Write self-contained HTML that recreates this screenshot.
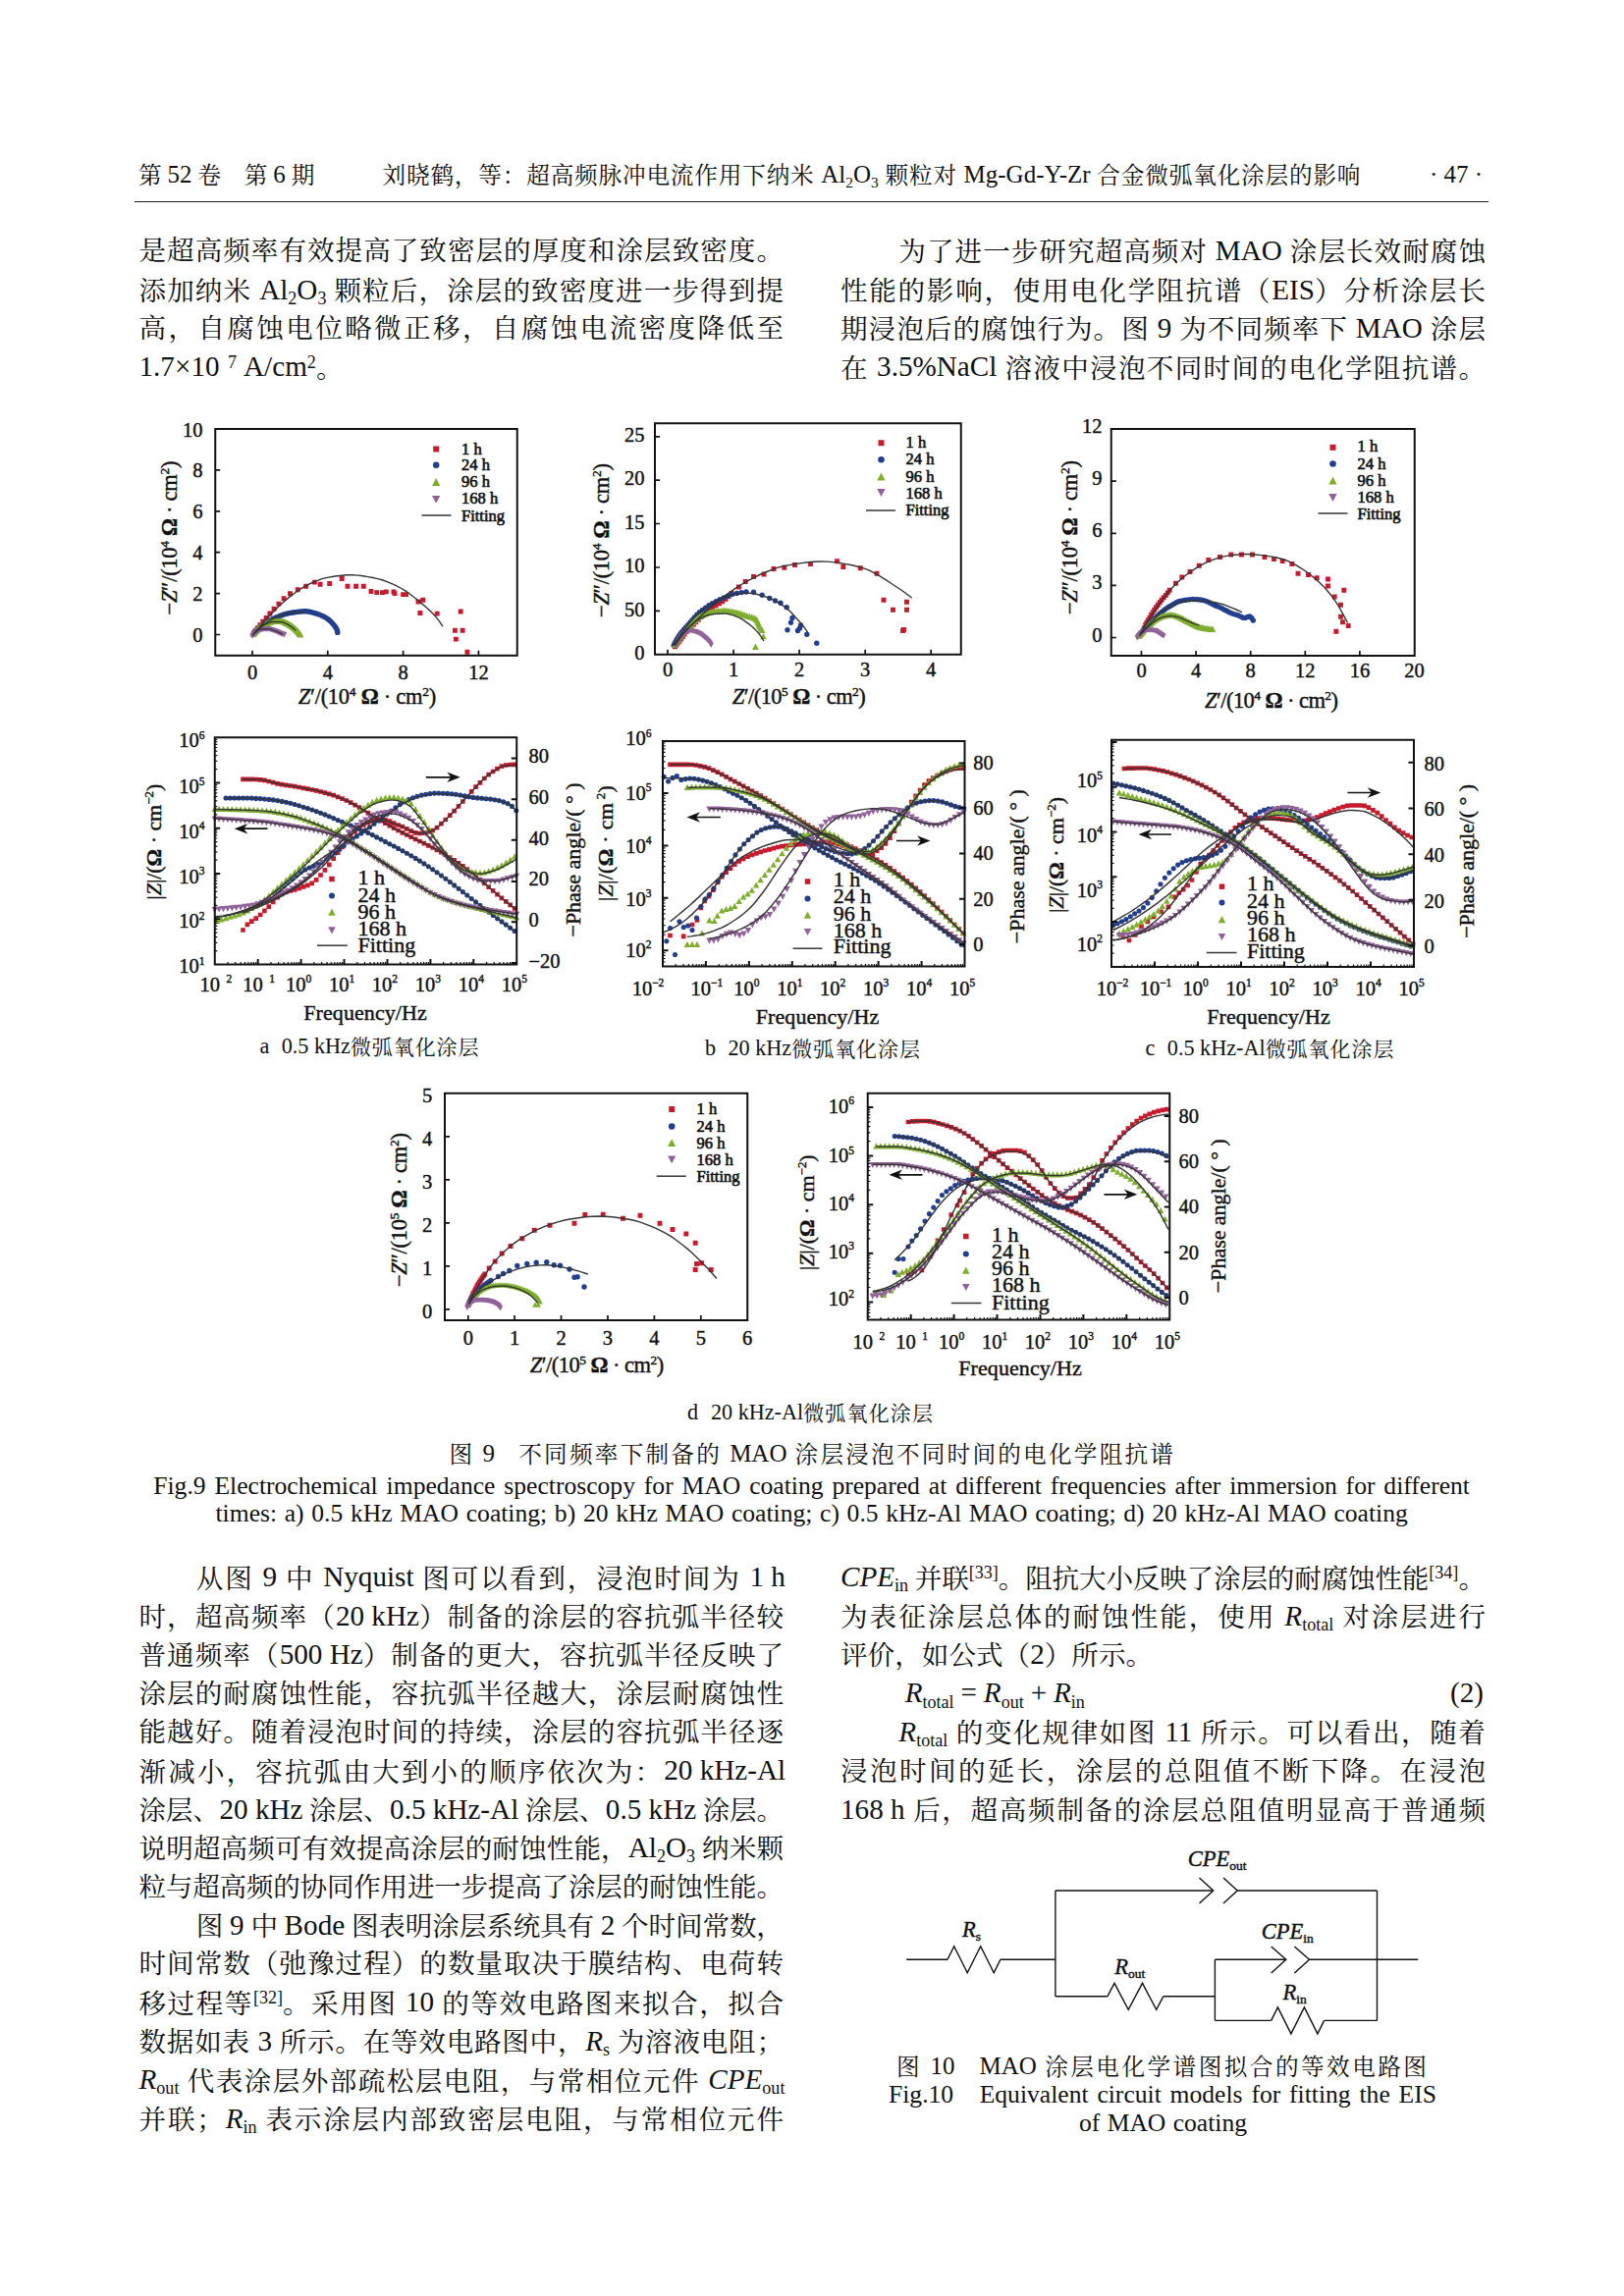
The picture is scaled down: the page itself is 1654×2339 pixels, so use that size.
<!DOCTYPE html><html lang="zh"><head><meta charset="utf-8"><title>p47</title><style>
html,body{margin:0;padding:0;background:#fff;}
body{width:1654px;height:2339px;position:relative;overflow:hidden;color:#111;
 font-family:"Liberation Serif","Noto Serif CJK SC",serif;}
.l{position:absolute;white-space:nowrap;font-weight:400;}
.l sub,.l sup{font-size:62%;line-height:0;}
.l sub{vertical-align:-0.27em;}
.l sup{vertical-align:0.5em;}
.b{font-size:27.6px;line-height:40px;height:40px;}
.en{font-size:1.057em;position:relative;top:-0.045em;letter-spacing:0;}
.h{font-size:23.65px;line-height:34px;height:34px;}
.e{font-size:25.6px;line-height:28px;height:28px;}
.s{font-size:21px;line-height:30px;height:30px;}
.j{text-align:justify;text-align-last:justify;}
i{font-style:italic;}
#rule{position:absolute;left:137px;top:205px;width:1379px;height:1.3px;background:#222;}
svg{position:absolute;overflow:visible;}
svg text{font-family:"Liberation Serif","Noto Serif CJK SC",serif;fill:#111;stroke:#111;stroke-width:.42px;}
</style></head><body>
<div id="rule"></div>
<div class="l h" id="t0" style="left:141.00px;top:162.25px;">第 <span class="en">52</span> 卷&emsp;第 <span class="en">6</span> 期</div>
<div class="l h" id="t1" style="left:389.50px;top:162.25px;letter-spacing:0.806px;">刘晓鹤，等：超高频脉冲电流作用下纳米 <span class="en">Al</span><sub><span class="en">2</span></sub><span class="en">O</span><sub><span class="en">3</span></sub> 颗粒对 <span class="en">Mg-Gd-Y-Zr</span> 合金微弧氧化涂层的影响</div>
<div class="l h" id="t2" style="left:1456.00px;top:162.25px;letter-spacing:-0.125px;"><span class="en">· 47 ·</span></div>
<div class="l b" id="t3" style="left:141.50px;top:236.45px;letter-spacing:0.992px;">是超高频率有效提高了致密层的厚度和涂层致密度。</div>
<div class="l b" id="t4" style="left:141.50px;top:275.83px;letter-spacing:1.071px;">添加纳米 <span class="en">Al</span><sub><span class="en">2</span></sub><span class="en">O</span><sub><span class="en">3</span></sub> 颗粒后，涂层的致密度进一步得到提</div>
<div class="l b" id="t5" style="left:141.50px;top:315.21px;letter-spacing:2.353px;">高，自腐蚀电位略微正移，自腐蚀电流密度降低至</div>
<div class="l b" id="t6" style="left:141.50px;top:354.59px;"><span class="en">1.7×10</span><sup>&nbsp;&nbsp;<span class="en">7</span></sup> <span class="en">A/cm</span><sup><span class="en">2</span></sup>。</div>
<div class="l b" id="t7" style="left:915.34px;top:236.45px;letter-spacing:1.006px;">为了进一步研究超高频对 <span class="en">MAO</span> 涂层长效耐腐蚀</div>
<div class="l b" id="t8" style="left:856.00px;top:275.83px;letter-spacing:1.688px;">性能的影响，使用电化学阻抗谱（<span class="en">EIS</span>）分析涂层长</div>
<div class="l b" id="t9" style="left:856.00px;top:315.21px;letter-spacing:1.021px;">期浸泡后的腐蚀行为。图 <span class="en">9</span> 为不同频率下 <span class="en">MAO</span> 涂层</div>
<div class="l b" id="t10" style="left:856.00px;top:354.59px;letter-spacing:1.275px;">在 <span class="en">3.5%NaCl</span> 溶液中浸泡不同时间的电化学阻抗谱。</div>
<div class="l b" id="t11" style="left:199.84px;top:1587.60px;letter-spacing:1.886px;">从图 <span class="en">9</span> 中 <span class="en">Nyquist</span> 图可以看到，浸泡时间为 <span class="en">1 h</span></div>
<div class="l b" id="t12" style="left:141.50px;top:1626.98px;letter-spacing:1.030px;">时，超高频率（<span class="en">20 kHz</span>）制备的涂层的容抗弧半径较</div>
<div class="l b" id="t13" style="left:141.50px;top:1666.36px;letter-spacing:1.030px;">普通频率（<span class="en">500 Hz</span>）制备的更大，容抗弧半径反映了</div>
<div class="l b" id="t14" style="left:141.50px;top:1705.74px;letter-spacing:0.992px;">涂层的耐腐蚀性能，容抗弧半径越大，涂层耐腐蚀性</div>
<div class="l b" id="t15" style="left:141.50px;top:1745.12px;letter-spacing:0.992px;">能越好。随着浸泡时间的持续，涂层的容抗弧半径逐</div>
<div class="l b" id="t16" style="left:141.50px;top:1784.50px;letter-spacing:2.112px;">渐减小，容抗弧由大到小的顺序依次为：<span class="en">20 kHz-Al</span></div>
<div class="l b" id="t17" style="left:141.50px;top:1823.88px;letter-spacing:-0.278px;">涂层、<span class="en">20 kHz</span> 涂层、<span class="en">0.5 kHz-Al</span> 涂层、<span class="en">0.5 kHz</span> 涂层。</div>
<div class="l b" id="t18" style="left:141.50px;top:1863.26px;letter-spacing:0.086px;">说明超高频可有效提高涂层的耐蚀性能，<span class="en">Al</span><sub><span class="en">2</span></sub><span class="en">O</span><sub><span class="en">3</span></sub> 纳米颗</div>
<div class="l b" id="t19" style="left:141.50px;top:1902.64px;letter-spacing:-0.251px;">粒与超高频的协同作用进一步提高了涂层的耐蚀性能。</div>
<div class="l b" id="t20" style="left:199.84px;top:1942.02px;letter-spacing:-0.140px;">图 <span class="en">9</span> 中 <span class="en">Bode</span> 图表明涂层系统具有 <span class="en">2</span> 个时间常数，</div>
<div class="l b" id="t21" style="left:141.50px;top:1981.40px;letter-spacing:0.992px;">时间常数（弛豫过程）的数量取决于膜结构、电荷转</div>
<div class="l b" id="t22" style="left:141.50px;top:2020.78px;letter-spacing:1.501px;">移过程等<sup><span class="en">[32]</span></sup>。采用图 <span class="en">10</span> 的等效电路图来拟合，拟合</div>
<div class="l b" id="t23" style="left:141.50px;top:2060.16px;letter-spacing:0.734px;">数据如表 <span class="en">3</span> 所示。在等效电路图中，<i><span class="en">R</span></i><sub><span class="en">s</span></sub> 为溶液电阻；</div>
<div class="l b" id="t24" style="left:141.50px;top:2099.54px;letter-spacing:1.415px;"><i><span class="en">R</span></i><sub><span class="en">out</span></sub> 代表涂层外部疏松层电阻，与常相位元件 <i><span class="en">CPE</span></i><sub><span class="en">out</span></sub></div>
<div class="l b" id="t25" style="left:141.50px;top:2138.92px;letter-spacing:1.821px;">并联；<i><span class="en">R</span></i><sub><span class="en">in</span></sub> 表示涂层内部致密层电阻，与常相位元件</div>
<div class="l b" id="t26" style="left:856.00px;top:1587.60px;letter-spacing:-0.190px;"><i><span class="en">CPE</span></i><sub><span class="en">in</span></sub> 并联<sup><span class="en">[33]</span></sup>。阻抗大小反映了涂层的耐腐蚀性能<sup><span class="en">[34]</span></sup>。</div>
<div class="l b" id="t27" style="left:856.00px;top:1626.98px;letter-spacing:1.969px;">为表征涂层总体的耐蚀性能，使用 <i><span class="en">R</span></i><sub><span class="en">total</span></sub> 对涂层进行</div>
<div class="l b" id="t28" style="left:856.00px;top:1666.36px;">评价，如公式（<span class="en">2</span>）所示。</div>
<div class="l b" id="t29" style="left:915.34px;top:1745.12px;letter-spacing:1.569px;"><i><span class="en">R</span></i><sub><span class="en">total</span></sub> 的变化规律如图 <span class="en">11</span> 所示。可以看出，随着</div>
<div class="l b" id="t30" style="left:856.00px;top:1784.50px;letter-spacing:2.377px;">浸泡时间的延长，涂层的总阻值不断下降。在浸泡</div>
<div class="l b" id="t31" style="left:856.00px;top:1823.88px;letter-spacing:1.630px;"><span class="en">168 h</span> 后，超高频制备的涂层总阻值明显高于普通频</div>
<div class="l b f" id="t32" style="left:921.63px;top:1705.74px;"><i><span class="en">R</span></i><sub><span class="en">total</span></sub> <span class="en">=</span> <i><span class="en">R</span></i><sub><span class="en">out</span></sub> <span class="en">+</span> <i><span class="en">R</span></i><sub><span class="en">in</span></sub></div>
<div class="l b" id="t33" style="left:1477.00px;top:1705.74px;"><span class="en">(2)</span></div>
<div class="l s" id="t34" style="left:264.50px;top:1051.50px;letter-spacing:0.913px;"><span class="en">a</span>&nbsp; <span class="en">0.5 kHz</span>微弧氧化涂层</div>
<div class="l s" id="t35" style="left:718.00px;top:1053.50px;letter-spacing:0.958px;"><span class="en">b</span>&nbsp; <span class="en">20 kHz</span>微弧氧化涂层</div>
<div class="l s" id="t36" style="left:1166.50px;top:1053.50px;letter-spacing:0.973px;"><span class="en">c</span>&nbsp; <span class="en">0.5 kHz-Al</span>微弧氧化涂层</div>
<div class="l s" id="t37" style="left:700.00px;top:1424.50px;letter-spacing:1.161px;"><span class="en">d</span>&nbsp; <span class="en">20 kHz-Al</span>微弧氧化涂层</div>
<div class="l h" id="t38" style="left:457.50px;top:1465.25px;letter-spacing:2.200px;">图 <span class="en">9</span>&nbsp;&nbsp;&nbsp;不同频率下制备的 <span class="en">MAO</span> 涂层浸泡不同时间的电化学阻抗谱</div>
<div class="l e" id="t39" style="left:156.25px;top:1500.00px;word-spacing:2.485px;">Fig.9 Electrochemical impedance spectroscopy for MAO coating prepared at different frequencies after immersion for different</div>
<div class="l e" id="t40" style="left:219.50px;top:1527.50px;word-spacing:1.290px;">times: a) 0.5 kHz MAO coating; b) 20 kHz MAO coating; c) 0.5 kHz-Al MAO coating; d) 20 kHz-Al MAO coating</div>
<div class="l h" id="t41" style="left:913.00px;top:2089.00px;letter-spacing:2.444px;">图 <span class="en">10</span>&nbsp;&nbsp;&nbsp;<span class="en">MAO</span> 涂层电化学谱图拟合的等效电路图</div>
<div class="l e" id="t42" style="left:905.00px;top:2120.00px;word-spacing:2.448px;">Fig.10&nbsp;&nbsp;&nbsp;Equivalent circuit models for fitting the EIS</div>
<div class="l e" id="t43" style="left:1099.00px;top:2148.50px;word-spacing:0.914px;">of MAO coating</div>
<svg width="1654" height="2339" viewBox="0 0 1654 2339" style="left:0;top:0"><g><path d="M258.9 644.4h0M259.5 643.7h0M260.7 642h0M262.6 639.7h0M264.9 636.8h0M267.8 633.3h0M271.1 629.4h0M274.9 625h0M279.1 620.2h0M283.9 615.1h0M289.1 609.7h0M295.5 604.7h0M303.2 600.8h0M311.7 597.3h0M320.4 593.1h0M326.1 595.2h0M335.7 594.5h0M348.2 589.5h0M354 597.3h0M362.6 597.3h0M370.3 597.3h0M378 602.5h0M383.7 603.6h0M389.5 603.6h0M393.3 602.9h0M401 602.9h0M402 604.6h0M410.6 605.6h0M413.5 605.6h0M426 613h0M430.8 611.3h0M427.9 624.5h0M445.2 625.1h0M469.2 623h0M463.4 642.3h0M471.1 642.3h0M464.4 651.1h0M475.9 664.3h0" stroke="#c81a2d" stroke-width="4.9" stroke-linecap="square" fill="none"/><path d="M258.9 644.8h0M259.8 643.8h0M260.8 642.8h0M261.7 641.9h0M262.7 640.9h0M263.7 640h0M264.7 639.2h0M265.7 638.3h0M266.8 637.4h0M267.8 636.6h0M268.9 635.8h0M270 635h0M271.2 634.3h0M272.3 633.6h0M273.4 632.9h0M274.6 632.2h0M275.8 631.6h0M277 630.9h0M278.2 630.3h0M279.5 629.8h0M280.7 629.2h0M281.9 628.7h0M283.2 628.2h0M284.4 627.7h0M285.7 627.3h0M287 626.8h0M288.3 626.3h0M289.6 625.9h0M290.9 625.5h0M292.2 625.2h0M293.5 624.9h0M294.8 624.6h0M296.1 624.4h0M297.4 624.2h0M298.8 624h0M300.1 623.8h0M301.4 623.6h0M302.8 623.4h0M304.1 623.2h0M305.5 623.1h0M306.8 623h0M308.2 622.9h0M309.5 622.8h0M310.9 622.8h0M312.2 622.9h0M313.5 623h0M314.9 623.2h0M316.2 623.5h0M317.5 623.8h0M318.9 624.2h0M320.2 624.5h0M321.5 624.9h0M322.7 625.3h0M324 625.7h0M325.3 626.1h0M326.6 626.6h0M327.8 627.2h0M329.1 627.8h0M330.3 628.4h0M331.4 629.1h0M332.5 629.7h0M333.7 630.5h0M334.7 631.3h0M335.8 632.2h0M336.8 633.1h0M337.8 634.1h0M338.7 635.1h0M339.6 636.1h0M340.4 637.1h0M341.3 638.2h0M342 639.4h0M342.7 640.6h0M343.2 641.8h0M343.6 643.1h0M343.8 644.4h0" stroke="#223f8e" stroke-width="5.4" stroke-linecap="round" fill="none"/><path d="M258 642.6l3.4 6.5h-6.8zM258.6 641.8l3.4 6.5h-6.8zM259.2 641.1l3.4 6.5h-6.8zM259.8 640.3l3.4 6.5h-6.8zM260.5 639.6l3.4 6.5h-6.8zM261.1 638.9l3.4 6.5h-6.8zM261.8 638.2l3.4 6.5h-6.8zM262.5 637.6l3.4 6.5h-6.8zM263.2 636.9l3.4 6.5h-6.8zM264 636.3l3.4 6.5h-6.8zM264.7 635.7l3.4 6.5h-6.8zM265.5 635.1l3.4 6.5h-6.8zM266.3 634.5l3.4 6.5h-6.8zM267.1 634l3.4 6.5h-6.8zM267.9 633.5l3.4 6.5h-6.8zM268.8 633l3.4 6.5h-6.8zM269.6 632.5l3.4 6.5h-6.8zM270.5 632.1l3.4 6.5h-6.8zM271.3 631.7l3.4 6.5h-6.8zM272.2 631.3l3.4 6.5h-6.8zM273.1 630.9l3.4 6.5h-6.8zM274 630.6l3.4 6.5h-6.8zM275 630.2l3.4 6.5h-6.8zM275.9 630l3.4 6.5h-6.8zM276.9 629.7l3.4 6.5h-6.8zM277.8 629.6l3.4 6.5h-6.8zM278.8 629.6l3.4 6.5h-6.8zM279.7 629.5l3.4 6.5h-6.8zM280.7 629.5l3.4 6.5h-6.8zM281.7 629.5l3.4 6.5h-6.8zM282.6 629.4l3.4 6.5h-6.8zM283.6 629.4l3.4 6.5h-6.8zM284.6 629.4l3.4 6.5h-6.8zM285.5 629.4l3.4 6.5h-6.8zM286.5 629.4l3.4 6.5h-6.8zM287.4 629.6l3.4 6.5h-6.8zM288.3 629.8l3.4 6.5h-6.8zM289.3 630.1l3.4 6.5h-6.8zM290.2 630.5l3.4 6.5h-6.8zM291.1 630.9l3.4 6.5h-6.8zM292 631.4l3.4 6.5h-6.8zM292.9 631.8l3.4 6.5h-6.8zM293.7 632.2l3.4 6.5h-6.8zM294.6 632.7l3.4 6.5h-6.8zM295.4 633.2l3.4 6.5h-6.8zM296.2 633.7l3.4 6.5h-6.8zM297 634.2l3.4 6.5h-6.8zM297.8 634.8l3.4 6.5h-6.8zM298.6 635.4l3.4 6.5h-6.8zM299.3 636l3.4 6.5h-6.8zM300.1 636.6l3.4 6.5h-6.8zM300.8 637.3l3.4 6.5h-6.8zM301.6 637.9l3.4 6.5h-6.8zM302.3 638.6l3.4 6.5h-6.8zM303 639.2l3.4 6.5h-6.8zM303.6 639.9l3.4 6.5h-6.8zM304.3 640.7l3.4 6.5h-6.8zM304.9 641.4l3.4 6.5h-6.8zM305.4 642.2l3.4 6.5h-6.8zM306 643l3.4 6.5h-6.8z" fill="#7fae2e"/><path d="M257 650.7l2.7 -5.2h-5.4zM257.5 650l2.7 -5.2h-5.4zM258 649.4l2.7 -5.2h-5.4zM258.6 648.8l2.7 -5.2h-5.4zM259.2 648.2l2.7 -5.2h-5.4zM259.8 647.6l2.7 -5.2h-5.4zM260.4 647.1l2.7 -5.2h-5.4zM261 646.6l2.7 -5.2h-5.4zM261.7 646l2.7 -5.2h-5.4zM262.4 645.5l2.7 -5.2h-5.4zM263.1 645.1l2.7 -5.2h-5.4zM263.8 644.7l2.7 -5.2h-5.4zM264.5 644.4l2.7 -5.2h-5.4zM265.3 644.2l2.7 -5.2h-5.4zM266.1 644.1l2.7 -5.2h-5.4zM266.9 643.9l2.7 -5.2h-5.4zM267.7 643.8l2.7 -5.2h-5.4zM268.5 643.6l2.7 -5.2h-5.4zM269.3 643.5l2.7 -5.2h-5.4zM270.2 643.4l2.7 -5.2h-5.4zM271 643.4l2.7 -5.2h-5.4zM271.8 643.4l2.7 -5.2h-5.4zM272.6 643.3l2.7 -5.2h-5.4zM273.4 643.4l2.7 -5.2h-5.4zM274.2 643.5l2.7 -5.2h-5.4zM275 643.7l2.7 -5.2h-5.4zM275.8 643.9l2.7 -5.2h-5.4zM276.6 644.2l2.7 -5.2h-5.4zM277.4 644.5l2.7 -5.2h-5.4zM278.2 644.8l2.7 -5.2h-5.4zM279 645.1l2.7 -5.2h-5.4zM279.7 645.3l2.7 -5.2h-5.4zM280.5 645.6l2.7 -5.2h-5.4zM281.3 645.9l2.7 -5.2h-5.4zM282 646.2l2.7 -5.2h-5.4zM282.8 646.6l2.7 -5.2h-5.4zM283.5 646.9l2.7 -5.2h-5.4zM284.2 647.3l2.7 -5.2h-5.4zM285 647.6l2.7 -5.2h-5.4zM285.7 647.9l2.7 -5.2h-5.4zM286.5 648.2l2.7 -5.2h-5.4zM287.3 648.5l2.7 -5.2h-5.4zM288.1 648.7l2.7 -5.2h-5.4zM288.9 649l2.7 -5.2h-5.4zM289.6 649.2l2.7 -5.2h-5.4z" fill="#91619a"/><path d="M259.9 644.4L263.1 640.3L266.5 636.3L269.9 632.4L273.4 628.5L277 624.7L280.6 621L284.4 617.3L288.2 613.8L292.1 610.4L296.2 607.1L300.4 604L304.7 600.9L309.1 598.1L313.6 595.6L318.3 593.5L323.2 591.4L328.1 589.6L333.2 588.4L338.3 587.5L343.4 586.8L348.7 586.2L353.9 585.8L359.1 585.8L364.3 586.1L369.5 586.8L374.7 587.6L379.8 588.5L384.8 589.6L389.9 591L394.8 592.8L399.7 594.9L404.4 597.1L408.9 599.5L413.3 602.2L417.6 605.2L421.8 608.5L425.9 611.8L429.9 615.1L433.9 618.5L437.8 622L441.5 625.7L444.9 629.6L448 633.7L450.9 638.1" fill="none" stroke="#353535" stroke-width="1.4"/><path d="M258.9 644.8L259.8 643.8L260.7 642.9L261.6 642L262.6 641L263.6 640.2L264.5 639.3L265.5 638.4L266.6 637.6L267.6 636.8L268.7 636L269.7 635.2L270.8 634.5L271.9 633.8L273 633.1L274.2 632.5L275.3 631.8L276.5 631.2L277.7 630.6L278.9 630L280.1 629.5L281.3 629L282.5 628.5L283.7 628L284.9 627.5L286.2 627L287.4 626.6L288.7 626.1L289.9 625.7L291.2 625.3L292.5 625L293.8 624.8L295 624.5L296.3 624.4L297.6 624.3L298.9 624.1L300.2 624L301.5 623.9L302.8 623.8L304.1 623.7L305.4 623.6L306.8 623.5L308.1 623.5L309.4 623.5L310.8 623.5" fill="none" stroke="#353535" stroke-width="1.4"/><path d="M258 646.5L258.7 645.6L259.4 644.7L260.2 643.8L260.9 643L261.7 642.2L262.6 641.4L263.4 640.7L264.3 640L265.2 639.3L266.1 638.6L267.1 637.9L268 637.3L269 636.7L270 636.2L271 635.8L272.1 635.3L273.1 634.8L274.2 634.4L275.3 634L276.4 633.7L277.5 633.5L278.7 633.5L279.8 633.5L280.9 633.5L282.1 633.5L283.2 633.5L284.4 633.5L285.5 633.5L286.6 633.6L287.7 633.8L288.8 634.1L289.9 634.6L290.9 635.1L292 635.6L293 636.2L294 636.7L294.9 637.3L295.9 637.9L296.8 638.5L297.7 639.2L298.6 639.9L299.5 640.7L300.3 641.5L301.2 642.3" fill="none" stroke="#353535" stroke-width="1.4"/><path d="M257 647.5L257.5 646.9L258 646.3L258.5 645.7L259 645.2L259.6 644.7L260.2 644.2L260.8 643.6L261.4 643.1L262 642.6L262.7 642.1L263.4 641.7L264 641.4L264.7 641.3L265.5 641.1L266.2 641L267 641L267.7 640.9L268.5 640.8L269.3 640.7L270.1 640.7L270.9 640.7L271.7 640.6L272.4 640.6L273.2 640.7L274 640.8L274.7 640.9L275.5 641.1L276.2 641.4L277 641.6L277.7 641.9L278.4 642.2L279.2 642.4L279.9 642.7L280.6 642.9L281.4 643.2L282.1 643.5L282.8 643.8L283.5 644.1L284.2 644.4L284.9 644.7L285.6 645L286.3 645.4L287 645.7L287.7 646.1" fill="none" stroke="#353535" stroke-width="1.4"/><rect x="219.25" y="437" width="307.5" height="230.8" fill="none" stroke="#111" stroke-width="2"/><text x="257" y="691.8" font-size="20.5" text-anchor="middle" >0</text><text x="333.8" y="691.8" font-size="20.5" text-anchor="middle" >4</text><text x="410.6" y="691.8" font-size="20.5" text-anchor="middle" >8</text><text x="487.4" y="691.8" font-size="20.5" text-anchor="middle" >12</text><text x="206.5" y="654" font-size="20.5" text-anchor="end" >0</text><text x="206.5" y="612.1" font-size="20.5" text-anchor="end" >2</text><text x="206.5" y="570.2" font-size="20.5" text-anchor="end" >4</text><text x="206.5" y="528.3" font-size="20.5" text-anchor="end" >6</text><text x="206.5" y="486.4" font-size="20.5" text-anchor="end" >8</text><text x="206.5" y="444.5" font-size="20.5" text-anchor="end" >10</text><text x="374" y="717" font-size="22.5" text-anchor="middle" textLength="140.5" lengthAdjust="spacing"><tspan font-style="italic">Z</tspan>′/(10<tspan dy="-8" font-size="13.5">4</tspan><tspan dy="8"> </tspan><tspan font-weight="bold">Ω</tspan> · cm<tspan dy="-8" font-size="13.5">2</tspan><tspan dy="8">)</tspan></text><text transform="translate(179.5 548) rotate(-90)" font-size="22.5" text-anchor="middle" textLength="157" lengthAdjust="spacing">−<tspan font-style="italic">Z</tspan>″/(10<tspan dy="-8" font-size="13.5">4</tspan><tspan dy="8"> </tspan><tspan font-weight="bold">Ω</tspan> · cm<tspan dy="-8" font-size="13.5">2</tspan><tspan dy="8">)</tspan></text><path d="M444.2 457.5h0" stroke="#c81a2d" stroke-width="5.98" stroke-linecap="square" fill="none"/><path d="M444.2 473.8h0" stroke="#223f8e" stroke-width="6.59" stroke-linecap="round" fill="none"/><path d="M444.2 487l4.1 7.9h-8.3z" fill="#7fae2e"/><path d="M444.2 512.8l4.1 -7.9h-8.3z" fill="#91619a"/><text x="470" y="462.5" font-size="16.5" text-anchor="start" style="stroke-width:.65px">1 h</text><text x="470" y="479" font-size="16.5" text-anchor="start" style="stroke-width:.65px">24 h</text><text x="470" y="496" font-size="16.5" text-anchor="start" style="stroke-width:.65px">96 h</text><text x="470" y="513" font-size="16.5" text-anchor="start" style="stroke-width:.65px">168 h</text><text x="470" y="530.5" font-size="16.5" text-anchor="start" style="stroke-width:.65px">Fitting</text></g><path d="M257 662.8V667.8M333.8 662.8V667.8M410.6 662.8V667.8M487.4 662.8V667.8M219.2 646.5H224.2M219.2 604.6H224.2M219.2 562.7H224.2M219.2 520.8H224.2M219.2 478.9H224.2" stroke="#111" stroke-width="1.7" fill="none"/><path d="M429.5 525H459.5" stroke="#353535" stroke-width="1.5" fill="none"/>
<g><path d="M687.5 658.8h0M688.7 657.3h0M690.2 655.4h0M691.8 653.4h0M693.6 651.1h0M695.3 648.7h0M697.1 646.1h0M699.1 643.6h0M701.3 641.1h0M703.7 638.7h0M706.2 636.3h0M708.7 633.8h0M711.3 631.2h0M713.9 628.6h0M716.6 626h0M719.5 623.6h0M722.5 621.2h0M725.7 619h0M729 616.8h0M732.5 614.8h0M735.9 612.8h0M739.1 610.3h0M742.1 607.5h0M745 604.5h0M752.5 598h0M759.2 592.5h0M767.5 587.5h0M778 585h0M788 579.5h0M798.8 578.2h0M809.5 575.5h0M825.5 574.5h0M852.5 571.8h0M858.8 577.5h0M876.2 578.8h0M893 584.2h0M900 611.2h0M909.5 621.2h0M923.5 613.2h0M923.5 621.2h0M919.5 642.5h0M920.5 641.5h0" stroke="#c81a2d" stroke-width="4.9" stroke-linecap="square" fill="none"/><path d="M686.2 657.5h0M686.5 656.9h0M687 655.9h0M687.6 654.6h0M688.4 653h0M689.3 651.3h0M690.4 649.5h0M691.7 647.5h0M693.1 645.5h0M694.7 643.4h0M696.6 641.3h0M698.6 639h0M700.7 636.7h0M702.8 634.2h0M705 631.6h0M707.3 629h0M709.8 626.3h0M712.4 623.8h0M715.4 621.4h0M718.6 619.1h0M722 616.8h0M725.5 614.7h0M729.3 612.6h0M733.2 610.7h0M737.2 608.9h0M741.5 607.2h0M745.8 605.6h0M750.4 604.4h0M755.1 603.6h0M760 603h0M767.5 603.2h0M776.2 606.2h0M783.8 609.5h0M789.5 612h0M795 614.2h0M801.2 618.8h0M807 629.5h0M805.5 634.2h0M802 641.8h0M812.5 642.5h0M815.5 637h0M814.5 640h0M821.8 646.2h0M831.8 655.2h0" stroke="#223f8e" stroke-width="5.4" stroke-linecap="round" fill="none"/><path d="M687.5 653.6l3.4 6.5h-6.8zM688.6 651.6l3.4 6.5h-6.8zM689.7 649.6l3.4 6.5h-6.8zM690.9 647.7l3.4 6.5h-6.8zM692.2 645.8l3.4 6.5h-6.8zM693.5 644l3.4 6.5h-6.8zM694.8 642.1l3.4 6.5h-6.8zM696.2 640.4l3.4 6.5h-6.8zM697.7 638.6l3.4 6.5h-6.8zM699.2 636.9l3.4 6.5h-6.8zM700.8 635.3l3.4 6.5h-6.8zM702.3 633.6l3.4 6.5h-6.8zM703.9 631.9l3.4 6.5h-6.8zM705.6 630.3l3.4 6.5h-6.8zM707.3 628.7l3.4 6.5h-6.8zM709 627.3l3.4 6.5h-6.8zM710.8 625.9l3.4 6.5h-6.8zM712.6 624.8l3.4 6.5h-6.8zM714.6 623.7l3.4 6.5h-6.8zM716.6 622.7l3.4 6.5h-6.8zM718.7 621.7l3.4 6.5h-6.8zM720.9 620.9l3.4 6.5h-6.8zM723.1 620.2l3.4 6.5h-6.8zM725.3 619.8l3.4 6.5h-6.8zM727.5 619.5l3.4 6.5h-6.8zM729.8 619.1l3.4 6.5h-6.8zM732 618.9l3.4 6.5h-6.8zM734.3 618.7l3.4 6.5h-6.8zM736.6 618.6l3.4 6.5h-6.8zM738.8 618.6l3.4 6.5h-6.8zM741.1 618.8l3.4 6.5h-6.8zM743.3 619.2l3.4 6.5h-6.8zM745.6 619.6l3.4 6.5h-6.8zM747.8 620.1l3.4 6.5h-6.8zM750 620.6l3.4 6.5h-6.8zM752.2 621.1l3.4 6.5h-6.8zM754.4 621.7l3.4 6.5h-6.8zM756.6 622.4l3.4 6.5h-6.8zM758.7 623.2l3.4 6.5h-6.8zM760.9 623.9l3.4 6.5h-6.8zM763.2 624.5l3.4 6.5h-6.8zM765.6 625.2l3.4 6.5h-6.8zM767.7 626l3.4 6.5h-6.8zM769.5 627l3.4 6.5h-6.8zM770.8 628.3l3.4 6.5h-6.8zM771.8 630.4l3.4 6.5h-6.8zM772.7 632.7l3.4 6.5h-6.8zM773.7 634.8l3.4 6.5h-6.8zM774.9 636.7l3.4 6.5h-6.8zM776.2 638.6l3.4 6.5h-6.8zM777.5 644.8l3.4 6.5h-6.8zM769.5 655.6l3.4 6.5h-6.8z" fill="#7fae2e"/><path d="M688 661.1l2.7 -5.2h-5.4zM688.6 660l2.7 -5.2h-5.4zM689.3 658.9l2.7 -5.2h-5.4zM689.9 657.8l2.7 -5.2h-5.4zM690.6 656.7l2.7 -5.2h-5.4zM691.2 655.7l2.7 -5.2h-5.4zM691.9 654.6l2.7 -5.2h-5.4zM692.6 653.5l2.7 -5.2h-5.4zM693.3 652.4l2.7 -5.2h-5.4zM694 651.3l2.7 -5.2h-5.4zM694.8 650.4l2.7 -5.2h-5.4zM695.6 649.5l2.7 -5.2h-5.4zM696.6 648.5l2.7 -5.2h-5.4zM697.6 647.6l2.7 -5.2h-5.4zM698.7 646.7l2.7 -5.2h-5.4zM699.8 646l2.7 -5.2h-5.4zM700.9 645.4l2.7 -5.2h-5.4zM702.1 645.2l2.7 -5.2h-5.4zM703.2 645.2l2.7 -5.2h-5.4zM704.5 645.3l2.7 -5.2h-5.4zM705.7 645.6l2.7 -5.2h-5.4zM707 645.9l2.7 -5.2h-5.4zM708.3 646.3l2.7 -5.2h-5.4zM709.5 646.7l2.7 -5.2h-5.4zM710.6 647.1l2.7 -5.2h-5.4zM711.8 647.7l2.7 -5.2h-5.4zM712.9 648.3l2.7 -5.2h-5.4zM713.9 649l2.7 -5.2h-5.4zM715 649.8l2.7 -5.2h-5.4zM716 650.6l2.7 -5.2h-5.4zM717 651.5l2.7 -5.2h-5.4zM718 652.3l2.7 -5.2h-5.4zM718.9 653.1l2.7 -5.2h-5.4zM719.9 654l2.7 -5.2h-5.4zM720.8 654.9l2.7 -5.2h-5.4zM721.7 655.8l2.7 -5.2h-5.4zM722.4 656.8l2.7 -5.2h-5.4zM723.1 657.8l2.7 -5.2h-5.4zM723.7 659l2.7 -5.2h-5.4zM724.2 660.1l2.7 -5.2h-5.4z" fill="#91619a"/><path d="M685 657.5L689.2 652.6L693.5 647.9L697.8 643.2L702.3 638.6L706.8 634.1L711.4 629.7L716.1 625.4L720.9 621.2L725.8 617L730.7 612.9L735.7 608.9L740.9 605.1L746.1 601.4L751.3 597.9L756.8 594.5L762.3 591.3L768 588.3L773.7 585.5L779.6 583L785.6 580.6L791.6 578.4L797.8 576.7L804 575.6L810.2 574.5L816.6 573.6L823 572.8L829.4 572.3L835.8 572L842.1 572.1L848.6 572.6L855 573.5L861.4 574.6L867.7 575.8L873.8 577.2L879.7 578.9L885.5 581.2L891.2 584.1L896.9 587.4L902.4 590.9L907.9 594.5L913.2 598L918.5 601.5L923.7 605.3L928.7 609.2" fill="none" stroke="#353535" stroke-width="1.4"/><path d="M686.2 657.5L688.3 654.1L690.4 650.8L692.6 647.6L694.8 644.4L697.1 641.2L699.5 638.1L701.9 635.1L704.4 632.1L707 629.1L709.8 626.3L712.6 623.7L715.6 621.2L718.8 618.9L722.1 616.8L725.4 614.7L728.8 612.8L732.3 611L735.9 609.4L739.5 608L743.2 606.6L747 605.5L750.8 604.9L754.7 604.6L758.6 604.3L762.5 604.3L766.4 604.5L770.3 605.2L774.1 606.2L777.9 607.4L781.6 608.5L785.2 609.9L788.7 611.7L792.2 613.6L795.6 615.7L798.8 617.9L801.9 620.2L804.7 622.8L807.5 625.7L810.1 628.6L812.7 631.5L815.3 634.5L817.8 637.5L820.2 640.6L822.5 643.8" fill="none" stroke="#353535" stroke-width="1.4"/><path d="M687.5 657.5L688.9 655.3L690.3 653.1L691.9 651L693.4 648.9L695 646.9L696.7 644.9L698.4 643L700.1 641.1L701.9 639.2L703.8 637.4L705.7 635.5L707.7 633.8L709.7 632.2L711.9 630.9L714.1 629.7L716.4 628.5L718.8 627.4L721.3 626.5L723.8 625.9L726.3 625.6L728.9 625.4L731.5 625.2L734.1 625.1L736.7 625L739.3 625.1L741.8 625.5L744.4 626.1L746.9 626.9L749.3 627.8L751.7 628.7L754 629.8L756.3 631.1L758.5 632.6L760.6 634.1L762.7 635.6L764.7 637.2L766.7 638.9L768.6 640.7L770.4 642.6L772.1 644.5L773.7 646.5L775.2 648.6L776.7 650.8L778 653" fill="none" stroke="#353535" stroke-width="1.4"/><rect x="667" y="431.25" width="311.75" height="235.5" fill="none" stroke="#111" stroke-width="2"/><text x="680" y="688.75" font-size="20.5" text-anchor="middle" >0</text><text x="747.06" y="688.75" font-size="20.5" text-anchor="middle" >1</text><text x="814.12" y="688.75" font-size="20.5" text-anchor="middle" >2</text><text x="881.18" y="688.75" font-size="20.5" text-anchor="middle" >3</text><text x="948.24" y="688.75" font-size="20.5" text-anchor="middle" >4</text><text x="656.5" y="672.05" font-size="20.5" text-anchor="end" >0</text><text x="656.5" y="627.65" font-size="20.5" text-anchor="end" >50</text><text x="656.5" y="583.25" font-size="20.5" text-anchor="end" >10</text><text x="656.5" y="538.85" font-size="20.5" text-anchor="end" >15</text><text x="656.5" y="494.45" font-size="20.5" text-anchor="end" >20</text><text x="656.5" y="450.05" font-size="20.5" text-anchor="end" >25</text><text x="813.75" y="716.6" font-size="22.5" text-anchor="middle" textLength="136" lengthAdjust="spacing"><tspan font-style="italic">Z</tspan>′/(10<tspan dy="-8" font-size="13.5">5</tspan><tspan dy="8"> </tspan><tspan font-weight="bold">Ω</tspan> · cm<tspan dy="-8" font-size="13.5">2</tspan><tspan dy="8">)</tspan></text><text transform="translate(620 550.5) rotate(-90)" font-size="22.5" text-anchor="middle" textLength="157" lengthAdjust="spacing">−<tspan font-style="italic">Z</tspan>″/(10<tspan dy="-8" font-size="13.5">4</tspan><tspan dy="8"> </tspan><tspan font-weight="bold">Ω</tspan> · cm<tspan dy="-8" font-size="13.5">2</tspan><tspan dy="8">)</tspan></text><path d="M897.5 451.2h0" stroke="#c81a2d" stroke-width="5.98" stroke-linecap="square" fill="none"/><path d="M897.5 468.2h0" stroke="#223f8e" stroke-width="6.59" stroke-linecap="round" fill="none"/><path d="M897.5 481.5l4.1 7.9h-8.3z" fill="#7fae2e"/><path d="M897.5 506l4.1 -7.9h-8.3z" fill="#91619a"/><text x="922.5" y="455.75" font-size="16.5" text-anchor="start" style="stroke-width:.65px">1 h</text><text x="922.5" y="473.25" font-size="16.5" text-anchor="start" style="stroke-width:.65px">24 h</text><text x="922.5" y="490.5" font-size="16.5" text-anchor="start" style="stroke-width:.65px">96 h</text><text x="922.5" y="508" font-size="16.5" text-anchor="start" style="stroke-width:.65px">168 h</text><text x="922.5" y="525" font-size="16.5" text-anchor="start" style="stroke-width:.65px">Fitting</text></g><path d="M680 661.8V666.8M747.1 661.8V666.8M814.1 661.8V666.8M881.2 661.8V666.8M948.2 661.8V666.8M667 622.4H672M667 578H672M667 533.5H672M667 489.1H672M667 444.8H672" stroke="#111" stroke-width="1.7" fill="none"/><path d="M882 520H912" stroke="#353535" stroke-width="1.5" fill="none"/>
<g><path d="M1160.5 648h0M1162 646.3h0M1163.4 644.3h0M1164.6 642h0M1165.7 639.4h0M1166.7 636.7h0M1167.9 634.2h0M1169.4 631.7h0M1171 629.1h0M1172.6 626.5h0M1174.1 623.9h0M1175.7 621.3h0M1177.5 618.8h0M1179.3 616.2h0M1181.2 613.7h0M1183.1 611.2h0M1185.2 608.8h0M1187.4 606.4h0M1189.4 603.9h0M1191.2 601.2h0M1197.5 594.2h0M1203.8 588h0M1212 582.5h0M1221.2 576.2h0M1230.8 570.5h0M1242.5 567.5h0M1253.8 565h0M1264.5 565h0M1275.5 565h0M1288 567.5h0M1297.5 569.5h0M1306.2 571.5h0M1315.8 574.5h0M1322 584.2h0M1332.5 585.5h0M1341.2 588.8h0M1352.5 590h0M1352.5 597h0M1368.8 601.2h0M1359.2 608h0M1365.5 616.2h0M1365.5 628.2h0M1367.5 633.8h0M1373.2 637.5h0M1360.8 643.2h0" stroke="#c81a2d" stroke-width="4.9" stroke-linecap="square" fill="none"/><path d="M1161.2 646.2h0M1162.7 644.2h0M1164.3 642.3h0M1165.9 640.4h0M1167.6 638.6h0M1169.3 636.9h0M1171.1 635.1h0M1172.8 633.4h0M1174.6 631.6h0M1176.3 629.9h0M1178.1 628.2h0M1179.9 626.4h0M1181.7 624.7h0M1183.6 623.1h0M1185.5 621.6h0M1187.5 620.1h0M1189.6 618.8h0M1191.7 617.5h0M1193.9 616.2h0M1196 614.9h0M1198.2 613.7h0M1200.5 612.8h0M1202.8 612.2h0M1205.3 611.6h0M1207.7 611.2h0M1210.2 610.9h0M1212.7 610.6h0M1215.1 610.5h0M1217.6 610.6h0M1220.1 610.8h0M1222.6 611h0M1225 611.4h0M1227.4 612.1h0M1229.7 612.9h0M1232 613.9h0M1234.1 615.1h0M1236.4 616.3h0M1238.6 617.2h0M1241 618.1h0M1243.2 619.1h0M1245.4 620.2h0M1247.6 621.4h0M1249.8 622.5h0M1252 623.7h0M1254.3 624.7h0M1256.6 625.6h0M1259 626.3h0M1261.3 627h0M1263.6 628.1h0M1265.9 629.2h0M1268.3 629.4h0M1270.7 628.5h0M1272.9 628h0M1274.7 629.4h0M1276.3 632h0" stroke="#223f8e" stroke-width="5.4" stroke-linecap="round" fill="none"/><path d="M1160.5 644.1l3.4 6.5h-6.8zM1161.6 642.7l3.4 6.5h-6.8zM1162.6 641.3l3.4 6.5h-6.8zM1163.7 640l3.4 6.5h-6.8zM1164.9 638.7l3.4 6.5h-6.8zM1166.1 637.4l3.4 6.5h-6.8zM1167.3 636.2l3.4 6.5h-6.8zM1168.5 635l3.4 6.5h-6.8zM1169.8 633.8l3.4 6.5h-6.8zM1171.1 632.6l3.4 6.5h-6.8zM1172.3 631.4l3.4 6.5h-6.8zM1173.6 630.2l3.4 6.5h-6.8zM1175 629.1l3.4 6.5h-6.8zM1176.4 628.1l3.4 6.5h-6.8zM1177.8 627.2l3.4 6.5h-6.8zM1179.3 626.3l3.4 6.5h-6.8zM1180.9 625.5l3.4 6.5h-6.8zM1182.5 624.8l3.4 6.5h-6.8zM1184.2 624.3l3.4 6.5h-6.8zM1185.8 623.9l3.4 6.5h-6.8zM1187.5 623.6l3.4 6.5h-6.8zM1189.3 623.3l3.4 6.5h-6.8zM1191 623.1l3.4 6.5h-6.8zM1192.7 623.1l3.4 6.5h-6.8zM1194.4 623.3l3.4 6.5h-6.8zM1196.1 623.6l3.4 6.5h-6.8zM1197.8 624.1l3.4 6.5h-6.8zM1199.5 624.7l3.4 6.5h-6.8zM1201.1 625.2l3.4 6.5h-6.8zM1202.7 626l3.4 6.5h-6.8zM1204.2 626.8l3.4 6.5h-6.8zM1205.7 627.6l3.4 6.5h-6.8zM1207.3 628.5l3.4 6.5h-6.8zM1208.8 629.3l3.4 6.5h-6.8zM1210.4 630l3.4 6.5h-6.8zM1211.9 630.8l3.4 6.5h-6.8zM1213.5 631.6l3.4 6.5h-6.8zM1215 632.4l3.4 6.5h-6.8zM1216.6 633.1l3.4 6.5h-6.8zM1218.2 633.9l3.4 6.5h-6.8zM1219.8 634.6l3.4 6.5h-6.8zM1221.4 635.2l3.4 6.5h-6.8zM1223 635.7l3.4 6.5h-6.8zM1224.7 636.1l3.4 6.5h-6.8zM1226.4 636.5l3.4 6.5h-6.8zM1228.1 636.8l3.4 6.5h-6.8zM1229.8 637.1l3.4 6.5h-6.8zM1231.5 637.3l3.4 6.5h-6.8zM1233.3 637.5l3.4 6.5h-6.8zM1235 637.6l3.4 6.5h-6.8z" fill="#7fae2e"/><path d="M1158.2 652.6l2.7 -5.2h-5.4zM1158.8 651.7l2.7 -5.2h-5.4zM1159.3 650.9l2.7 -5.2h-5.4zM1159.9 650.1l2.7 -5.2h-5.4zM1160.6 649.3l2.7 -5.2h-5.4zM1161.3 648.5l2.7 -5.2h-5.4zM1162 647.7l2.7 -5.2h-5.4zM1162.8 647l2.7 -5.2h-5.4zM1163.6 646.5l2.7 -5.2h-5.4zM1164.4 646l2.7 -5.2h-5.4zM1165.3 645.6l2.7 -5.2h-5.4zM1166.3 645.2l2.7 -5.2h-5.4zM1167.3 644.8l2.7 -5.2h-5.4zM1168.3 644.6l2.7 -5.2h-5.4zM1169.3 644.4l2.7 -5.2h-5.4zM1170.3 644.4l2.7 -5.2h-5.4zM1171.3 644.4l2.7 -5.2h-5.4zM1172.4 644.5l2.7 -5.2h-5.4zM1173.4 644.6l2.7 -5.2h-5.4zM1174.4 644.8l2.7 -5.2h-5.4zM1175.4 645l2.7 -5.2h-5.4zM1176.4 645.2l2.7 -5.2h-5.4zM1177.3 645.5l2.7 -5.2h-5.4zM1178.2 646l2.7 -5.2h-5.4zM1179.1 646.6l2.7 -5.2h-5.4zM1179.9 647.2l2.7 -5.2h-5.4zM1180.8 647.8l2.7 -5.2h-5.4zM1181.6 648.4l2.7 -5.2h-5.4zM1182.5 648.9l2.7 -5.2h-5.4zM1183.3 649.5l2.7 -5.2h-5.4zM1184.2 650l2.7 -5.2h-5.4zM1185 650.6l2.7 -5.2h-5.4z" fill="#91619a"/><path d="M1161.2 646.2L1164.3 640.8L1167.5 635.4L1170.8 630.1L1174.3 624.8L1177.8 619.7L1181.4 614.5L1185.1 609.4L1188.9 604.4L1193 599.7L1197.2 595.2L1201.8 590.9L1206.7 586.8L1211.7 583.1L1216.8 579.6L1222.2 576.3L1227.8 573.3L1233.5 570.9L1239.4 568.8L1245.5 567.1L1251.6 565.9L1257.8 565.2L1264.1 564.7L1270.3 564.5L1276.6 564.8L1282.8 565.4L1289 566.1L1295.2 567.1L1301.4 568.3L1307.4 570L1313.2 572.2L1318.8 575.1L1324.3 578.3L1329.5 581.7L1334.5 585.5L1339.4 589.4L1344 593.6L1348.5 598.1L1352.7 602.7L1356.6 607.6L1360.2 612.7L1363.5 618L1366.6 623.4L1369.6 628.9L1372.5 634.5" fill="none" stroke="#353535" stroke-width="1.4"/><path d="M1161.2 646.2L1163 644.2L1164.7 642.1L1166.5 640.1L1168.3 638.1L1170.1 636.1L1172 634.2L1173.9 632.3L1175.8 630.4L1177.7 628.5L1179.7 626.7L1181.6 624.8L1183.7 623.1L1185.8 621.4L1187.9 619.8L1190.2 618.3L1192.5 617L1194.9 615.8L1197.4 614.6L1199.9 613.8L1202.5 613.1L1205.1 612.5L1207.8 612.1L1210.5 612L1213.2 612L1215.9 612L1218.6 612L1221.2 612L1223.9 612.1L1226.6 612.4L1229.3 612.6L1232 612.9L1234.6 613.3L1237.3 613.7L1239.9 614.3L1242.5 614.9L1245.1 615.5L1247.7 616.3L1250.2 617.3L1252.7 618.3L1255.2 619.3L1257.7 620.4L1260.1 621.5L1262.6 622.6L1265 623.8" fill="none" stroke="#353535" stroke-width="1.4"/><path d="M1160.5 648L1161.5 646.8L1162.6 645.6L1163.6 644.4L1164.7 643.2L1165.8 642.1L1166.9 640.9L1168 639.8L1169.2 638.8L1170.3 637.7L1171.5 636.6L1172.7 635.6L1173.9 634.5L1175.2 633.6L1176.5 632.6L1177.8 631.8L1179.2 631L1180.6 630.2L1182 629.5L1183.5 628.9L1185 628.5L1186.5 628.2L1188.1 627.9L1189.7 627.7L1191.3 627.5L1192.8 627.5L1194.4 627.6L1196 627.9L1197.6 628.2L1199.1 628.5L1200.6 628.9L1202.1 629.4L1203.6 630L1205 630.7L1206.5 631.3L1207.9 631.9L1209.4 632.6L1210.8 633.2L1212.3 633.9L1213.7 634.5L1215.2 635.1L1216.7 635.6L1218.2 636.1L1219.7 636.6L1221.2 637" fill="none" stroke="#353535" stroke-width="1.4"/><rect x="1131.75" y="437" width="309" height="231" fill="none" stroke="#111" stroke-width="2"/><text x="1162.5" y="689.5" font-size="20.5" text-anchor="middle" >0</text><text x="1218.1" y="689.5" font-size="20.5" text-anchor="middle" >4</text><text x="1273.7" y="689.5" font-size="20.5" text-anchor="middle" >8</text><text x="1329.3" y="689.5" font-size="20.5" text-anchor="middle" >12</text><text x="1384.9" y="689.5" font-size="20.5" text-anchor="middle" >16</text><text x="1440.5" y="689.5" font-size="20.5" text-anchor="middle" >20</text><text x="1122.6" y="653.5" font-size="20.5" text-anchor="end" >0</text><text x="1122.6" y="600.4" font-size="20.5" text-anchor="end" >3</text><text x="1122.6" y="547.3" font-size="20.5" text-anchor="end" >6</text><text x="1122.6" y="494.2" font-size="20.5" text-anchor="end" >9</text><text x="1122.6" y="441.1" font-size="20.5" text-anchor="end" >12</text><text x="1295" y="720.7" font-size="22.5" text-anchor="middle" textLength="136" lengthAdjust="spacing"><tspan font-style="italic">Z</tspan>′/(10<tspan dy="-8" font-size="13.5">4</tspan><tspan dy="8"> </tspan><tspan font-weight="bold">Ω</tspan> · cm<tspan dy="-8" font-size="13.5">2</tspan><tspan dy="8">)</tspan></text><text transform="translate(1097 547.6) rotate(-90)" font-size="22.5" text-anchor="middle" textLength="157" lengthAdjust="spacing">−<tspan font-style="italic">Z</tspan>″/(10<tspan dy="-8" font-size="13.5">4</tspan><tspan dy="8"> </tspan><tspan font-weight="bold">Ω</tspan> · cm<tspan dy="-8" font-size="13.5">2</tspan><tspan dy="8">)</tspan></text><path d="M1357.5 455.8h0" stroke="#c81a2d" stroke-width="5.98" stroke-linecap="square" fill="none"/><path d="M1357.5 472.5h0" stroke="#223f8e" stroke-width="6.59" stroke-linecap="round" fill="none"/><path d="M1357.5 485.7l4.1 7.9h-8.3z" fill="#7fae2e"/><path d="M1357.5 511l4.1 -7.9h-8.3z" fill="#91619a"/><text x="1382.5" y="460" font-size="16.5" text-anchor="start" style="stroke-width:.65px">1 h</text><text x="1382.5" y="477.5" font-size="16.5" text-anchor="start" style="stroke-width:.65px">24 h</text><text x="1382.5" y="495" font-size="16.5" text-anchor="start" style="stroke-width:.65px">96 h</text><text x="1382.5" y="512" font-size="16.5" text-anchor="start" style="stroke-width:.65px">168 h</text><text x="1382.5" y="529.25" font-size="16.5" text-anchor="start" style="stroke-width:.65px">Fitting</text></g><path d="M1162.5 663V668M1218.1 663V668M1273.7 663V668M1329.3 663V668M1384.9 663V668M1131.8 649.5H1136.8M1131.8 596.4H1136.8M1131.8 543.3H1136.8M1131.8 490.2H1136.8" stroke="#111" stroke-width="1.7" fill="none"/><path d="M1342.5 523H1372.5" stroke="#353535" stroke-width="1.5" fill="none"/>
<g><path d="M247.5 793.8h0M251.9 793.8h0M256.3 793.9h0M260.7 794h0M265.1 794.3h0M269.4 794.9h0M273.8 796h0M278.2 797.2h0M282.6 798.3h0M287 799.1h0M291.4 799.8h0M295.8 800.5h0M300.2 801.2h0M304.6 802h0M309 802.8h0M313.3 803.6h0M317.7 804.5h0M322.1 805.4h0M326.5 806.5h0M330.9 807.6h0M335.3 808.8h0M339.7 810.2h0M344.1 811.9h0M348.5 813.6h0M352.9 815.5h0M357.2 817.7h0M361.6 820.1h0M366 822.6h0M370.4 825.3h0M374.8 828.1h0M379.2 831h0M383.6 833.6h0M388 836.2h0M392.4 838.7h0M396.8 841.2h0M401.1 843.6h0M405.5 846h0M409.9 848.3h0M414.3 850.5h0M418.7 852.7h0M423.1 854.9h0M427.5 857h0M431.9 859.2h0M436.3 861.4h0M440.7 863.5h0M445 865.8h0M449.4 868.2h0M453.8 870.7h0M458.2 873.5h0M462.6 876.3h0M467 879.3h0M471.4 882.4h0M475.8 885.6h0M480.2 889h0M484.6 892.4h0M488.9 896h0M493.3 899.8h0M497.7 903.6h0M502.1 907.4h0M506.5 911.2h0M510.9 914.8h0M515.3 918.3h0M519.7 921.8h0M524.1 925.3h0" stroke="#c81a2d" stroke-width="4.66" stroke-linecap="square" fill="none"/><path d="M247.5 947.5h0M251.9 941.8h0M256.3 938.6h0M260.7 935.7h0M265.1 932h0M269.4 927.9h0M273.8 923.7h0M278.2 918.9h0M282.6 914.2h0M287 910.8h0M291.4 908.9h0M295.8 907.5h0M300.2 906.3h0M304.6 904.8h0M309 903.4h0M313.3 901.9h0M317.7 899.9h0M322.1 896.4h0M326.5 891.5h0M330.9 886.4h0M335.3 880.8h0M339.7 874.7h0M344.1 868.7h0M348.5 862.9h0M352.9 856.9h0M357.2 851.5h0M361.6 847.3h0M366 843.5h0M370.4 840.4h0M374.8 838.1h0M379.2 836.3h0M383.6 835h0M388 834.5h0M392.4 835.2h0M396.8 836.7h0M401.1 838.6h0M405.5 840.5h0M409.9 842.2h0M414.3 844.4h0M418.7 846.6h0M423.1 848.3h0M427.5 849h0M431.9 848.6h0M436.3 847.5h0M440.7 846h0M445 843.1h0M449.4 839.1h0M453.8 835h0M458.2 830.7h0M462.6 826.1h0M467 821.3h0M471.4 816.5h0M475.8 811.5h0M480.2 806.4h0M484.6 801.7h0M488.9 797.3h0M493.3 793h0M497.7 789.2h0M502.1 786h0M506.5 783.1h0M510.9 780.7h0M515.3 779.5h0M519.7 779h0M524.1 778.8h0" stroke="#c81a2d" stroke-width="4.66" stroke-linecap="square" fill="none"/><path d="M230 813h0M234.4 813h0M238.8 813h0M243.2 813h0M247.6 813h0M251.9 813h0M256.3 813.1h0M260.7 813.4h0M265.1 813.6h0M269.5 814h0M273.9 814.4h0M278.3 814.9h0M282.7 815.6h0M287.1 816.4h0M291.5 817.3h0M295.8 818.3h0M300.2 819.5h0M304.6 820.8h0M309 822.2h0M313.4 823.6h0M317.8 825h0M322.2 826.6h0M326.6 828.2h0M331 829.9h0M335.4 831.7h0M339.7 833.6h0M344.1 835.5h0M348.5 837.4h0M352.9 839.2h0M357.3 841h0M361.7 842.7h0M366.1 844.5h0M370.5 846.5h0M374.9 848.5h0M379.3 850.6h0M383.6 852.9h0M388 855.1h0M392.4 857.4h0M396.8 859.7h0M401.2 862h0M405.6 864.4h0M410 866.8h0M414.4 869.2h0M418.8 871.8h0M423.2 874.4h0M427.5 877.1h0M431.9 879.9h0M436.3 882.8h0M440.7 885.8h0M445.1 888.8h0M449.5 892h0M453.9 895.2h0M458.3 898.5h0M462.7 901.9h0M467.1 905.2h0M471.4 908.6h0M475.8 912h0M480.2 915.5h0M484.6 918.9h0M489 922.4h0M493.4 925.8h0M497.8 929.1h0M502.2 932.4h0M506.6 935.7h0M511 938.9h0M515.3 942.1h0M519.7 945.3h0M524.1 948.5h0" stroke="#223f8e" stroke-width="5.13" stroke-linecap="round" fill="none"/><path d="M280 910h0M284.4 906.2h0M288.8 902.5h0M293.2 899h0M297.6 895.4h0M301.9 891.8h0M306.3 888.5h0M310.7 885.9h0M315.1 884h0M319.5 882.3h0M323.9 880.5h0M328.3 878.2h0M332.7 875.3h0M337.1 872.2h0M341.5 868.9h0M345.8 865.2h0M350.2 861.4h0M354.6 857.8h0M359 854.7h0M363.4 851.9h0M367.8 849h0M372.2 845.9h0M376.6 842.7h0M381 839.3h0M385.4 836h0M389.7 832.6h0M394.1 829.3h0M398.5 826h0M402.9 822.9h0M407.3 819.6h0M411.7 816.7h0M416.1 814.5h0M420.5 812.7h0M424.9 811.3h0M429.3 810.1h0M433.6 809.3h0M438 808.6h0M442.4 808.1h0M446.8 808h0M451.2 808.2h0M455.6 808.4h0M460 808.7h0M464.4 809.2h0M468.8 810h0M473.2 810.9h0M477.5 811.7h0M481.9 812.4h0M486.3 812.9h0M490.7 813.3h0M495.1 813.7h0M499.5 814.1h0M503.9 814.7h0M508.3 815.6h0M512.7 816.9h0M517.1 818.6h0M521.4 821.4h0M525.8 825.8h0" stroke="#223f8e" stroke-width="5.13" stroke-linecap="round" fill="none"/><path d="M218.8 820.8l3.2 6.1h-6.5zM223.1 820.8l3.2 6.1h-6.5zM227.5 820.9l3.2 6.1h-6.5zM231.9 821l3.2 6.1h-6.5zM236.3 821.1l3.2 6.1h-6.5zM240.7 821.2l3.2 6.1h-6.5zM245.1 821.3l3.2 6.1h-6.5zM249.5 821.4l3.2 6.1h-6.5zM253.9 821.6l3.2 6.1h-6.5zM258.3 821.8l3.2 6.1h-6.5zM262.6 822l3.2 6.1h-6.5zM267 822.3l3.2 6.1h-6.5zM271.4 822.7l3.2 6.1h-6.5zM275.8 823.2l3.2 6.1h-6.5zM280.2 823.8l3.2 6.1h-6.5zM284.6 824.6l3.2 6.1h-6.5zM289 825.5l3.2 6.1h-6.5zM293.4 826.4l3.2 6.1h-6.5zM297.8 827.5l3.2 6.1h-6.5zM302.2 828.7l3.2 6.1h-6.5zM306.5 830.1l3.2 6.1h-6.5zM310.9 831.6l3.2 6.1h-6.5zM315.3 833.3l3.2 6.1h-6.5zM319.7 834.9l3.2 6.1h-6.5zM324.1 836.7l3.2 6.1h-6.5zM328.5 838.5l3.2 6.1h-6.5zM332.9 840.4l3.2 6.1h-6.5zM337.3 842.5l3.2 6.1h-6.5zM341.7 844.6l3.2 6.1h-6.5zM346.1 846.8l3.2 6.1h-6.5zM350.4 849.2l3.2 6.1h-6.5zM354.8 851.8l3.2 6.1h-6.5zM359.2 854.5l3.2 6.1h-6.5zM363.6 857.3l3.2 6.1h-6.5zM368 860l3.2 6.1h-6.5zM372.4 862.8l3.2 6.1h-6.5zM376.8 865.6l3.2 6.1h-6.5zM381.2 868.5l3.2 6.1h-6.5zM385.6 871.3l3.2 6.1h-6.5zM390 874.2l3.2 6.1h-6.5zM394.3 877.1l3.2 6.1h-6.5zM398.7 880l3.2 6.1h-6.5zM403.1 882.9l3.2 6.1h-6.5zM407.5 885.8l3.2 6.1h-6.5zM411.9 888.6l3.2 6.1h-6.5zM416.3 891.5l3.2 6.1h-6.5zM420.7 894.2l3.2 6.1h-6.5zM425.1 897l3.2 6.1h-6.5zM429.5 899.9l3.2 6.1h-6.5zM433.9 902.7l3.2 6.1h-6.5zM438.2 905.3l3.2 6.1h-6.5zM442.6 907.7l3.2 6.1h-6.5zM447 909.7l3.2 6.1h-6.5zM451.4 911.4l3.2 6.1h-6.5zM455.8 913l3.2 6.1h-6.5zM460.2 914.5l3.2 6.1h-6.5zM464.6 915.9l3.2 6.1h-6.5zM469 917.2l3.2 6.1h-6.5zM473.4 918.5l3.2 6.1h-6.5zM477.8 919.6l3.2 6.1h-6.5zM482.1 920.7l3.2 6.1h-6.5zM486.5 921.8l3.2 6.1h-6.5zM490.9 922.8l3.2 6.1h-6.5zM495.3 923.9l3.2 6.1h-6.5zM499.7 924.9l3.2 6.1h-6.5zM504.1 926l3.2 6.1h-6.5zM508.5 927.1l3.2 6.1h-6.5zM512.9 928.1l3.2 6.1h-6.5zM517.3 929.2l3.2 6.1h-6.5zM521.7 930.2l3.2 6.1h-6.5zM526 931.2l3.2 6.1h-6.5z" fill="#7fae2e"/><path d="M221.2 935l3.2 6.1h-6.5zM225.6 933.5l3.2 6.1h-6.5zM230 932.1l3.2 6.1h-6.5zM234.4 930.7l3.2 6.1h-6.5zM238.8 929.5l3.2 6.1h-6.5zM243.2 928.2l3.2 6.1h-6.5zM247.6 926.5l3.2 6.1h-6.5zM252 924.4l3.2 6.1h-6.5zM256.4 921.9l3.2 6.1h-6.5zM260.8 919.3l3.2 6.1h-6.5zM265.1 916.2l3.2 6.1h-6.5zM269.5 912.9l3.2 6.1h-6.5zM273.9 909.2l3.2 6.1h-6.5zM278.3 905.2l3.2 6.1h-6.5zM282.7 901.1l3.2 6.1h-6.5zM287.1 897.2l3.2 6.1h-6.5zM291.5 893.2l3.2 6.1h-6.5zM295.9 889.2l3.2 6.1h-6.5zM300.3 885.3l3.2 6.1h-6.5zM304.7 881.3l3.2 6.1h-6.5zM309 877.2l3.2 6.1h-6.5zM313.4 872.9l3.2 6.1h-6.5zM317.8 868.5l3.2 6.1h-6.5zM322.2 864.1l3.2 6.1h-6.5zM326.6 859.7l3.2 6.1h-6.5zM331 855.2l3.2 6.1h-6.5zM335.4 850.8l3.2 6.1h-6.5zM339.8 846.5l3.2 6.1h-6.5zM344.2 842.3l3.2 6.1h-6.5zM348.6 838.3l3.2 6.1h-6.5zM352.9 834.3l3.2 6.1h-6.5zM357.3 830.5l3.2 6.1h-6.5zM361.7 826.6l3.2 6.1h-6.5zM366.1 822.9l3.2 6.1h-6.5zM370.5 819.7l3.2 6.1h-6.5zM374.9 816.6l3.2 6.1h-6.5zM379.3 813.8l3.2 6.1h-6.5zM383.7 811.7l3.2 6.1h-6.5zM388.1 810.5l3.2 6.1h-6.5zM392.5 809.6l3.2 6.1h-6.5zM396.8 808.9l3.2 6.1h-6.5zM401.2 808.8l3.2 6.1h-6.5zM405.6 809.4l3.2 6.1h-6.5zM410 810.6l3.2 6.1h-6.5zM414.4 812.3l3.2 6.1h-6.5zM418.8 815.4l3.2 6.1h-6.5zM423.2 821.1l3.2 6.1h-6.5zM427.6 827.8l3.2 6.1h-6.5zM432 834.1l3.2 6.1h-6.5zM436.4 840.7l3.2 6.1h-6.5zM440.7 847.6l3.2 6.1h-6.5zM445.1 854l3.2 6.1h-6.5zM449.5 860l3.2 6.1h-6.5zM453.9 865.8l3.2 6.1h-6.5zM458.3 870.9l3.2 6.1h-6.5zM462.7 875.1l3.2 6.1h-6.5zM467.1 879.1l3.2 6.1h-6.5zM471.5 882.3l3.2 6.1h-6.5zM475.9 884l3.2 6.1h-6.5zM480.3 884.9l3.2 6.1h-6.5zM484.6 885.5l3.2 6.1h-6.5zM489 885.8l3.2 6.1h-6.5zM493.4 885.4l3.2 6.1h-6.5zM497.8 884.2l3.2 6.1h-6.5zM502.2 882.4l3.2 6.1h-6.5zM506.6 880.6l3.2 6.1h-6.5zM511 878.3l3.2 6.1h-6.5zM515.4 875.6l3.2 6.1h-6.5zM519.8 872.7l3.2 6.1h-6.5zM524.2 869.3l3.2 6.1h-6.5z" fill="#7fae2e"/><path d="M218.8 837.5l3.2 -6.1h-6.5zM223.1 837.7l3.2 -6.1h-6.5zM227.5 838l3.2 -6.1h-6.5zM231.9 838.3l3.2 -6.1h-6.5zM236.3 838.6l3.2 -6.1h-6.5zM240.7 838.9l3.2 -6.1h-6.5zM245.1 839.2l3.2 -6.1h-6.5zM249.5 839.5l3.2 -6.1h-6.5zM253.9 839.8l3.2 -6.1h-6.5zM258.3 840.2l3.2 -6.1h-6.5zM262.6 840.5l3.2 -6.1h-6.5zM267 840.9l3.2 -6.1h-6.5zM271.4 841.4l3.2 -6.1h-6.5zM275.8 841.9l3.2 -6.1h-6.5zM280.2 842.6l3.2 -6.1h-6.5zM284.6 843.3l3.2 -6.1h-6.5zM289 844l3.2 -6.1h-6.5zM293.4 844.7l3.2 -6.1h-6.5zM297.8 845.4l3.2 -6.1h-6.5zM302.2 846.1l3.2 -6.1h-6.5zM306.5 846.8l3.2 -6.1h-6.5zM310.9 847.5l3.2 -6.1h-6.5zM315.3 848.3l3.2 -6.1h-6.5zM319.7 849.2l3.2 -6.1h-6.5zM324.1 850.1l3.2 -6.1h-6.5zM328.5 851.2l3.2 -6.1h-6.5zM332.9 852.3l3.2 -6.1h-6.5zM337.3 853.6l3.2 -6.1h-6.5zM341.7 855l3.2 -6.1h-6.5zM346.1 856.6l3.2 -6.1h-6.5zM350.4 858.6l3.2 -6.1h-6.5zM354.8 860.9l3.2 -6.1h-6.5zM359.2 863.4l3.2 -6.1h-6.5zM363.6 866.1l3.2 -6.1h-6.5zM368 868.8l3.2 -6.1h-6.5zM372.4 871.4l3.2 -6.1h-6.5zM376.8 874.2l3.2 -6.1h-6.5zM381.2 877l3.2 -6.1h-6.5zM385.6 880l3.2 -6.1h-6.5zM390 882.9l3.2 -6.1h-6.5zM394.3 885.8l3.2 -6.1h-6.5zM398.7 888.7l3.2 -6.1h-6.5zM403.1 891.6l3.2 -6.1h-6.5zM407.5 894.5l3.2 -6.1h-6.5zM411.9 897.4l3.2 -6.1h-6.5zM416.3 900.2l3.2 -6.1h-6.5zM420.7 902.9l3.2 -6.1h-6.5zM425.1 905.5l3.2 -6.1h-6.5zM429.5 908.1l3.2 -6.1h-6.5zM433.9 910.6l3.2 -6.1h-6.5zM438.2 913l3.2 -6.1h-6.5zM442.6 915.2l3.2 -6.1h-6.5zM447 917.1l3.2 -6.1h-6.5zM451.4 918.9l3.2 -6.1h-6.5zM455.8 920.5l3.2 -6.1h-6.5zM460.2 922.1l3.2 -6.1h-6.5zM464.6 923.5l3.2 -6.1h-6.5zM469 924.7l3.2 -6.1h-6.5zM473.4 925.8l3.2 -6.1h-6.5zM477.8 926.8l3.2 -6.1h-6.5zM482.1 927.6l3.2 -6.1h-6.5zM486.5 928.5l3.2 -6.1h-6.5zM490.9 929.2l3.2 -6.1h-6.5zM495.3 930l3.2 -6.1h-6.5zM499.7 930.8l3.2 -6.1h-6.5zM504.1 931.5l3.2 -6.1h-6.5zM508.5 932.3l3.2 -6.1h-6.5zM512.9 933l3.2 -6.1h-6.5zM517.3 933.7l3.2 -6.1h-6.5zM521.7 934.3l3.2 -6.1h-6.5zM526 934.9l3.2 -6.1h-6.5z" fill="#91619a"/><path d="M218.8 930l3.2 -6.1h-6.5zM223.1 929.6l3.2 -6.1h-6.5zM227.5 929.2l3.2 -6.1h-6.5zM231.9 928.8l3.2 -6.1h-6.5zM236.3 928.4l3.2 -6.1h-6.5zM240.7 927.9l3.2 -6.1h-6.5zM245.1 927.5l3.2 -6.1h-6.5zM249.5 926.9l3.2 -6.1h-6.5zM253.9 926.3l3.2 -6.1h-6.5zM258.3 925.6l3.2 -6.1h-6.5zM262.6 924.4l3.2 -6.1h-6.5zM267 922.8l3.2 -6.1h-6.5zM271.4 921.2l3.2 -6.1h-6.5zM275.8 919.3l3.2 -6.1h-6.5zM280.2 917.3l3.2 -6.1h-6.5zM284.6 915.2l3.2 -6.1h-6.5zM289 913.1l3.2 -6.1h-6.5zM293.4 910.9l3.2 -6.1h-6.5zM297.8 908.3l3.2 -6.1h-6.5zM302.2 905.6l3.2 -6.1h-6.5zM306.5 902.5l3.2 -6.1h-6.5zM310.9 899.2l3.2 -6.1h-6.5zM315.3 895.5l3.2 -6.1h-6.5zM319.7 891.5l3.2 -6.1h-6.5zM324.1 887.1l3.2 -6.1h-6.5zM328.5 882.4l3.2 -6.1h-6.5zM332.9 877.3l3.2 -6.1h-6.5zM337.3 871.9l3.2 -6.1h-6.5zM341.7 866.7l3.2 -6.1h-6.5zM346.1 861.3l3.2 -6.1h-6.5zM350.4 856l3.2 -6.1h-6.5zM354.8 851.4l3.2 -6.1h-6.5zM359.2 847.6l3.2 -6.1h-6.5zM363.6 844.2l3.2 -6.1h-6.5zM368 841.2l3.2 -6.1h-6.5zM372.4 838.5l3.2 -6.1h-6.5zM376.8 835.8l3.2 -6.1h-6.5zM381.2 833.6l3.2 -6.1h-6.5zM385.6 832.4l3.2 -6.1h-6.5zM390 831.6l3.2 -6.1h-6.5zM394.3 831l3.2 -6.1h-6.5zM398.7 830.7l3.2 -6.1h-6.5zM403.1 831.1l3.2 -6.1h-6.5zM407.5 832.5l3.2 -6.1h-6.5zM411.9 834.6l3.2 -6.1h-6.5zM416.3 836.9l3.2 -6.1h-6.5zM420.7 840.1l3.2 -6.1h-6.5zM425.1 844l3.2 -6.1h-6.5zM429.5 848.2l3.2 -6.1h-6.5zM433.9 852.8l3.2 -6.1h-6.5zM438.2 858.1l3.2 -6.1h-6.5zM442.6 863.5l3.2 -6.1h-6.5zM447 868.5l3.2 -6.1h-6.5zM451.4 873.5l3.2 -6.1h-6.5zM455.8 878.3l3.2 -6.1h-6.5zM460.2 882.7l3.2 -6.1h-6.5zM464.6 886.8l3.2 -6.1h-6.5zM469 890.8l3.2 -6.1h-6.5zM473.4 894l3.2 -6.1h-6.5zM477.8 896.4l3.2 -6.1h-6.5zM482.1 898.6l3.2 -6.1h-6.5zM486.5 900.1l3.2 -6.1h-6.5zM490.9 900.8l3.2 -6.1h-6.5zM495.3 901l3.2 -6.1h-6.5zM499.7 901.1l3.2 -6.1h-6.5zM504.1 901.2l3.2 -6.1h-6.5zM508.5 900.9l3.2 -6.1h-6.5zM512.9 899.7l3.2 -6.1h-6.5zM517.3 898.3l3.2 -6.1h-6.5zM521.7 897l3.2 -6.1h-6.5zM526 895.8l3.2 -6.1h-6.5z" fill="#91619a"/><path d="M247.5 793.8L251.3 793.8L255 793.9L258.8 794L262.6 794.1L266.3 794.4L270.1 795L273.9 796L277.6 797L281.4 798L285.2 798.8L288.9 799.4L292.7 800L296.5 800.6L300.2 801.2L304 801.9L307.8 802.6L311.5 803.3L315.3 804L319.1 804.8L322.8 805.6L326.6 806.5L330.4 807.4L334.1 808.5L337.9 809.6L341.7 811L345.4 812.4L349.2 813.9L353 815.6L356.7 817.5L360.5 819.5L364.3 821.6L368 823.8L371.8 826.2L375.6 828.6L379.3 831.1L383.1 833.4L386.9 835.6L390.6 837.7L394.4 839.9L398.2 842L401.9 844L405.7 846.1L409.5 848L413.2 850L417 851.9L420.8 853.7L424.5 855.6L428.3 857.4L432.1 859.3L435.8 861.1L439.6 863L443.4 864.9L447.1 866.9L450.9 869L454.7 871.3L458.4 873.6L462.2 876.1L466 878.6L469.7 881.2L473.5 884L477.3 886.8L481 889.6L484.8 892.6L488.6 895.7L492.3 898.9L496.1 902.2L499.9 905.5L503.6 908.8L507.4 911.9L511.2 915L514.9 918.1L518.7 921.1L522.5 924.1L526.2 927" fill="none" stroke="#353535" stroke-width="1.45"/><path d="M247.5 930L251.3 928.7L255 927.4L258.8 925.9L262.6 924.4L266.3 922.8L270.1 921.2L273.9 919.5L277.6 917.7L281.4 915.7L285.2 913.8L288.9 911.7L292.7 909.6L296.5 907.5L300.2 905.2L304 902.7L307.8 900.1L311.5 897.3L315.3 894.3L319.1 891.2L322.8 887.9L326.6 884.5L330.4 880.9L334.1 877L337.9 872.9L341.7 868.7L345.4 864.5L349.2 860L353 855.4L356.7 851.1L360.5 847.6L364.3 844.5L368 841.7L371.8 839.4L375.6 837.8L379.3 836.5L383.1 835.5L386.9 835L390.6 835.3L394.4 836.2L398.2 837.5L401.9 839.1L405.7 840.6L409.5 842L413.2 843.8L417 845.7L420.8 847.5L424.5 848.7L428.3 849L432.1 848.5L435.8 847.6L439.6 846.4L443.4 844.4L447.1 841.3L450.9 837.7L454.7 834.2L458.4 830.5L462.2 826.5L466 822.4L469.7 818.3L473.5 814.1L477.3 809.7L481 805.5L484.8 801.4L488.6 797.6L492.3 793.8L496.1 790.4L499.9 787.6L503.6 785.1L507.4 782.7L511.2 780.9L514.9 780L518.7 779.7L522.5 779.6L526.2 779.5" fill="none" stroke="#353535" stroke-width="1.45"/><path d="M230 813L234 813L238 813L242 813L246 813L250 813L254 813.1L258 813.2L262 813.4L266 813.7L270 814L274 814.4L278 814.9L282 815.5L286 816.2L290.1 817L294.1 817.9L298.1 818.9L302.1 820.1L306.1 821.3L310.1 822.5L314.1 823.8L318.1 825.1L322.1 826.5L326.1 828L330.1 829.5L334.1 831.1L338.1 832.8L342.1 834.6L346.1 836.3L350.1 838L354.1 839.7L358.1 841.3L362.1 842.9L366.1 844.6L370.1 846.3L374.1 848.2L378.1 850.1L382.1 852.1L386.1 854.1L390.1 856.2L394.1 858.3L398.1 860.4L402.1 862.5L406.1 864.7L410.2 866.9L414.2 869.1L418.2 871.4L422.2 873.8L426.2 876.3L430.2 878.8L434.2 881.4L438.2 884.1L442.2 886.8L446.2 889.6L450.2 892.5L454.2 895.4L458.2 898.4L462.2 901.5L466.2 904.6L470.2 907.7L474.2 910.7L478.2 913.9L482.2 917L486.2 920.2L490.2 923.3L494.2 926.4L498.2 929.4L502.2 932.4L506.2 935.4L510.2 938.4L514.2 941.3L518.2 944.2L522.2 947.1L526.2 950" fill="none" stroke="#353535" stroke-width="1.45"/><path d="M230 932.5L234 931.6L238 930.6L242 929.5L246 928.3L250 927L254 925.6L258 924.2L262 922.5L266 920.7L270 918.7L274 916.3L278 913.4L282 910.3L286 907.3L290.1 904.1L294.1 900.8L298.1 897.5L302.1 894.1L306.1 890.7L310.1 887.4L314.1 884.3L318.1 881.3L322.1 878.3L326.1 875.5L330.1 872.8L334.1 870.1L338.1 867.5L342.1 864.8L346.1 862.1L350.1 859.5L354.1 856.8L358.1 854.3L362.1 851.9L366.1 849.5L370.1 846.9L374.1 844.2L378.1 841.3L382.1 838.3L386.1 835.4L390.1 832.5L394.1 829.6L398.1 826.8L402.1 824.1L406.1 821.4L410.2 818.8L414.2 816.7L418.2 814.8L422.2 813.1L426.2 811.7L430.2 810.7L434.2 809.9L438.2 809.3L442.2 808.9L446.2 808.8L450.2 808.9L454.2 809.1L458.2 809.4L462.2 809.7L466.2 810.1L470.2 810.7L474.2 811.3L478.2 811.9L482.2 812.5L486.2 812.9L490.2 813.2L494.2 813.6L498.2 813.9L502.2 814.5L506.2 815.2L510.2 816.1L514.2 817.4L518.2 819.1L522.2 822.2L526.2 826.2" fill="none" stroke="#353535" stroke-width="1.45"/><path d="M218.8 824.5L222.9 824.5L227.1 824.6L231.2 824.7L235.4 824.7L239.5 824.9L243.7 825L247.8 825.1L252 825.2L256.1 825.4L260.3 825.6L264.5 825.9L268.6 826.1L272.8 826.5L276.9 827L281.1 827.7L285.2 828.4L289.4 829.3L293.5 830.2L297.7 831.2L301.9 832.3L306 833.6L310.2 835.1L314.3 836.6L318.5 838.2L322.6 839.8L326.8 841.5L330.9 843.3L335.1 845.1L339.3 847.1L343.4 849.2L347.6 851.4L351.7 853.7L355.9 856.2L360 858.7L364.2 861.3L368.3 864L372.5 866.6L376.7 869.2L380.8 871.9L385 874.7L389.1 877.4L393.3 880.1L397.4 882.8L401.6 885.6L405.7 888.3L409.9 891L414.1 893.7L418.2 896.4L422.4 899L426.5 901.7L430.7 904.4L434.8 907L439 909.5L443.1 911.6L447.3 913.5L451.5 915.2L455.6 916.7L459.8 918.1L463.9 919.4L468.1 920.7L472.2 921.9L476.4 923L480.5 924L484.7 925L488.9 926L493 927L497.2 928L501.3 929L505.5 930.1L509.6 931.1L513.8 932L517.9 933L522.1 934L526.2 935" fill="none" stroke="#353535" stroke-width="1.45"/><path d="M218.8 933.8L222.9 933.4L227.1 932.9L231.2 932.2L235.4 931.4L239.5 930.4L243.7 929.2L247.8 927.8L252 926.2L256.1 924.4L260.3 922.3L264.5 919.9L268.6 917.2L272.8 914.2L276.9 910.9L281.1 907.4L285.2 904L289.4 900.4L293.5 896.8L297.7 893.1L301.9 889.5L306 885.7L310.2 881.8L314.3 877.8L318.5 873.6L322.6 869.4L326.8 865.2L330.9 861L335.1 856.8L339.3 852.7L343.4 848.7L347.6 844.8L351.7 840.9L355.9 837.2L360 833.5L364.2 829.9L368.3 826.6L372.5 823.9L376.7 821.3L380.8 819L385 817.5L389.1 816.5L393.3 815.6L397.4 815.1L401.6 815.1L405.7 815.8L409.9 817.2L414.1 819.1L418.2 821.7L422.4 826.3L426.5 831.7L430.7 837.1L434.8 842.8L439 848.9L443.1 855L447.3 860.6L451.5 866.2L455.6 871.5L459.8 876L463.9 880L468.1 883.6L472.2 886.4L476.4 887.9L480.5 888.9L484.7 889.6L488.9 890L493 889.8L497.2 888.8L501.3 887.5L505.5 886.1L509.6 884.4L513.8 882.2L517.9 879.9L522.1 877.6L526.2 875" fill="none" stroke="#353535" stroke-width="1.45"/><path d="M218.8 833.8L222.9 834L227.1 834.3L231.2 834.5L235.4 834.8L239.5 835.1L243.7 835.4L247.8 835.7L252 836L256.1 836.3L260.3 836.6L264.5 837L268.6 837.4L272.8 837.8L276.9 838.4L281.1 839L285.2 839.6L289.4 840.3L293.5 841L297.7 841.7L301.9 842.3L306 843L310.2 843.7L314.3 844.4L318.5 845.2L322.6 846.1L326.8 847L330.9 848.1L335.1 849.2L339.3 850.5L343.4 851.9L347.6 853.5L351.7 855.5L355.9 857.7L360 860.2L364.2 862.7L368.3 865.3L372.5 867.8L376.7 870.4L380.8 873.1L385 875.8L389.1 878.6L393.3 881.4L397.4 884.1L401.6 886.9L405.7 889.6L409.9 892.4L414.1 895.1L418.2 897.7L422.4 900.2L426.5 902.7L430.7 905.1L434.8 907.5L439 909.7L443.1 911.7L447.3 913.5L451.5 915.2L455.6 916.7L459.8 918.2L463.9 919.5L468.1 920.7L472.2 921.8L476.4 922.7L480.5 923.6L484.7 924.4L488.9 925.2L493 925.9L497.2 926.6L501.3 927.4L505.5 928.1L509.6 928.7L513.8 929.4L517.9 930L522.1 930.7L526.2 931.2" fill="none" stroke="#353535" stroke-width="1.45"/><path d="M218.8 935L222.9 934.3L227.1 933.6L231.2 932.8L235.4 931.9L239.5 930.9L243.7 929.9L247.8 928.6L252 927.1L256.1 925.5L260.3 923.9L264.5 922.3L268.6 920.6L272.8 918.7L276.9 916.6L281.1 914.5L285.2 912.3L289.4 910.2L293.5 907.8L297.7 905.4L301.9 902.8L306 900L310.2 896.9L314.3 893.4L318.5 889.5L322.6 885.4L326.8 881.1L330.9 876.6L335.1 871.8L339.3 867.1L343.4 862.4L347.6 857.6L351.7 853.1L355.9 849.2L360 845.8L364.2 842.6L368.3 839.8L372.5 837.2L376.7 834.8L380.8 832.7L385 831.3L389.1 830.3L393.3 829.6L397.4 829.1L401.6 829.1L405.7 829.9L409.9 831.5L414.1 833.3L418.2 835.5L422.4 838.6L426.5 842.3L430.7 846.1L434.8 850.5L439 855.4L443.1 860.4L447.3 865.1L451.5 869.8L455.6 874.3L459.8 878.5L463.9 882.5L468.1 886.3L472.2 889.6L476.4 892L480.5 894.1L484.7 895.9L488.9 896.9L493 897.2L497.2 897.4L501.3 897.5L505.5 897.5L509.6 896.9L513.8 895.7L517.9 894.4L522.1 893.2L526.2 892" fill="none" stroke="#353535" stroke-width="1.45"/><rect x="218.75" y="751.25" width="307.5" height="231.25" fill="none" stroke="#111" stroke-width="2"/><text x="219.75" y="1010" font-size="20.5" text-anchor="middle">10<tspan dx="6.5" dy="-8.61" font-size="11.48">2</tspan></text><text x="263.68" y="1010" font-size="20.5" text-anchor="middle">10<tspan dx="6.5" dy="-8.61" font-size="11.48">1</tspan></text><text x="304.11" y="1010" font-size="20.5" text-anchor="middle">10<tspan dx="0" dy="-8.61" font-size="11.48">0</tspan></text><text x="348.04" y="1010" font-size="20.5" text-anchor="middle">10<tspan dx="0" dy="-8.61" font-size="11.48">1</tspan></text><text x="391.97" y="1010" font-size="20.5" text-anchor="middle">10<tspan dx="0" dy="-8.61" font-size="11.48">2</tspan></text><text x="435.9" y="1010" font-size="20.5" text-anchor="middle">10<tspan dx="0" dy="-8.61" font-size="11.48">3</tspan></text><text x="479.83" y="1010" font-size="20.5" text-anchor="middle">10<tspan dx="0" dy="-8.61" font-size="11.48">4</tspan></text><text x="523.76" y="1010" font-size="20.5" text-anchor="middle">10<tspan dx="0" dy="-8.61" font-size="11.48">5</tspan></text><text x="208.5" y="761.2" font-size="20.5" text-anchor="end">10<tspan dx="0" dy="-8.61" font-size="11.48">6</tspan></text><text x="208.5" y="808.4" font-size="20.5" text-anchor="end">10<tspan dx="0" dy="-8.61" font-size="11.48">5</tspan></text><text x="208.5" y="854.1" font-size="20.5" text-anchor="end">10<tspan dx="0" dy="-8.61" font-size="11.48">4</tspan></text><text x="208.5" y="900" font-size="20.5" text-anchor="end">10<tspan dx="0" dy="-8.61" font-size="11.48">3</tspan></text><text x="208.5" y="945.3" font-size="20.5" text-anchor="end">10<tspan dx="0" dy="-8.61" font-size="11.48">2</tspan></text><text x="208.5" y="991.3" font-size="20.5" text-anchor="end">10<tspan dx="0" dy="-8.61" font-size="11.48">1</tspan></text><text x="538.5" y="776.7" font-size="20.5" text-anchor="start" >80</text><text x="538.5" y="818.6" font-size="20.5" text-anchor="start" >60</text><text x="538.5" y="860.5" font-size="20.5" text-anchor="start" >40</text><text x="538.5" y="902.4" font-size="20.5" text-anchor="start" >20</text><text x="538.5" y="944.3" font-size="20.5" text-anchor="start" >0</text><text x="538.5" y="986" font-size="20.5" text-anchor="start" >−20</text><text x="372" y="1038.75" font-size="22" text-anchor="middle" textLength="125.5" lengthAdjust="spacing">Frequency/Hz</text><text transform="translate(163.6 857.7) rotate(-90)" font-size="22" text-anchor="middle" textLength="118" lengthAdjust="spacing">|<tspan font-style="italic">Z</tspan>|/(<tspan font-weight="bold">Ω</tspan> · cm<tspan dy="-8" font-size="13">−2</tspan><tspan dy="8">)</tspan></text><text transform="translate(591.2 876) rotate(-90)" font-size="22" text-anchor="middle" textLength="157" lengthAdjust="spacing">−Phase angle/( ° )</text><path d="M338 895.5h0" stroke="#c81a2d" stroke-width="5.49" stroke-linecap="square" fill="none"/><path d="M338 912.5h0" stroke="#223f8e" stroke-width="6.05" stroke-linecap="round" fill="none"/><path d="M338 925.6l3.8 7.2h-7.6z" fill="#7fae2e"/><path d="M338 951.4l3.8 -7.2h-7.6z" fill="#91619a"/><text x="364.5" y="900.7" font-size="22" text-anchor="start" style="stroke-width:.45px">1 h</text><text x="364.5" y="918.5" font-size="22" text-anchor="start" style="stroke-width:.45px">24 h</text><text x="364.5" y="935.5" font-size="22" text-anchor="start" style="stroke-width:.45px">96 h</text><text x="364.5" y="952.5" font-size="22" text-anchor="start" style="stroke-width:.45px">168 h</text><text x="364.5" y="969.5" font-size="22" text-anchor="start" style="stroke-width:.45px">Fitting</text><path d="M468.75 791.75L455.25 786.45L459.25 791.75L455.25 797.05Z" fill="#111"/><path d="M238.75 844.25L252.25 838.95L248.25 844.25L252.25 849.55Z" fill="#111"/></g><path d="M232 979.9V982.5M239.7 979.9V982.5M245.2 979.9V982.5M249.5 979.9V982.5M252.9 979.9V982.5M255.9 979.9V982.5M258.4 979.9V982.5M260.7 979.9V982.5M275.9 979.9V982.5M283.6 979.9V982.5M289.1 979.9V982.5M293.4 979.9V982.5M296.9 979.9V982.5M299.8 979.9V982.5M302.4 979.9V982.5M304.6 979.9V982.5M319.8 979.9V982.5M327.6 979.9V982.5M333.1 979.9V982.5M337.3 979.9V982.5M340.8 979.9V982.5M343.7 979.9V982.5M346.3 979.9V982.5M348.5 979.9V982.5M363.8 979.9V982.5M371.5 979.9V982.5M377 979.9V982.5M381.2 979.9V982.5M384.7 979.9V982.5M387.7 979.9V982.5M390.2 979.9V982.5M392.5 979.9V982.5M407.7 979.9V982.5M415.4 979.9V982.5M420.9 979.9V982.5M425.2 979.9V982.5M428.7 979.9V982.5M431.6 979.9V982.5M434.1 979.9V982.5M436.4 979.9V982.5M451.6 979.9V982.5M459.4 979.9V982.5M464.8 979.9V982.5M469.1 979.9V982.5M472.6 979.9V982.5M475.5 979.9V982.5M478.1 979.9V982.5M480.3 979.9V982.5M495.6 979.9V982.5M503.3 979.9V982.5M508.8 979.9V982.5M513 979.9V982.5M516.5 979.9V982.5M519.5 979.9V982.5M522 979.9V982.5M524.2 979.9V982.5M218.8 783.6H221.3M218.8 775.4H221.3M218.8 769.7H221.3M218.8 765.2H221.3M218.8 761.5H221.3M218.8 758.4H221.3M218.8 755.7H221.3M218.8 753.4H221.3M218.8 829.8H221.3M218.8 821.7H221.3M218.8 815.9H221.3M218.8 811.4H221.3M218.8 807.8H221.3M218.8 804.7H221.3M218.8 802H221.3M218.8 799.6H221.3M218.8 876.1H221.3M218.8 867.9H221.3M218.8 862.2H221.3M218.8 857.7H221.3M218.8 854H221.3M218.8 850.9H221.3M218.8 848.2H221.3M218.8 845.9H221.3M218.8 922.3H221.3M218.8 914.2H221.3M218.8 908.4H221.3M218.8 903.9H221.3M218.8 900.3H221.3M218.8 897.2H221.3M218.8 894.5H221.3M218.8 892.1H221.3M218.8 968.6H221.3M218.8 960.4H221.3M218.8 954.7H221.3M218.8 950.2H221.3M218.8 946.5H221.3M218.8 943.4H221.3M218.8 940.7H221.3M218.8 938.4H221.3" stroke="#111" stroke-width="1.2" fill="none"/><path d="M262.7 977V982.5M306.6 977V982.5M350.5 977V982.5M394.5 977V982.5M438.4 977V982.5M482.3 977V982.5M218.8 797.5H224.2M218.8 843.8H224.2M218.8 890H224.2M218.8 936.2H224.2M520.8 772.5H526.2M520.8 814.2H526.2M520.8 855.8H526.2M520.8 898H526.2M520.8 939.2H526.2M520.8 981H526.2" stroke="#111" stroke-width="2" fill="none"/><path d="M323 963.2H353.8" stroke="#353535" stroke-width="1.5" fill="none"/><path d="M433.8 791.8H462.8M272.5 844.2H244.8" stroke="#111" stroke-width="1.7" fill="none"/>
<g><path d="M682.5 778.8h0M686.9 778.8h0M691.3 778.8h0M695.7 778.8h0M700.1 778.8h0M704.4 779h0M708.8 779.5h0M713.2 780.3h0M717.6 781.3h0M722 782.7h0M726.4 784.6h0M730.8 786.6h0M735.2 788.9h0M739.6 791.4h0M744 793.8h0M748.3 796.2h0M752.7 798.5h0M757.1 800.9h0M761.5 803.3h0M765.9 805.8h0M770.3 808.2h0M774.7 810.7h0M779.1 813.2h0M783.5 815.8h0M787.9 818.6h0M792.2 821.3h0M796.6 824.1h0M801 826.9h0M805.4 829.7h0M809.8 832.5h0M814.2 835.2h0M818.6 837.9h0M823 840.5h0M827.4 843.1h0M831.8 845.6h0M836.1 848h0M840.5 850.3h0M844.9 852.5h0M849.3 854.5h0M853.7 856.6h0M858.1 858.6h0M862.5 860.7h0M866.9 862.6h0M871.3 864.6h0M875.7 866.6h0M880 868.8h0M884.4 871h0M888.8 873.4h0M893.2 875.9h0M897.6 878.5h0M902 881.3h0M906.4 884.3h0M910.8 887.5h0M915.2 890.8h0M919.6 894.2h0M923.9 897.6h0M928.3 901.2h0M932.7 904.9h0M937.1 908.7h0M941.5 912.6h0M945.9 916.6h0M950.3 920.7h0M954.7 924.9h0M959.1 929.1h0M963.5 933.4h0M967.8 937.7h0M972.2 942.1h0M976.6 946.5h0M981 951h0" stroke="#c81a2d" stroke-width="4.66" stroke-linecap="square" fill="none"/><path d="M682.5 953h0M696.2 953.8h0M705 942h0M710 937.5h0M713.8 925h0M717.6 917.8h0M722 913.1h0M726.4 906.7h0M730.8 898.8h0M735.2 893.2h0M739.6 888.6h0M744 884.7h0M748.3 880.7h0M752.7 877.3h0M757.1 874.8h0M761.5 872.7h0M765.9 870.9h0M770.3 869.3h0M774.7 867.8h0M779.1 866.5h0M783.5 865.3h0M787.9 864.1h0M792.2 863h0M796.6 862.2h0M801 861.5h0M805.4 861h0M809.8 860.5h0M814.2 860.2h0M818.6 860h0M823 859.8h0M827.4 859.5h0M831.8 858.9h0M836.1 858.1h0M840.5 857.6h0M844.9 857.7h0M849.3 858.7h0M853.7 860.1h0M858.1 861.5h0M862.5 863.3h0M866.9 865.1h0M871.3 866.7h0M875.7 868.4h0M880 869.8h0M884.4 869.8h0M888.8 868.6h0M893.2 866.7h0M897.6 863.6h0M902 859.3h0M906.4 853.7h0M910.8 846.6h0M915.2 839.2h0M919.6 831.3h0M923.9 823.9h0M928.3 817.1h0M932.7 810.9h0M937.1 805h0M941.5 799.6h0M945.9 795.5h0M950.3 792.5h0M954.7 790h0M959.1 787.9h0M963.5 786h0M967.8 784.1h0M972.2 782.8h0M976.6 782.5h0M981 782.5h0" stroke="#c81a2d" stroke-width="4.66" stroke-linecap="square" fill="none"/><path d="M676.2 791.2h0M680.6 796h0M685 792.4h0M689.4 790.6h0M693.8 794.4h0M698.2 793.6h0M702.6 793h0M707 793.3h0M711.4 794.1h0M715.8 795.1h0M720.1 796.2h0M724.5 797.8h0M728.9 799.6h0M733.3 801.5h0M737.7 803.8h0M742.1 806h0M746.5 808.2h0M750.9 810.3h0M755.3 812.7h0M759.7 815.4h0M764 818.3h0M768.4 821.4h0M772.8 824.5h0M777.2 827.8h0M781.6 831.2h0M786 834.5h0M790.4 837.8h0M794.8 841.2h0M799.2 844.4h0M803.6 847.5h0M807.9 850.5h0M812.3 853.3h0M816.7 856.1h0M821.1 858.7h0M825.5 861.2h0M829.9 863.7h0M834.3 866.2h0M838.7 868.7h0M843.1 871.2h0M847.5 873.6h0M851.8 876h0M856.2 878.2h0M860.6 880.3h0M865 882.5h0M869.4 884.7h0M873.8 887h0M878.2 889.4h0M882.6 891.9h0M887 894.4h0M891.4 897.1h0M895.7 900h0M900.1 903h0M904.5 906.1h0M908.9 909.2h0M913.3 912.4h0M917.7 915.7h0M922.1 919h0M926.5 922.3h0M930.9 925.7h0M935.3 928.9h0M939.6 932.2h0M944 935.5h0M948.4 938.8h0M952.8 942.1h0M957.2 945.4h0M961.6 948.6h0M966 951.9h0M970.4 955.3h0M974.8 958.8h0M979.2 962.3h0" stroke="#223f8e" stroke-width="5.13" stroke-linecap="round" fill="none"/><path d="M678.8 958.8h0M682.5 945.5h0M687.5 972.5h0M692 938.8h0M696.2 944.5h0M700.8 943h0M705 947.5h0M709.5 935h0M713.9 923.5h0M718.3 915.7h0M722.6 911.2h0M727 905h0M731.4 897.8h0M735.8 891.2h0M740.2 884.2h0M744.6 877.6h0M749 870.9h0M753.4 865h0M757.8 859.8h0M762.2 855.5h0M766.5 851.8h0M770.9 848.1h0M775.3 845.5h0M779.7 843.7h0M784.1 842.7h0M788.5 842.1h0M792.9 842.2h0M797.3 843h0M801.7 844.6h0M806.1 846.7h0M810.4 848.9h0M814.8 851.2h0M819.2 853.4h0M823.6 855.6h0M828 857.8h0M832.4 860.1h0M836.8 862.4h0M841.2 864.5h0M845.6 866.1h0M850 867.6h0M854.3 868.6h0M858.7 869.3h0M863.1 869.8h0M867.5 870h0M871.9 869.1h0M876.3 867.1h0M880.7 864.6h0M885.1 861.1h0M889.5 856.8h0M893.9 852.1h0M898.2 846.9h0M902.6 842.2h0M907 837.8h0M911.4 833.7h0M915.8 829.7h0M920.2 826.1h0M924.6 822.8h0M929 820h0M933.4 818.1h0M937.8 816.7h0M942.1 816h0M946.5 815.6h0M950.9 815.5h0M955.3 816.1h0M959.7 816.9h0M964.1 818.2h0M968.5 819.9h0M972.9 821.4h0M977.3 822.5h0M981.7 823.6h0" stroke="#223f8e" stroke-width="5.13" stroke-linecap="round" fill="none"/><path d="M700 798.8l3.2 6.1h-6.5zM704.4 798.6l3.2 6.1h-6.5zM708.8 798.4l3.2 6.1h-6.5zM713.2 798.3l3.2 6.1h-6.5zM717.6 798.3l3.2 6.1h-6.5zM721.9 798.3l3.2 6.1h-6.5zM726.3 798.4l3.2 6.1h-6.5zM730.7 798.6l3.2 6.1h-6.5zM735.1 798.8l3.2 6.1h-6.5zM739.5 799.2l3.2 6.1h-6.5zM743.9 800l3.2 6.1h-6.5zM748.3 800.9l3.2 6.1h-6.5zM752.7 802l3.2 6.1h-6.5zM757.1 803l3.2 6.1h-6.5zM761.5 804.2l3.2 6.1h-6.5zM765.8 805.5l3.2 6.1h-6.5zM770.2 807l3.2 6.1h-6.5zM774.6 808.6l3.2 6.1h-6.5zM779 810.6l3.2 6.1h-6.5zM783.4 813l3.2 6.1h-6.5zM787.8 815.6l3.2 6.1h-6.5zM792.2 818.3l3.2 6.1h-6.5zM796.6 821l3.2 6.1h-6.5zM801 823.7l3.2 6.1h-6.5zM805.4 826.4l3.2 6.1h-6.5zM809.7 829.2l3.2 6.1h-6.5zM814.1 832l3.2 6.1h-6.5zM818.5 834.8l3.2 6.1h-6.5zM822.9 837.6l3.2 6.1h-6.5zM827.3 840.4l3.2 6.1h-6.5zM831.7 843.1l3.2 6.1h-6.5zM836.1 845.6l3.2 6.1h-6.5zM840.5 847.9l3.2 6.1h-6.5zM844.9 850.1l3.2 6.1h-6.5zM849.3 852.2l3.2 6.1h-6.5zM853.6 854.4l3.2 6.1h-6.5zM858 856.5l3.2 6.1h-6.5zM862.4 858.7l3.2 6.1h-6.5zM866.8 860.9l3.2 6.1h-6.5zM871.2 863.1l3.2 6.1h-6.5zM875.6 865.3l3.2 6.1h-6.5zM880 867.6l3.2 6.1h-6.5zM884.4 869.9l3.2 6.1h-6.5zM888.8 872.3l3.2 6.1h-6.5zM893.2 874.7l3.2 6.1h-6.5zM897.5 877.3l3.2 6.1h-6.5zM901.9 880l3.2 6.1h-6.5zM906.3 882.8l3.2 6.1h-6.5zM910.7 885.8l3.2 6.1h-6.5zM915.1 888.9l3.2 6.1h-6.5zM919.5 892.2l3.2 6.1h-6.5zM923.9 895.7l3.2 6.1h-6.5zM928.3 899.4l3.2 6.1h-6.5zM932.7 903.1l3.2 6.1h-6.5zM937.1 906.8l3.2 6.1h-6.5zM941.4 910.5l3.2 6.1h-6.5zM945.8 914.4l3.2 6.1h-6.5zM950.2 918.2l3.2 6.1h-6.5zM954.6 922.2l3.2 6.1h-6.5zM959 926.2l3.2 6.1h-6.5zM963.4 930.3l3.2 6.1h-6.5zM967.8 934.4l3.2 6.1h-6.5zM972.2 938.6l3.2 6.1h-6.5zM976.6 942.9l3.2 6.1h-6.5zM981 947.2l3.2 6.1h-6.5z" fill="#7fae2e"/><path d="M700 958.8l3.2 6.1h-6.5zM705 958.8l3.2 6.1h-6.5zM710 958.8l3.2 6.1h-6.5zM715 947.5l3.2 6.1h-6.5zM722.5 934.3l3.2 6.1h-6.5zM727.5 935l3.2 6.1h-6.5zM730.7 929.6l3.2 6.1h-6.5zM735.1 924.5l3.2 6.1h-6.5zM739.5 922.9l3.2 6.1h-6.5zM743.9 922l3.2 6.1h-6.5zM748.3 919.8l3.2 6.1h-6.5zM752.7 914.9l3.2 6.1h-6.5zM757.1 910.4l3.2 6.1h-6.5zM761.5 907.4l3.2 6.1h-6.5zM765.8 903.7l3.2 6.1h-6.5zM770.2 898.5l3.2 6.1h-6.5zM774.6 893.2l3.2 6.1h-6.5zM779 888l3.2 6.1h-6.5zM783.4 882.7l3.2 6.1h-6.5zM787.8 877.7l3.2 6.1h-6.5zM792.2 872.2l3.2 6.1h-6.5zM796.6 866.2l3.2 6.1h-6.5zM801 860.7l3.2 6.1h-6.5zM805.4 855.9l3.2 6.1h-6.5zM809.7 852l3.2 6.1h-6.5zM814.1 849l3.2 6.1h-6.5zM818.5 846.8l3.2 6.1h-6.5zM822.9 845.3l3.2 6.1h-6.5zM827.3 844.3l3.2 6.1h-6.5zM831.7 844l3.2 6.1h-6.5zM836.1 843.8l3.2 6.1h-6.5zM840.5 844.1l3.2 6.1h-6.5zM844.9 845.4l3.2 6.1h-6.5zM849.3 847.2l3.2 6.1h-6.5zM853.6 849.6l3.2 6.1h-6.5zM858 853l3.2 6.1h-6.5zM862.4 856.2l3.2 6.1h-6.5zM866.8 859.5l3.2 6.1h-6.5zM871.2 862.7l3.2 6.1h-6.5zM875.6 863.8l3.2 6.1h-6.5zM880 863.8l3.2 6.1h-6.5zM884.4 863.8l3.2 6.1h-6.5zM888.8 862.5l3.2 6.1h-6.5zM893.2 859l3.2 6.1h-6.5zM897.5 855.4l3.2 6.1h-6.5zM901.9 850.9l3.2 6.1h-6.5zM906.3 846l3.2 6.1h-6.5zM910.7 840.7l3.2 6.1h-6.5zM915.1 834.9l3.2 6.1h-6.5zM919.5 828.4l3.2 6.1h-6.5zM923.9 821.7l3.2 6.1h-6.5zM928.3 815.3l3.2 6.1h-6.5zM932.7 809.3l3.2 6.1h-6.5zM937.1 803.8l3.2 6.1h-6.5zM941.4 798.7l3.2 6.1h-6.5zM945.8 794.1l3.2 6.1h-6.5zM950.2 790.1l3.2 6.1h-6.5zM954.6 786.4l3.2 6.1h-6.5zM959 783.3l3.2 6.1h-6.5zM963.4 780.8l3.2 6.1h-6.5zM967.8 778.9l3.2 6.1h-6.5zM972.2 777.2l3.2 6.1h-6.5zM976.6 776l3.2 6.1h-6.5zM981 775.2l3.2 6.1h-6.5z" fill="#7fae2e"/><path d="M722.5 827.5l3.2 -6.1h-6.5zM726.9 827.6l3.2 -6.1h-6.5zM731.3 827.7l3.2 -6.1h-6.5zM735.7 827.9l3.2 -6.1h-6.5zM740.1 828.1l3.2 -6.1h-6.5zM744.4 828.3l3.2 -6.1h-6.5zM748.8 828.6l3.2 -6.1h-6.5zM753.2 829l3.2 -6.1h-6.5zM757.6 829.4l3.2 -6.1h-6.5zM762 829.9l3.2 -6.1h-6.5zM766.4 830.4l3.2 -6.1h-6.5zM770.8 831.1l3.2 -6.1h-6.5zM775.2 831.8l3.2 -6.1h-6.5zM779.6 832.6l3.2 -6.1h-6.5zM784 833.5l3.2 -6.1h-6.5zM788.3 834.5l3.2 -6.1h-6.5zM792.7 835.7l3.2 -6.1h-6.5zM797.1 836.9l3.2 -6.1h-6.5zM801.5 838.4l3.2 -6.1h-6.5zM805.9 840l3.2 -6.1h-6.5zM810.3 842l3.2 -6.1h-6.5zM814.7 844.2l3.2 -6.1h-6.5zM819.1 846.7l3.2 -6.1h-6.5zM823.5 849.3l3.2 -6.1h-6.5zM827.9 852.3l3.2 -6.1h-6.5zM832.2 855.6l3.2 -6.1h-6.5zM836.6 859.1l3.2 -6.1h-6.5zM841 862.6l3.2 -6.1h-6.5zM845.4 865.9l3.2 -6.1h-6.5zM849.8 869.3l3.2 -6.1h-6.5zM854.2 872.6l3.2 -6.1h-6.5zM858.6 875.9l3.2 -6.1h-6.5zM863 879.1l3.2 -6.1h-6.5zM867.4 882.1l3.2 -6.1h-6.5zM871.8 885.2l3.2 -6.1h-6.5zM876.1 888.1l3.2 -6.1h-6.5zM880.5 891.1l3.2 -6.1h-6.5zM884.9 894.1l3.2 -6.1h-6.5zM889.3 897.1l3.2 -6.1h-6.5zM893.7 900l3.2 -6.1h-6.5zM898.1 903l3.2 -6.1h-6.5zM902.5 906.2l3.2 -6.1h-6.5zM906.9 909.6l3.2 -6.1h-6.5zM911.3 913.2l3.2 -6.1h-6.5zM915.7 916.9l3.2 -6.1h-6.5zM920 920.5l3.2 -6.1h-6.5zM924.4 924l3.2 -6.1h-6.5zM928.8 927.3l3.2 -6.1h-6.5zM933.2 930.7l3.2 -6.1h-6.5zM937.6 933.9l3.2 -6.1h-6.5zM942 937.1l3.2 -6.1h-6.5zM946.4 940.2l3.2 -6.1h-6.5zM950.8 943.2l3.2 -6.1h-6.5zM955.2 946.2l3.2 -6.1h-6.5zM959.6 949.2l3.2 -6.1h-6.5zM963.9 952.2l3.2 -6.1h-6.5zM968.3 955.2l3.2 -6.1h-6.5zM972.7 958.2l3.2 -6.1h-6.5zM977.1 961.3l3.2 -6.1h-6.5zM981.5 964.3l3.2 -6.1h-6.5z" fill="#91619a"/><path d="M722.5 961.7l3.2 -6.1h-6.5zM726.9 961.5l3.2 -6.1h-6.5zM731.3 960.6l3.2 -6.1h-6.5zM735.7 957.1l3.2 -6.1h-6.5zM740.1 954.9l3.2 -6.1h-6.5zM744.4 953.7l3.2 -6.1h-6.5zM748.8 955l3.2 -6.1h-6.5zM753.2 956.2l3.2 -6.1h-6.5zM757.6 954.6l3.2 -6.1h-6.5zM762 951.2l3.2 -6.1h-6.5zM766.4 945.6l3.2 -6.1h-6.5zM770.8 941.5l3.2 -6.1h-6.5zM775.2 938.6l3.2 -6.1h-6.5zM779.6 937.3l3.2 -6.1h-6.5zM784 935.2l3.2 -6.1h-6.5zM788.3 929.7l3.2 -6.1h-6.5zM792.7 923.7l3.2 -6.1h-6.5zM797.1 916.8l3.2 -6.1h-6.5zM801.5 909.2l3.2 -6.1h-6.5zM805.9 900.6l3.2 -6.1h-6.5zM810.3 890.9l3.2 -6.1h-6.5zM814.7 882l3.2 -6.1h-6.5zM819.1 874.1l3.2 -6.1h-6.5zM823.5 865.9l3.2 -6.1h-6.5zM827.9 858.1l3.2 -6.1h-6.5zM832.2 851.2l3.2 -6.1h-6.5zM836.6 845.5l3.2 -6.1h-6.5zM841 841l3.2 -6.1h-6.5zM845.4 838.3l3.2 -6.1h-6.5zM849.8 836.7l3.2 -6.1h-6.5zM854.2 836.1l3.2 -6.1h-6.5zM858.6 835.7l3.2 -6.1h-6.5zM863 835.7l3.2 -6.1h-6.5zM867.4 835.7l3.2 -6.1h-6.5zM871.8 835.6l3.2 -6.1h-6.5zM876.1 834.8l3.2 -6.1h-6.5zM880.5 833.6l3.2 -6.1h-6.5zM884.9 831.8l3.2 -6.1h-6.5zM889.3 830.1l3.2 -6.1h-6.5zM893.7 829.1l3.2 -6.1h-6.5zM898.1 828.3l3.2 -6.1h-6.5zM902.5 828.2l3.2 -6.1h-6.5zM906.9 828.2l3.2 -6.1h-6.5zM911.3 828.3l3.2 -6.1h-6.5zM915.7 829.2l3.2 -6.1h-6.5zM920 830.7l3.2 -6.1h-6.5zM924.4 832.9l3.2 -6.1h-6.5zM928.8 835.5l3.2 -6.1h-6.5zM933.2 838.2l3.2 -6.1h-6.5zM937.6 840.7l3.2 -6.1h-6.5zM942 842.3l3.2 -6.1h-6.5zM946.4 843.5l3.2 -6.1h-6.5zM950.8 844.1l3.2 -6.1h-6.5zM955.2 844l3.2 -6.1h-6.5zM959.6 843.2l3.2 -6.1h-6.5zM963.9 841.9l3.2 -6.1h-6.5zM968.3 839.2l3.2 -6.1h-6.5zM972.7 836.1l3.2 -6.1h-6.5zM977.1 833.3l3.2 -6.1h-6.5zM981.5 830.6l3.2 -6.1h-6.5z" fill="#91619a"/><path d="M682.5 778.8L686.6 778.8L690.6 778.8L694.7 778.8L698.7 778.8L702.8 778.8L706.8 779.2L710.9 779.9L714.9 780.7L719 781.6L723 783.1L727.1 784.9L731.1 786.8L735.2 788.9L739.3 791.2L743.3 793.4L747.4 795.6L751.4 797.8L755.5 800L759.5 802.2L763.6 804.5L767.6 806.7L771.7 809L775.7 811.3L779.8 813.6L783.9 816.1L787.9 818.6L792 821.2L796 823.7L800.1 826.3L804.1 828.8L808.2 831.4L812.2 834L816.3 836.5L820.3 838.9L824.4 841.3L828.4 843.7L832.5 846L836.6 848.2L840.6 850.3L844.7 852.3L848.7 854.3L852.8 856.2L856.8 858L860.9 859.9L864.9 861.8L869 863.6L873 865.4L877.1 867.3L881.1 869.3L885.2 871.4L889.3 873.6L893.3 875.9L897.4 878.4L901.4 880.9L905.5 883.6L909.5 886.5L913.6 889.6L917.6 892.7L921.7 895.8L925.7 899.1L929.8 902.4L933.9 905.9L937.9 909.4L942 913L946 916.7L950.1 920.5L954.1 924.3L958.2 928.2L962.2 932.2L966.3 936.1L970.3 940.2L974.4 944.2L978.4 948.3L982.5 952.5" fill="none" stroke="#353535" stroke-width="1.45"/><path d="M682.5 938.8L686.6 935.6L690.6 932.3L694.7 928.9L698.7 925.5L702.8 922L706.8 918.4L710.9 914.6L714.9 910.7L719 906.8L723 902.9L727.1 899L731.1 895.2L735.2 891.3L739.3 887.3L743.3 883.3L747.4 879.6L751.4 876.3L755.5 873.4L759.5 870.9L763.6 868.6L767.6 866.4L771.7 864.5L775.7 862.8L779.8 861.3L783.9 860L787.9 858.7L792 857.5L796 856.5L800.1 855.8L804.1 855.5L808.2 855.5L812.2 855.6L816.3 855.8L820.3 856L824.4 856.2L828.4 856.6L832.5 857.4L836.6 858.4L840.6 859.5L844.7 860.6L848.7 861.9L852.8 863.4L856.8 864.9L860.9 866.3L864.9 867.4L869 868.3L873 869L877.1 869.6L881.1 870L885.2 869.7L889.3 868.2L893.3 866L897.4 863.3L901.4 859L905.5 853.7L909.5 848.1L913.6 842.2L917.6 835.6L921.7 828.9L925.7 822.7L929.8 816.8L933.9 811.1L937.9 806L942 801.8L946 797.9L950.1 794.5L954.1 791.8L958.2 789.5L962.2 787.5L966.3 785.9L970.3 784.9L974.4 784.4L978.4 783.9L982.5 783.8" fill="none" stroke="#353535" stroke-width="1.45"/><path d="M676.2 792.5L680.4 792.6L684.5 792.8L688.7 792.9L692.8 793L696.9 793.1L701.1 793.2L705.2 793.4L709.4 793.9L713.5 794.7L717.6 795.5L721.8 796.7L725.9 798.3L730.1 800L734.2 801.9L738.3 804.1L742.5 806.2L746.6 808.2L750.7 810.2L754.9 812.4L759 814.9L763.2 817.7L767.3 820.6L771.4 823.5L775.6 826.6L779.7 829.7L783.9 832.9L788 836L792.1 839.2L796.3 842.3L800.4 845.3L804.5 848.2L808.7 850.9L812.8 853.6L817 856.2L821.1 858.7L825.2 861L829.4 863.4L833.5 865.8L837.7 868.1L841.8 870.5L845.9 872.8L850.1 875L854.2 877.2L858.3 879.2L862.5 881.2L866.6 883.3L870.8 885.4L874.9 887.6L879 889.9L883.2 892.2L887.3 894.6L891.5 897.2L895.6 899.9L899.7 902.7L903.9 905.6L908 908.6L912.1 911.6L916.3 914.6L920.4 917.7L924.6 920.9L928.7 924L932.8 927.1L937 930.2L941.1 933.3L945.3 936.4L949.4 939.5L953.5 942.6L957.7 945.7L961.8 948.8L965.9 951.9L970.1 955.1L974.2 958.3L978.4 961.6L982.5 965" fill="none" stroke="#353535" stroke-width="1.45"/><path d="M675 950L679.2 948.4L683.3 946.5L687.5 944.3L691.6 941.8L695.8 939L699.9 935.7L704.1 932.1L708.2 928.1L712.4 923.9L716.6 919.3L720.7 914.1L724.9 908.4L729 901.6L733.2 895.3L737.3 888.8L741.5 882.2L745.6 876L749.8 869.8L754 864.3L758.1 859.5L762.3 855.4L766.4 851.9L770.6 848.4L774.7 845.8L778.9 844L783 842.9L787.2 842.2L791.4 842L795.5 842.6L799.7 843.7L803.8 845.7L808 847.7L812.1 849.8L816.3 851.9L820.4 854L824.6 856L828.8 858.1L832.9 860.4L837.1 862.6L841.2 864.5L845.4 866.1L849.5 867.5L853.7 868.5L857.8 869.2L862 869.7L866.1 870L870.3 869.6L874.5 868L878.6 865.8L882.8 863.1L886.9 859.3L891.1 855.1L895.2 850.4L899.4 845.7L903.5 841.3L907.7 837.2L911.9 833.3L916 829.5L920.2 826.1L924.3 823L928.5 820.3L932.6 818.4L936.8 816.9L940.9 816.1L945.1 815.7L949.3 815.5L953.4 815.7L957.6 816.5L961.7 817.4L965.9 818.9L970 820.4L974.2 821.7L978.3 822.8L982.5 823.8" fill="none" stroke="#353535" stroke-width="1.45"/><path d="M700 802.5L703.8 802.3L707.6 802.2L711.5 802.1L715.3 802L719.1 802L722.9 802.1L726.7 802.2L730.5 802.3L734.4 802.5L738.2 802.8L742 803.3L745.8 804.1L749.6 805L753.4 805.9L757.3 806.8L761.1 807.8L764.9 808.9L768.7 810.2L772.5 811.5L776.4 813.1L780.2 814.9L784 817.1L787.8 819.3L791.6 821.7L795.4 824L799.3 826.3L803.1 828.7L806.9 831.1L810.7 833.5L814.5 836L818.3 838.4L822.2 840.8L826 843.3L829.8 845.7L833.6 848L837.4 850.1L841.2 852L845.1 853.9L848.9 855.8L852.7 857.6L856.5 859.5L860.3 861.4L864.2 863.3L868 865.2L871.8 867.1L875.6 869.1L879.4 871L883.2 873L887.1 875L890.9 877.1L894.7 879.3L898.5 881.6L902.3 884L906.1 886.4L910 889L913.8 891.6L917.6 894.4L921.4 897.4L925.2 900.5L929.1 903.7L932.9 907L936.7 910.2L940.5 913.4L944.3 916.7L948.1 920.1L952 923.5L955.8 927L959.6 930.5L963.4 934L967.2 937.6L971 941.3L974.9 945L978.7 948.7L982.5 952.5" fill="none" stroke="#353535" stroke-width="1.45"/><path d="M700 954.2L703.8 953.9L707.6 953.3L711.5 952.6L715.3 951.8L719.1 950.9L722.9 949.7L726.7 948.4L730.5 946.9L734.4 945.3L738.2 943.5L742 941.4L745.8 939L749.6 936.5L753.4 933.8L757.3 930.8L761.1 927.5L764.9 923.9L768.7 919.7L772.5 915L776.4 910L780.2 904.8L784 899.2L787.8 893.4L791.6 887.5L795.4 881.9L799.3 876.4L803.1 871L806.9 866L810.7 861.8L814.5 857.9L818.3 854.8L822.2 852.7L826 851.1L829.8 850L833.6 849.3L837.4 849L841.2 849.4L845.1 850.3L848.9 851.6L852.7 853.3L856.5 856.1L860.3 859L864.2 861.6L868 864.4L871.8 866.7L875.6 867.5L879.4 867.5L883.2 867.5L887.1 867.1L890.9 864.7L894.7 861.5L898.5 858.2L902.3 854.2L906.1 850L910 845.4L913.8 840.4L917.6 835L921.4 829.1L925.2 823.4L929.1 817.9L932.9 812.7L936.7 807.9L940.5 803.4L944.3 799.3L948.1 795.7L952 792.5L955.8 789.5L959.6 787L963.4 785.1L967.2 783.5L971 782.1L974.9 781L978.7 780.3L982.5 780" fill="none" stroke="#353535" stroke-width="1.45"/><path d="M722.5 823.8L726 823.8L729.5 823.9L733 824L736.6 824.2L740.1 824.4L743.6 824.6L747.1 824.8L750.6 825.1L754.1 825.4L757.6 825.7L761.1 826.1L764.7 826.5L768.2 827L771.7 827.5L775.2 828.1L778.7 828.8L782.2 829.4L785.7 830.2L789.3 831L792.8 831.9L796.3 833L799.8 834.1L803.3 835.3L806.8 836.7L810.3 838.3L813.9 840.1L817.4 842L820.9 844L824.4 846.2L827.9 848.6L831.4 851.3L834.9 854.1L838.4 856.9L842 859.6L845.5 862.2L849 864.9L852.5 867.6L856 870.2L859.5 872.8L863 875.4L866.6 877.9L870.1 880.3L873.6 882.7L877.1 885.1L880.6 887.5L884.1 889.9L887.6 892.2L891.1 894.6L894.7 896.9L898.2 899.4L901.7 901.9L905.2 904.6L908.7 907.4L912.2 910.3L915.7 913.3L919.3 916.2L922.8 919L926.3 921.7L929.8 924.4L933.3 927L936.8 929.6L940.3 932.2L943.9 934.7L947.4 937.2L950.9 939.6L954.4 942L957.9 944.4L961.4 946.8L964.9 949.2L968.4 951.6L972 954L975.5 956.4L979 958.8L982.5 961.2" fill="none" stroke="#353535" stroke-width="1.45"/><path d="M722.5 956.2L726 955.6L729.5 954.9L733 954L736.6 953.1L740.1 952L743.6 950.9L747.1 949.6L750.6 948.2L754.1 946.7L757.6 945L761.1 943.1L764.7 941.1L768.2 938.9L771.7 936.4L775.2 933.6L778.7 930.4L782.2 926.7L785.7 922.7L789.3 918.4L792.8 914L796.3 909.1L799.8 904L803.3 898.8L806.8 893.5L810.3 887.9L813.9 882.3L817.4 876.6L820.9 871.1L824.4 865.6L827.9 860L831.4 854.7L834.9 850.1L838.4 845.9L842 842.1L845.5 838.6L849 835.7L852.5 833.4L856 831.3L859.5 829.6L863 828.1L866.6 827.1L870.1 826.2L873.6 825.5L877.1 824.9L880.6 824.4L884.1 824.1L887.6 823.8L891.1 823.8L894.7 824L898.2 824.3L901.7 824.7L905.2 825.5L908.7 826.6L912.2 827.8L915.7 829L919.3 830.3L922.8 831.7L926.3 833.1L929.8 834.4L933.3 835.8L936.8 837.2L940.3 838.3L943.9 839L947.4 839.5L950.9 839.8L954.4 840L957.9 839.6L961.4 838.1L964.9 836.3L968.4 834.6L972 832.9L975.5 831L979 829.1L982.5 827" fill="none" stroke="#353535" stroke-width="1.45"/><rect x="675" y="755" width="307.5" height="229.5" fill="none" stroke="#111" stroke-width="2"/><text x="660" y="1013.5" font-size="20.5" text-anchor="middle">10<tspan dx="0" dy="-8.61" font-size="11.48">−2</tspan></text><text x="719.93" y="1013.5" font-size="20.5" text-anchor="middle">10<tspan dx="0" dy="-8.61" font-size="11.48">−1</tspan></text><text x="760.36" y="1013.5" font-size="20.5" text-anchor="middle">10<tspan dx="0" dy="-8.61" font-size="11.48">0</tspan></text><text x="804.29" y="1013.5" font-size="20.5" text-anchor="middle">10<tspan dx="0" dy="-8.61" font-size="11.48">1</tspan></text><text x="848.22" y="1013.5" font-size="20.5" text-anchor="middle">10<tspan dx="0" dy="-8.61" font-size="11.48">2</tspan></text><text x="892.15" y="1013.5" font-size="20.5" text-anchor="middle">10<tspan dx="0" dy="-8.61" font-size="11.48">3</tspan></text><text x="936.08" y="1013.5" font-size="20.5" text-anchor="middle">10<tspan dx="0" dy="-8.61" font-size="11.48">4</tspan></text><text x="980.01" y="1013.5" font-size="20.5" text-anchor="middle">10<tspan dx="0" dy="-8.61" font-size="11.48">5</tspan></text><text x="663.4" y="759.2" font-size="20.5" text-anchor="end">10<tspan dx="0" dy="-8.61" font-size="11.48">6</tspan></text><text x="663.4" y="814.5" font-size="20.5" text-anchor="end">10<tspan dx="0" dy="-8.61" font-size="11.48">5</tspan></text><text x="663.4" y="868.5" font-size="20.5" text-anchor="end">10<tspan dx="0" dy="-8.61" font-size="11.48">4</tspan></text><text x="663.4" y="922.6" font-size="20.5" text-anchor="end">10<tspan dx="0" dy="-8.61" font-size="11.48">3</tspan></text><text x="663.4" y="974.9" font-size="20.5" text-anchor="end">10<tspan dx="0" dy="-8.61" font-size="11.48">2</tspan></text><text x="991.3" y="784.3" font-size="20.5" text-anchor="start" >80</text><text x="991.3" y="829.8" font-size="20.5" text-anchor="start" >60</text><text x="991.3" y="876.3" font-size="20.5" text-anchor="start" >40</text><text x="991.3" y="922.55" font-size="20.5" text-anchor="start" >20</text><text x="991.3" y="968.8" font-size="20.5" text-anchor="start" >0</text><text x="832.5" y="1043" font-size="22" text-anchor="middle" textLength="125.5" lengthAdjust="spacing">Frequency/Hz</text><text transform="translate(623.7 859.2) rotate(-90)" font-size="22" text-anchor="middle" textLength="118" lengthAdjust="spacing">|<tspan font-style="italic">Z</tspan>|/(<tspan font-weight="bold">Ω</tspan> · cm<tspan dy="-8" font-size="13">&#160;2</tspan><tspan dy="8">)</tspan></text><text transform="translate(1043.4 882.7) rotate(-90)" font-size="22" text-anchor="middle" textLength="157" lengthAdjust="spacing">−Phase angle/( ° )</text><path d="M822.5 898h0" stroke="#c81a2d" stroke-width="5.49" stroke-linecap="square" fill="none"/><path d="M822.5 915.5h0" stroke="#223f8e" stroke-width="6.05" stroke-linecap="round" fill="none"/><path d="M822.5 928.6l3.8 7.2h-7.6z" fill="#7fae2e"/><path d="M822.5 953.1l3.8 -7.2h-7.6z" fill="#91619a"/><text x="848.75" y="902.5" font-size="22" text-anchor="start" style="stroke-width:.45px">1 h</text><text x="848.75" y="920" font-size="22" text-anchor="start" style="stroke-width:.45px">24 h</text><text x="848.75" y="937.5" font-size="22" text-anchor="start" style="stroke-width:.45px">96 h</text><text x="848.75" y="954.5" font-size="22" text-anchor="start" style="stroke-width:.45px">168 h</text><text x="848.75" y="971.25" font-size="22" text-anchor="start" style="stroke-width:.45px">Fitting</text><path d="M699.5 832.5L713 827.2L709 832.5L713 837.8Z" fill="#111"/><path d="M947.5 856.5L934 851.2L938 856.5L934 861.8Z" fill="#111"/></g><path d="M688.2 981.9V984.5M696 981.9V984.5M701.4 981.9V984.5M705.7 981.9V984.5M709.2 981.9V984.5M712.1 981.9V984.5M714.7 981.9V984.5M716.9 981.9V984.5M732.2 981.9V984.5M739.9 981.9V984.5M745.4 981.9V984.5M749.6 981.9V984.5M753.1 981.9V984.5M756.1 981.9V984.5M758.6 981.9V984.5M760.8 981.9V984.5M776.1 981.9V984.5M783.8 981.9V984.5M789.3 981.9V984.5M793.6 981.9V984.5M797 981.9V984.5M800 981.9V984.5M802.5 981.9V984.5M804.8 981.9V984.5M820 981.9V984.5M827.7 981.9V984.5M833.2 981.9V984.5M837.5 981.9V984.5M841 981.9V984.5M843.9 981.9V984.5M846.5 981.9V984.5M848.7 981.9V984.5M863.9 981.9V984.5M871.7 981.9V984.5M877.2 981.9V984.5M881.4 981.9V984.5M884.9 981.9V984.5M887.8 981.9V984.5M890.4 981.9V984.5M892.6 981.9V984.5M907.9 981.9V984.5M915.6 981.9V984.5M921.1 981.9V984.5M925.4 981.9V984.5M928.8 981.9V984.5M931.8 981.9V984.5M934.3 981.9V984.5M936.6 981.9V984.5M951.8 981.9V984.5M959.5 981.9V984.5M965 981.9V984.5M969.3 981.9V984.5M972.8 981.9V984.5M975.7 981.9V984.5M978.3 981.9V984.5M980.5 981.9V984.5M675 791.9H677.6M675 782.5H677.6M675 775.8H677.6M675 770.7H677.6M675 766.4H677.6M675 762.9H677.6M675 759.8H677.6M675 757H677.6M675 845.3H677.6M675 835.9H677.6M675 829.2H677.6M675 824.1H677.6M675 819.8H677.6M675 816.3H677.6M675 813.2H677.6M675 810.4H677.6M675 898.7H677.6M675 889.3H677.6M675 882.6H677.6M675 877.5H677.6M675 873.2H677.6M675 869.7H677.6M675 866.6H677.6M675 863.8H677.6M675 952.1H677.6M675 942.7H677.6M675 936H677.6M675 930.9H677.6M675 926.6H677.6M675 923.1H677.6M675 920H677.6M675 917.2H677.6M675 980H677.6M675 976.5H677.6M675 973.4H677.6M675 970.6H677.6" stroke="#111" stroke-width="1.2" fill="none"/><path d="M718.9 979V984.5M762.9 979V984.5M806.8 979V984.5M850.7 979V984.5M894.6 979V984.5M938.6 979V984.5M675 808H680.5M675 861.4H680.5M675 914.8H680.5M675 968.2H680.5M977 777.5H982.5M977 823H982.5M977 869.5H982.5M977 915.8H982.5M977 962H982.5" stroke="#111" stroke-width="2" fill="none"/><path d="M807.5 966.2H837.5" stroke="#353535" stroke-width="1.5" fill="none"/><path d="M733.8 832.5H705.5M913 856.5H941.5" stroke="#111" stroke-width="1.7" fill="none"/>
<g><path d="M1145 783h0M1149.4 782.7h0M1153.8 782.6h0M1158.2 782.5h0M1162.6 782.5h0M1167 782.5h0M1171.3 783h0M1175.7 783.7h0M1180.1 784.5h0M1184.5 785.4h0M1188.9 786.5h0M1193.3 787.8h0M1197.7 789.2h0M1202.1 790.7h0M1206.5 792.3h0M1210.9 794h0M1215.2 795.9h0M1219.6 797.8h0M1224 799.9h0M1228.4 802.1h0M1232.8 804.5h0M1237.2 807h0M1241.6 809.8h0M1246 812.9h0M1250.4 816.2h0M1254.8 819.7h0M1259.1 823.1h0M1263.5 826.4h0M1267.9 829.8h0M1272.3 833.1h0M1276.7 836.4h0M1281.1 839.5h0M1285.5 842.6h0M1289.9 845.6h0M1294.3 848.6h0M1298.7 851.6h0M1303 854.6h0M1307.4 857.6h0M1311.8 860.7h0M1316.2 863.7h0M1320.6 866.7h0M1325 869.6h0M1329.4 872.4h0M1333.8 875.3h0M1338.2 878.2h0M1342.6 881.3h0M1346.9 884.3h0M1351.3 887.4h0M1355.7 890.6h0M1360.1 893.8h0M1364.5 897.2h0M1368.9 900.8h0M1373.3 904.4h0M1377.7 908h0M1382.1 911.7h0M1386.5 915.5h0M1390.8 919.4h0M1395.2 923.3h0M1399.6 927.2h0M1404 931h0M1408.4 934.9h0M1412.8 938.7h0M1417.2 942.5h0M1421.6 946.4h0M1426 950.2h0M1430.4 954.1h0M1434.7 957.9h0M1439.1 961.7h0" stroke="#c81a2d" stroke-width="4.66" stroke-linecap="square" fill="none"/><path d="M1143.8 953.8h0M1150 958h0M1156.2 952.5h0M1162.5 943.8h0M1168.8 938.8h0M1175 933.8h0M1182.5 928.8h0M1190 923.8h0M1196.4 913.8h0M1200.8 909.5h0M1205.2 906.1h0M1209.6 902h0M1214 896.5h0M1218.4 888.4h0M1222.8 880.2h0M1227.2 875.1h0M1231.6 871h0M1235.9 866.6h0M1240.3 861.5h0M1244.7 856.5h0M1249.1 852.1h0M1253.5 847.6h0M1257.9 843.4h0M1262.3 840.3h0M1266.7 837.9h0M1271.1 835.8h0M1275.5 834.4h0M1279.8 833.5h0M1284.2 833h0M1288.6 833.1h0M1293 833.4h0M1297.4 833.7h0M1301.8 834.1h0M1306.2 834.6h0M1310.6 835.1h0M1315 835.5h0M1319.4 836h0M1323.7 836.2h0M1328.1 836h0M1332.5 835.1h0M1336.9 833.9h0M1341.3 832.5h0M1345.7 830.6h0M1350.1 828.7h0M1354.5 826.9h0M1358.9 825.1h0M1363.3 823.5h0M1367.6 822h0M1372 820.8h0M1376.4 820.5h0M1380.8 820.5h0M1385.2 820.5h0M1389.6 820.8h0M1394 822.6h0M1398.4 825.3h0M1402.8 828.1h0M1407.2 831.7h0M1411.5 835.5h0M1415.9 839.1h0M1420.3 842.8h0M1424.7 846.1h0M1429.1 848.7h0M1433.5 851h0M1437.9 853h0" stroke="#c81a2d" stroke-width="4.66" stroke-linecap="square" fill="none"/><path d="M1133.8 798h0M1138.1 798.8h0M1142.5 799.7h0M1146.9 800.7h0M1151.3 801.7h0M1155.7 802.8h0M1160.1 804h0M1164.5 805.4h0M1168.9 806.8h0M1173.3 808.3h0M1177.7 809.8h0M1182 811.5h0M1186.4 813.4h0M1190.8 815.4h0M1195.2 817.7h0M1199.6 820.3h0M1204 822.9h0M1208.4 825.5h0M1212.8 828h0M1217.2 830.4h0M1221.6 833h0M1225.9 835.6h0M1230.3 838.3h0M1234.7 841.1h0M1239.1 844h0M1243.5 846.9h0M1247.9 849.8h0M1252.3 852.7h0M1256.7 855.7h0M1261.1 858.7h0M1265.5 861.8h0M1269.8 865h0M1274.2 868.2h0M1278.6 871.4h0M1283 874.8h0M1287.4 878.4h0M1291.8 882h0M1296.2 885.6h0M1300.6 889.2h0M1305 892.8h0M1309.4 896.3h0M1313.7 899.9h0M1318.1 903.5h0M1322.5 907.1h0M1326.9 910.7h0M1331.3 914.4h0M1335.7 917.9h0M1340.1 921.3h0M1344.5 924.6h0M1348.9 927.7h0M1353.3 930.8h0M1357.6 933.6h0M1362 936.2h0M1366.4 938.5h0M1370.8 940.8h0M1375.2 942.9h0M1379.6 944.8h0M1384 946.7h0M1388.4 948.4h0M1392.8 950h0M1397.2 951.5h0M1401.5 953h0M1405.9 954.4h0M1410.3 955.8h0M1414.7 957.1h0M1419.1 958.5h0M1423.5 959.8h0M1427.9 961.2h0M1432.3 962.6h0M1436.7 964h0" stroke="#223f8e" stroke-width="5.13" stroke-linecap="round" fill="none"/><path d="M1133.8 942.5h0M1138.1 940.8h0M1142.5 938.8h0M1146.9 936.6h0M1151.3 933.8h0M1155.7 930.8h0M1160.1 928h0M1164.5 924.6h0M1168.9 920h0M1173.3 914.4h0M1177.7 907.8h0M1182 900.7h0M1186.4 894.2h0M1190.8 889h0M1195.2 884.8h0M1199.6 881.1h0M1204 878.5h0M1208.4 876.7h0M1212.8 875.5h0M1217.2 874.7h0M1221.6 874.2h0M1225.9 873.6h0M1230.3 872.7h0M1234.7 871.3h0M1239.1 869.2h0M1243.5 866.2h0M1247.9 862.2h0M1252.3 857h0M1256.7 851.9h0M1261.1 846.8h0M1265.5 842h0M1269.8 837.3h0M1274.2 833.1h0M1278.6 829.8h0M1283 827.1h0M1287.4 825.4h0M1291.8 824.1h0M1296.2 823.8h0M1300.6 824h0M1305 824.5h0M1309.4 825.8h0M1313.7 828.1h0M1318.1 830.5h0M1322.5 833.3h0M1326.9 836.3h0M1331.3 839.7h0M1335.7 843h0M1340.1 846.3h0M1344.5 849.6h0M1348.9 852.8h0M1353.3 856.1h0M1357.6 859.7h0M1362 863.5h0M1366.4 867.6h0M1370.8 872.1h0M1375.2 876.4h0M1379.6 880.5h0M1384 884.2h0M1388.4 887.4h0M1392.8 890.2h0M1397.2 892.2h0M1401.5 893.9h0M1405.9 894.5h0M1410.3 894.5h0M1414.7 894.5h0M1419.1 893.9h0M1423.5 892.5h0M1427.9 891.1h0M1432.3 889.5h0M1436.7 887.7h0" stroke="#223f8e" stroke-width="5.13" stroke-linecap="round" fill="none"/><path d="M1140 804.3l3.2 6.1h-6.5zM1144.4 805.5l3.2 6.1h-6.5zM1148.8 806.8l3.2 6.1h-6.5zM1153.2 808.1l3.2 6.1h-6.5zM1157.6 809.3l3.2 6.1h-6.5zM1162 810.6l3.2 6.1h-6.5zM1166.3 811.8l3.2 6.1h-6.5zM1170.7 813l3.2 6.1h-6.5zM1175.1 814.3l3.2 6.1h-6.5zM1179.5 815.6l3.2 6.1h-6.5zM1183.9 817.1l3.2 6.1h-6.5zM1188.3 818.7l3.2 6.1h-6.5zM1192.7 820.3l3.2 6.1h-6.5zM1197.1 822.1l3.2 6.1h-6.5zM1201.5 823.9l3.2 6.1h-6.5zM1205.9 825.8l3.2 6.1h-6.5zM1210.2 827.9l3.2 6.1h-6.5zM1214.6 829.9l3.2 6.1h-6.5zM1219 832.1l3.2 6.1h-6.5zM1223.4 834.2l3.2 6.1h-6.5zM1227.8 836.3l3.2 6.1h-6.5zM1232.2 838.5l3.2 6.1h-6.5zM1236.6 840.7l3.2 6.1h-6.5zM1241 843.1l3.2 6.1h-6.5zM1245.4 845.5l3.2 6.1h-6.5zM1249.8 848l3.2 6.1h-6.5zM1254.1 850.6l3.2 6.1h-6.5zM1258.5 853.3l3.2 6.1h-6.5zM1262.9 856.2l3.2 6.1h-6.5zM1267.3 859.3l3.2 6.1h-6.5zM1271.7 862.5l3.2 6.1h-6.5zM1276.1 865.8l3.2 6.1h-6.5zM1280.5 869.2l3.2 6.1h-6.5zM1284.9 872.6l3.2 6.1h-6.5zM1289.3 876.2l3.2 6.1h-6.5zM1293.7 879.8l3.2 6.1h-6.5zM1298 883.4l3.2 6.1h-6.5zM1302.4 887l3.2 6.1h-6.5zM1306.8 890.6l3.2 6.1h-6.5zM1311.2 894.2l3.2 6.1h-6.5zM1315.6 897.8l3.2 6.1h-6.5zM1320 901.3l3.2 6.1h-6.5zM1324.4 904.7l3.2 6.1h-6.5zM1328.8 908l3.2 6.1h-6.5zM1333.2 911.3l3.2 6.1h-6.5zM1337.6 914.5l3.2 6.1h-6.5zM1341.9 917.7l3.2 6.1h-6.5zM1346.3 920.9l3.2 6.1h-6.5zM1350.7 924l3.2 6.1h-6.5zM1355.1 927l3.2 6.1h-6.5zM1359.5 929.7l3.2 6.1h-6.5zM1363.9 932.2l3.2 6.1h-6.5zM1368.3 934.5l3.2 6.1h-6.5zM1372.7 936.7l3.2 6.1h-6.5zM1377.1 938.7l3.2 6.1h-6.5zM1381.5 940.6l3.2 6.1h-6.5zM1385.8 942.4l3.2 6.1h-6.5zM1390.2 944.1l3.2 6.1h-6.5zM1394.6 945.7l3.2 6.1h-6.5zM1399 947.2l3.2 6.1h-6.5zM1403.4 948.7l3.2 6.1h-6.5zM1407.8 950.1l3.2 6.1h-6.5zM1412.2 951.4l3.2 6.1h-6.5zM1416.6 952.7l3.2 6.1h-6.5zM1421 954.1l3.2 6.1h-6.5zM1425.4 955.5l3.2 6.1h-6.5zM1429.7 956.8l3.2 6.1h-6.5zM1434.1 958.2l3.2 6.1h-6.5zM1438.5 959.6l3.2 6.1h-6.5z" fill="#7fae2e"/><path d="M1140 947.5l3.2 6.1h-6.5zM1144.4 945.3l3.2 6.1h-6.5zM1148.8 943.2l3.2 6.1h-6.5zM1153.2 941l3.2 6.1h-6.5zM1157.6 938.6l3.2 6.1h-6.5zM1162 936.1l3.2 6.1h-6.5zM1166.3 933.5l3.2 6.1h-6.5zM1170.7 930.8l3.2 6.1h-6.5zM1175.1 928l3.2 6.1h-6.5zM1179.5 924.5l3.2 6.1h-6.5zM1183.9 920l3.2 6.1h-6.5zM1188.3 914.7l3.2 6.1h-6.5zM1192.7 909.4l3.2 6.1h-6.5zM1197.1 902.2l3.2 6.1h-6.5zM1201.5 894.4l3.2 6.1h-6.5zM1205.9 890.1l3.2 6.1h-6.5zM1210.2 886.8l3.2 6.1h-6.5zM1214.6 884l3.2 6.1h-6.5zM1219 881.5l3.2 6.1h-6.5zM1223.4 879.8l3.2 6.1h-6.5zM1227.8 879.1l3.2 6.1h-6.5zM1232.2 878.4l3.2 6.1h-6.5zM1236.6 877.7l3.2 6.1h-6.5zM1241 876.6l3.2 6.1h-6.5zM1245.4 874.9l3.2 6.1h-6.5zM1249.8 871.5l3.2 6.1h-6.5zM1254.1 866.9l3.2 6.1h-6.5zM1258.5 860.8l3.2 6.1h-6.5zM1262.9 854.9l3.2 6.1h-6.5zM1267.3 849l3.2 6.1h-6.5zM1271.7 842.9l3.2 6.1h-6.5zM1276.1 837.6l3.2 6.1h-6.5zM1280.5 833.5l3.2 6.1h-6.5zM1284.9 830.1l3.2 6.1h-6.5zM1289.3 827.4l3.2 6.1h-6.5zM1293.7 825.4l3.2 6.1h-6.5zM1298 824.5l3.2 6.1h-6.5zM1302.4 823.9l3.2 6.1h-6.5zM1306.8 823.9l3.2 6.1h-6.5zM1311.2 825.2l3.2 6.1h-6.5zM1315.6 827.1l3.2 6.1h-6.5zM1320 830.4l3.2 6.1h-6.5zM1324.4 834.5l3.2 6.1h-6.5zM1328.8 838.4l3.2 6.1h-6.5zM1333.2 842.3l3.2 6.1h-6.5zM1337.6 845.5l3.2 6.1h-6.5zM1341.9 848.2l3.2 6.1h-6.5zM1346.3 850.9l3.2 6.1h-6.5zM1350.7 853.5l3.2 6.1h-6.5zM1355.1 856.4l3.2 6.1h-6.5zM1359.5 859.5l3.2 6.1h-6.5zM1363.9 862.9l3.2 6.1h-6.5zM1368.3 866.6l3.2 6.1h-6.5zM1372.7 870.5l3.2 6.1h-6.5zM1377.1 874.4l3.2 6.1h-6.5zM1381.5 878.5l3.2 6.1h-6.5zM1385.8 881.8l3.2 6.1h-6.5zM1390.2 884.5l3.2 6.1h-6.5zM1394.6 886.2l3.2 6.1h-6.5zM1399 887l3.2 6.1h-6.5zM1403.4 887.5l3.2 6.1h-6.5zM1407.8 887.4l3.2 6.1h-6.5zM1412.2 886.8l3.2 6.1h-6.5zM1416.6 886l3.2 6.1h-6.5zM1421 884.9l3.2 6.1h-6.5zM1425.4 883.7l3.2 6.1h-6.5zM1429.7 882.5l3.2 6.1h-6.5zM1434.1 881.2l3.2 6.1h-6.5zM1438.5 879.8l3.2 6.1h-6.5z" fill="#7fae2e"/><path d="M1133.8 840.7l3.2 -6.1h-6.5zM1138.1 841.1l3.2 -6.1h-6.5zM1142.5 841.4l3.2 -6.1h-6.5zM1146.9 841.8l3.2 -6.1h-6.5zM1151.3 842.2l3.2 -6.1h-6.5zM1155.7 842.5l3.2 -6.1h-6.5zM1160.1 842.9l3.2 -6.1h-6.5zM1164.5 843.2l3.2 -6.1h-6.5zM1168.9 843.5l3.2 -6.1h-6.5zM1173.3 843.9l3.2 -6.1h-6.5zM1177.7 844.2l3.2 -6.1h-6.5zM1182 844.6l3.2 -6.1h-6.5zM1186.4 844.9l3.2 -6.1h-6.5zM1190.8 845.3l3.2 -6.1h-6.5zM1195.2 845.7l3.2 -6.1h-6.5zM1199.6 846.2l3.2 -6.1h-6.5zM1204 846.8l3.2 -6.1h-6.5zM1208.4 847.5l3.2 -6.1h-6.5zM1212.8 848.4l3.2 -6.1h-6.5zM1217.2 849.3l3.2 -6.1h-6.5zM1221.6 850.3l3.2 -6.1h-6.5zM1225.9 851.5l3.2 -6.1h-6.5zM1230.3 852.8l3.2 -6.1h-6.5zM1234.7 854.3l3.2 -6.1h-6.5zM1239.1 855.9l3.2 -6.1h-6.5zM1243.5 857.6l3.2 -6.1h-6.5zM1247.9 859.6l3.2 -6.1h-6.5zM1252.3 861.9l3.2 -6.1h-6.5zM1256.7 864.3l3.2 -6.1h-6.5zM1261.1 866.9l3.2 -6.1h-6.5zM1265.5 869.8l3.2 -6.1h-6.5zM1269.8 873.1l3.2 -6.1h-6.5zM1274.2 876.6l3.2 -6.1h-6.5zM1278.6 880.1l3.2 -6.1h-6.5zM1283 883.6l3.2 -6.1h-6.5zM1287.4 887l3.2 -6.1h-6.5zM1291.8 890.6l3.2 -6.1h-6.5zM1296.2 894.2l3.2 -6.1h-6.5zM1300.6 898l3.2 -6.1h-6.5zM1305 901.9l3.2 -6.1h-6.5zM1309.4 906.1l3.2 -6.1h-6.5zM1313.7 910.3l3.2 -6.1h-6.5zM1318.1 914.5l3.2 -6.1h-6.5zM1322.5 918.6l3.2 -6.1h-6.5zM1326.9 922.9l3.2 -6.1h-6.5zM1331.3 927.1l3.2 -6.1h-6.5zM1335.7 931.2l3.2 -6.1h-6.5zM1340.1 935l3.2 -6.1h-6.5zM1344.5 938.6l3.2 -6.1h-6.5zM1348.9 942.1l3.2 -6.1h-6.5zM1353.3 945.3l3.2 -6.1h-6.5zM1357.6 948.4l3.2 -6.1h-6.5zM1362 951.3l3.2 -6.1h-6.5zM1366.4 954l3.2 -6.1h-6.5zM1370.8 956.7l3.2 -6.1h-6.5zM1375.2 959l3.2 -6.1h-6.5zM1379.6 961l3.2 -6.1h-6.5zM1384 962.7l3.2 -6.1h-6.5zM1388.4 964.2l3.2 -6.1h-6.5zM1392.8 965.5l3.2 -6.1h-6.5zM1397.2 966.7l3.2 -6.1h-6.5zM1401.5 967.8l3.2 -6.1h-6.5zM1405.9 968.9l3.2 -6.1h-6.5zM1410.3 969.8l3.2 -6.1h-6.5zM1414.7 970.7l3.2 -6.1h-6.5zM1419.1 971.5l3.2 -6.1h-6.5zM1423.5 972.4l3.2 -6.1h-6.5zM1427.9 973.3l3.2 -6.1h-6.5zM1432.3 974.2l3.2 -6.1h-6.5zM1436.7 975.1l3.2 -6.1h-6.5z" fill="#91619a"/><path d="M1140 956.2l3.2 -6.1h-6.5zM1144.4 956.1l3.2 -6.1h-6.5zM1148.8 955.8l3.2 -6.1h-6.5zM1153.2 955.2l3.2 -6.1h-6.5zM1157.6 953.9l3.2 -6.1h-6.5zM1162 952.6l3.2 -6.1h-6.5zM1166.3 951.3l3.2 -6.1h-6.5zM1170.7 949.7l3.2 -6.1h-6.5zM1175.1 947.9l3.2 -6.1h-6.5zM1179.5 945.9l3.2 -6.1h-6.5zM1183.9 943.9l3.2 -6.1h-6.5zM1188.3 941.7l3.2 -6.1h-6.5zM1192.7 939l3.2 -6.1h-6.5zM1197.1 936l3.2 -6.1h-6.5zM1201.5 932.6l3.2 -6.1h-6.5zM1205.9 928.8l3.2 -6.1h-6.5zM1210.2 924.7l3.2 -6.1h-6.5zM1214.6 920.4l3.2 -6.1h-6.5zM1219 916l3.2 -6.1h-6.5zM1223.4 911.6l3.2 -6.1h-6.5zM1227.8 907.3l3.2 -6.1h-6.5zM1232.2 902.4l3.2 -6.1h-6.5zM1236.6 896.8l3.2 -6.1h-6.5zM1241 891.3l3.2 -6.1h-6.5zM1245.4 885.8l3.2 -6.1h-6.5zM1249.8 880.3l3.2 -6.1h-6.5zM1254.1 874.8l3.2 -6.1h-6.5zM1258.5 869.3l3.2 -6.1h-6.5zM1262.9 863.8l3.2 -6.1h-6.5zM1267.3 858.3l3.2 -6.1h-6.5zM1271.7 852.8l3.2 -6.1h-6.5zM1276.1 847.2l3.2 -6.1h-6.5zM1280.5 841.9l3.2 -6.1h-6.5zM1284.9 837l3.2 -6.1h-6.5zM1289.3 833l3.2 -6.1h-6.5zM1293.7 830.1l3.2 -6.1h-6.5zM1298 828l3.2 -6.1h-6.5zM1302.4 827l3.2 -6.1h-6.5zM1306.8 826.4l3.2 -6.1h-6.5zM1311.2 826.3l3.2 -6.1h-6.5zM1315.6 827l3.2 -6.1h-6.5zM1320 828.2l3.2 -6.1h-6.5zM1324.4 829.7l3.2 -6.1h-6.5zM1328.8 831.8l3.2 -6.1h-6.5zM1333.2 834.5l3.2 -6.1h-6.5zM1337.6 837.9l3.2 -6.1h-6.5zM1341.9 841.7l3.2 -6.1h-6.5zM1346.3 846.1l3.2 -6.1h-6.5zM1350.7 850.7l3.2 -6.1h-6.5zM1355.1 855.5l3.2 -6.1h-6.5zM1359.5 860.6l3.2 -6.1h-6.5zM1363.9 866.4l3.2 -6.1h-6.5zM1368.3 872.6l3.2 -6.1h-6.5zM1372.7 878.7l3.2 -6.1h-6.5zM1377.1 884.8l3.2 -6.1h-6.5zM1381.5 890.6l3.2 -6.1h-6.5zM1385.8 896.2l3.2 -6.1h-6.5zM1390.2 901.5l3.2 -6.1h-6.5zM1394.6 906.9l3.2 -6.1h-6.5zM1399 911.6l3.2 -6.1h-6.5zM1403.4 915l3.2 -6.1h-6.5zM1407.8 917.7l3.2 -6.1h-6.5zM1412.2 919.6l3.2 -6.1h-6.5zM1416.6 921l3.2 -6.1h-6.5zM1421 921.8l3.2 -6.1h-6.5zM1425.4 922.3l3.2 -6.1h-6.5zM1429.7 922.5l3.2 -6.1h-6.5zM1434.1 922.3l3.2 -6.1h-6.5zM1438.5 921.9l3.2 -6.1h-6.5z" fill="#91619a"/><path d="M1145 783L1149 782.8L1153 782.6L1157 782.5L1160.9 782.5L1164.9 782.5L1168.9 782.7L1172.9 783.2L1176.9 783.9L1180.9 784.7L1184.9 785.5L1188.9 786.5L1192.8 787.7L1196.8 788.9L1200.8 790.3L1204.8 791.7L1208.8 793.2L1212.8 794.8L1216.8 796.5L1220.7 798.3L1224.7 800.2L1228.7 802.3L1232.7 804.4L1236.7 806.7L1240.7 809.2L1244.7 811.9L1248.6 814.9L1252.6 818L1256.6 821.2L1260.6 824.2L1264.6 827.2L1268.6 830.3L1272.6 833.3L1276.6 836.2L1280.5 839.1L1284.5 841.9L1288.5 844.7L1292.5 847.4L1296.5 850.1L1300.5 852.8L1304.5 855.6L1308.4 858.3L1312.4 861.1L1316.4 863.8L1320.4 866.5L1324.4 869.2L1328.4 871.8L1332.4 874.4L1336.4 877L1340.3 879.7L1344.3 882.5L1348.3 885.3L1352.3 888.1L1356.3 891L1360.3 894L1364.3 897L1368.2 900.2L1372.2 903.5L1376.2 906.8L1380.2 910.2L1384.2 913.6L1388.2 917.1L1392.2 920.6L1396.1 924.1L1400.1 927.6L1404.1 931.1L1408.1 934.6L1412.1 938.1L1416.1 941.6L1420.1 945.1L1424.1 948.5L1428 952L1432 955.5L1436 959L1440 962.5" fill="none" stroke="#353535" stroke-width="1.45"/><path d="M1133.8 957.5L1137.9 957.1L1142 956.4L1146.2 955.3L1150.3 954.1L1154.4 952.7L1158.6 951L1162.7 948.8L1166.9 946.1L1171 943.1L1175.1 939.9L1179.3 936.3L1183.4 932.2L1187.6 927.8L1191.7 923L1195.8 917.7L1200 912L1204.1 906.2L1208.2 900.4L1212.4 894.4L1216.5 888.4L1220.7 882.9L1224.8 877.8L1228.9 873L1233.1 868.3L1237.2 863.9L1241.4 859.5L1245.5 855.4L1249.6 851.6L1253.8 847.9L1257.9 844.3L1262 841.2L1266.2 838.9L1270.3 837L1274.5 835.4L1278.6 834.6L1282.7 834.5L1286.9 834.5L1291 834.5L1295.2 834.5L1299.3 834.6L1303.4 835.2L1307.6 835.9L1311.7 836.4L1315.8 836.9L1320 837.3L1324.1 837.5L1328.3 837.3L1332.4 836.6L1336.5 835.7L1340.7 834.6L1344.8 833.1L1349 831.6L1353.1 830.2L1357.2 828.9L1361.4 827.8L1365.5 826.8L1369.6 826L1373.8 825.5L1377.9 825.5L1382.1 825.8L1386.2 826.1L1390.3 826.8L1394.5 828.5L1398.6 830.6L1402.8 832.7L1406.9 835.1L1411 837.8L1415.2 840.7L1419.3 843.9L1423.4 847.4L1427.6 851.1L1431.7 855.1L1435.9 859.3L1440 863.7" fill="none" stroke="#353535" stroke-width="1.45"/><path d="M1133.8 798L1137.9 798.8L1142 799.6L1146.2 800.5L1150.3 801.5L1154.4 802.5L1158.6 803.6L1162.7 804.8L1166.9 806.1L1171 807.5L1175.1 808.9L1179.3 810.5L1183.4 812.1L1187.6 813.9L1191.7 815.8L1195.8 818.1L1200 820.5L1204.1 823L1208.2 825.4L1212.4 827.8L1216.5 830.1L1220.7 832.4L1224.8 834.9L1228.9 837.4L1233.1 840.1L1237.2 842.8L1241.4 845.5L1245.5 848.2L1249.6 851L1253.8 853.7L1257.9 856.5L1262 859.4L1266.2 862.3L1270.3 865.3L1274.5 868.3L1278.6 871.4L1282.7 874.6L1286.9 877.9L1291 881.3L1295.2 884.8L1299.3 888.2L1303.4 891.5L1307.6 894.9L1311.7 898.3L1315.8 901.6L1320 905L1324.1 908.4L1328.3 911.8L1332.4 915.3L1336.5 918.6L1340.7 921.8L1344.8 924.8L1349 927.8L1353.1 930.7L1357.2 933.3L1361.4 935.8L1365.5 938.1L1369.6 940.2L1373.8 942.2L1377.9 944.1L1382.1 945.9L1386.2 947.5L1390.3 949.1L1394.5 950.6L1398.6 952L1402.8 953.4L1406.9 954.7L1411 956L1415.2 957.3L1419.3 958.5L1423.4 959.8L1427.6 961.1L1431.7 962.4L1435.9 963.7L1440 965" fill="none" stroke="#353535" stroke-width="1.45"/><path d="M1133.8 938.8L1137.9 936.7L1142 934.4L1146.2 932L1150.3 929.5L1154.4 926.8L1158.6 924L1162.7 921.1L1166.9 918.1L1171 915L1175.1 911.9L1179.3 908.6L1183.4 905.1L1187.6 901.6L1191.7 897.9L1195.8 894.3L1200 890.5L1204.1 886.7L1208.2 882.9L1212.4 879L1216.5 875.1L1220.7 871.3L1224.8 867.7L1228.9 864.4L1233.1 861.2L1237.2 858.2L1241.4 855.3L1245.5 852.4L1249.6 849.6L1253.8 847L1257.9 844.6L1262 842.3L1266.2 840.3L1270.3 838.6L1274.5 837.3L1278.6 836.1L1282.7 835.2L1286.9 834.9L1291 834.7L1295.2 834.6L1299.3 834.5L1303.4 834.6L1307.6 835.1L1311.7 835.7L1315.8 836.4L1320 837.6L1324.1 839.1L1328.3 841L1332.4 843.4L1336.5 846L1340.7 848.9L1344.8 851.9L1349 854.9L1353.1 858L1357.2 861.3L1361.4 864.8L1365.5 868.4L1369.6 872.2L1373.8 875.9L1377.9 879.6L1382.1 883.2L1386.2 886.3L1390.3 889.1L1394.5 891.3L1398.6 893L1402.8 894.3L1406.9 894.5L1411 894.5L1415.2 894.5L1419.3 893.8L1423.4 892.5L1427.6 891.2L1431.7 889.7L1435.9 888.1L1440 886.2" fill="none" stroke="#353535" stroke-width="1.45"/><path d="M1140 812.5L1144.1 813.2L1148.1 813.9L1152.2 814.6L1156.2 815.5L1160.3 816.3L1164.3 817.2L1168.4 818.2L1172.4 819.2L1176.5 820.3L1180.5 821.4L1184.6 822.6L1188.6 823.9L1192.7 825.3L1196.8 826.8L1200.8 828.3L1204.9 830L1208.9 831.8L1213 833.7L1217 835.6L1221.1 837.5L1225.1 839.5L1229.2 841.4L1233.2 843.5L1237.3 845.6L1241.4 847.7L1245.4 850L1249.5 852.3L1253.5 854.7L1257.6 857.2L1261.6 859.8L1265.7 862.5L1269.7 865.4L1273.8 868.4L1277.8 871.4L1281.9 874.4L1285.9 877.6L1290 880.9L1294.1 884.2L1298.1 887.5L1302.2 890.7L1306.2 894L1310.3 897.3L1314.3 900.5L1318.4 903.7L1322.4 906.9L1326.5 910L1330.5 913L1334.6 916.1L1338.6 919L1342.7 922L1346.8 924.9L1350.8 927.8L1354.9 930.6L1358.9 933.1L1363 935.4L1367 937.6L1371.1 939.7L1375.1 941.6L1379.2 943.4L1383.2 945.1L1387.3 946.7L1391.4 948.2L1395.4 949.7L1399.5 951.1L1403.5 952.4L1407.6 953.7L1411.6 954.9L1415.7 956.2L1419.7 957.4L1423.8 958.7L1427.8 959.9L1431.9 961.2L1435.9 962.5L1440 963.8" fill="none" stroke="#353535" stroke-width="1.45"/><path d="M1133.8 947.5L1137.9 945.5L1142 943.3L1146.2 941.1L1150.3 938.8L1154.4 936.4L1158.6 933.8L1162.7 931.2L1166.9 928.4L1171 925.6L1175.1 922.6L1179.3 919.6L1183.4 916.4L1187.6 913.2L1191.7 909.9L1195.8 906.4L1200 902.9L1204.1 899.3L1208.2 895.6L1212.4 891.8L1216.5 887.9L1220.7 884L1224.8 880.2L1228.9 876.3L1233.1 872.5L1237.2 868.7L1241.4 865.1L1245.5 861.5L1249.6 858.1L1253.8 854.7L1257.9 851.4L1262 848.2L1266.2 845.1L1270.3 842.3L1274.5 839.8L1278.6 837.4L1282.7 835.4L1286.9 833.8L1291 832.3L1295.2 831.1L1299.3 830.5L1303.4 830.6L1307.6 830.9L1311.7 831.4L1315.8 832.2L1320 834.6L1324.1 838.1L1328.3 841.5L1332.4 845.4L1336.5 848.6L1340.7 851.2L1344.8 853.6L1349 856.2L1353.1 858.7L1357.2 861.6L1361.4 864.6L1365.5 867.9L1369.6 871.5L1373.8 875.2L1377.9 879L1382.1 882.8L1386.2 885.8L1390.3 888.2L1394.5 889.9L1398.6 890.7L1402.8 891.2L1406.9 891.2L1411 890.7L1415.2 890L1419.3 889.1L1423.4 887.9L1427.6 886.8L1431.7 885.6L1435.9 884.3L1440 883" fill="none" stroke="#353535" stroke-width="1.45"/><path d="M1133.8 837L1137.9 837.3L1142 837.7L1146.2 838L1150.3 838.4L1154.4 838.7L1158.6 839L1162.7 839.3L1166.9 839.7L1171 840L1175.1 840.3L1179.3 840.6L1183.4 841L1187.6 841.3L1191.7 841.6L1195.8 842L1200 842.5L1204.1 843.1L1208.2 843.8L1212.4 844.6L1216.5 845.5L1220.7 846.4L1224.8 847.5L1228.9 848.7L1233.1 850L1237.2 851.5L1241.4 853L1245.5 854.8L1249.6 856.8L1253.8 858.9L1257.9 861.3L1262 863.8L1266.2 866.7L1270.3 869.8L1274.5 873.1L1278.6 876.4L1282.7 879.6L1286.9 882.9L1291 886.2L1295.2 889.6L1299.3 893.1L1303.4 896.8L1307.6 900.6L1311.7 904.6L1315.8 908.6L1320 912.5L1324.1 916.4L1328.3 920.5L1332.4 924.4L1336.5 928.3L1340.7 931.8L1344.8 935.2L1349 938.4L1353.1 941.5L1357.2 944.4L1361.4 947.1L1365.5 949.8L1369.6 952.3L1373.8 954.6L1377.9 956.6L1382.1 958.3L1386.2 959.8L1390.3 961.1L1394.5 962.3L1398.6 963.4L1402.8 964.4L1406.9 965.3L1411 966.2L1415.2 967L1419.3 967.9L1423.4 968.7L1427.6 969.5L1431.7 970.4L1435.9 971.2L1440 972" fill="none" stroke="#353535" stroke-width="1.45"/><path d="M1133.8 958L1137.9 957.3L1142 956.5L1146.2 955.5L1150.3 954.4L1154.4 953.2L1158.6 951.7L1162.7 950.3L1166.9 948.7L1171 947.1L1175.1 945.3L1179.3 943.4L1183.4 941.3L1187.6 939L1191.7 936.4L1195.8 933.3L1200 930L1204.1 926.6L1208.2 922.9L1212.4 919L1216.5 914.9L1220.7 910.5L1224.8 906L1228.9 901.3L1233.1 896.3L1237.2 891.1L1241.4 885.8L1245.5 880.4L1249.6 875L1253.8 869.7L1257.9 864.6L1262 859.5L1266.2 854.5L1270.3 849.6L1274.5 844.8L1278.6 840.2L1282.7 836L1286.9 832.2L1291 829.4L1295.2 827.1L1299.3 825.6L1303.4 825L1307.6 824.6L1311.7 824.6L1315.8 825.2L1320 826.2L1324.1 827.6L1328.3 829.6L1332.4 832L1336.5 835.1L1340.7 838.6L1344.8 842.5L1349 846.9L1353.1 851.5L1357.2 856.5L1361.4 861.8L1365.5 867.4L1369.6 873.3L1373.8 879.2L1377.9 885.1L1382.1 890.9L1386.2 896.5L1390.3 901.6L1394.5 906.3L1398.6 910.2L1402.8 913L1406.9 915.2L1411 916.5L1415.2 917.3L1419.3 917.9L1423.4 918.4L1427.6 918.7L1431.7 918.7L1435.9 918.5L1440 918" fill="none" stroke="#353535" stroke-width="1.45"/><rect x="1132" y="753.75" width="308" height="231.25" fill="none" stroke="#111" stroke-width="2"/><text x="1133" y="1013.5" font-size="20.5" text-anchor="middle">10<tspan dx="0" dy="-8.61" font-size="11.48">−2</tspan></text><text x="1177" y="1013.5" font-size="20.5" text-anchor="middle">10<tspan dx="0" dy="-8.61" font-size="11.48">−1</tspan></text><text x="1217.5" y="1013.5" font-size="20.5" text-anchor="middle">10<tspan dx="0" dy="-8.61" font-size="11.48">0</tspan></text><text x="1261.5" y="1013.5" font-size="20.5" text-anchor="middle">10<tspan dx="0" dy="-8.61" font-size="11.48">1</tspan></text><text x="1305.5" y="1013.5" font-size="20.5" text-anchor="middle">10<tspan dx="0" dy="-8.61" font-size="11.48">2</tspan></text><text x="1349.5" y="1013.5" font-size="20.5" text-anchor="middle">10<tspan dx="0" dy="-8.61" font-size="11.48">3</tspan></text><text x="1393.5" y="1013.5" font-size="20.5" text-anchor="middle">10<tspan dx="0" dy="-8.61" font-size="11.48">4</tspan></text><text x="1437.5" y="1013.5" font-size="20.5" text-anchor="middle">10<tspan dx="0" dy="-8.61" font-size="11.48">5</tspan></text><text x="1122.9" y="802.2" font-size="20.5" text-anchor="end">10<tspan dx="0" dy="-8.61" font-size="11.48">5</tspan></text><text x="1122.9" y="858.1" font-size="20.5" text-anchor="end">10<tspan dx="0" dy="-8.61" font-size="11.48">4</tspan></text><text x="1122.9" y="913.5" font-size="20.5" text-anchor="end">10<tspan dx="0" dy="-8.61" font-size="11.48">3</tspan></text><text x="1122.9" y="968.7" font-size="20.5" text-anchor="end">10<tspan dx="0" dy="-8.61" font-size="11.48">2</tspan></text><text x="1450.4" y="785" font-size="20.5" text-anchor="start" >80</text><text x="1450.4" y="831.1" font-size="20.5" text-anchor="start" >60</text><text x="1450.4" y="877.9" font-size="20.5" text-anchor="start" >40</text><text x="1450.4" y="924.5" font-size="20.5" text-anchor="start" >20</text><text x="1450.4" y="970.7" font-size="20.5" text-anchor="start" >0</text><text x="1292" y="1043" font-size="22" text-anchor="middle" textLength="125.5" lengthAdjust="spacing">Frequency/Hz</text><text transform="translate(1083.2 871) rotate(-90)" font-size="22" text-anchor="middle" textLength="118" lengthAdjust="spacing">|<tspan font-style="italic">Z</tspan>|/(<tspan font-weight="bold">Ω</tspan> · cm<tspan dy="-8" font-size="13">−2</tspan><tspan dy="8">)</tspan></text><text transform="translate(1501.4 877.3) rotate(-90)" font-size="22" text-anchor="middle" textLength="157" lengthAdjust="spacing">−Phase angle/( ° )</text><path d="M1244.5 903.2h0" stroke="#c81a2d" stroke-width="5.49" stroke-linecap="square" fill="none"/><path d="M1244.5 919.5h0" stroke="#223f8e" stroke-width="6.05" stroke-linecap="round" fill="none"/><path d="M1244.5 933.1l3.8 7.2h-7.6z" fill="#7fae2e"/><path d="M1244.5 958.1l3.8 -7.2h-7.6z" fill="#91619a"/><text x="1270" y="907" font-size="22" text-anchor="start" style="stroke-width:.45px">1 h</text><text x="1270" y="924.5" font-size="22" text-anchor="start" style="stroke-width:.45px">24 h</text><text x="1270" y="942" font-size="22" text-anchor="start" style="stroke-width:.45px">96 h</text><text x="1270" y="958.75" font-size="22" text-anchor="start" style="stroke-width:.45px">168 h</text><text x="1270" y="976.25" font-size="22" text-anchor="start" style="stroke-width:.45px">Fitting</text><path d="M1159.5 850L1173 844.7L1169 850L1173 855.3Z" fill="#111"/><path d="M1406.25 807.5L1392.75 802.2L1396.75 807.5L1392.75 812.8Z" fill="#111"/></g><path d="M1145.2 982.4V985M1153 982.4V985M1158.5 982.4V985M1162.8 982.4V985M1166.2 982.4V985M1169.2 982.4V985M1171.7 982.4V985M1174 982.4V985M1189.2 982.4V985M1197 982.4V985M1202.5 982.4V985M1206.8 982.4V985M1210.2 982.4V985M1213.2 982.4V985M1215.7 982.4V985M1218 982.4V985M1233.2 982.4V985M1241 982.4V985M1246.5 982.4V985M1250.8 982.4V985M1254.2 982.4V985M1257.2 982.4V985M1259.7 982.4V985M1262 982.4V985M1277.2 982.4V985M1285 982.4V985M1290.5 982.4V985M1294.8 982.4V985M1298.2 982.4V985M1301.2 982.4V985M1303.7 982.4V985M1306 982.4V985M1321.2 982.4V985M1329 982.4V985M1334.5 982.4V985M1338.8 982.4V985M1342.2 982.4V985M1345.2 982.4V985M1347.7 982.4V985M1350 982.4V985M1365.2 982.4V985M1373 982.4V985M1378.5 982.4V985M1382.8 982.4V985M1386.2 982.4V985M1389.2 982.4V985M1391.7 982.4V985M1394 982.4V985M1409.2 982.4V985M1417 982.4V985M1422.5 982.4V985M1426.8 982.4V985M1430.2 982.4V985M1433.2 982.4V985M1435.7 982.4V985M1438 982.4V985M1132 787.9H1134.6M1132 779.8H1134.6M1132 774.1H1134.6M1132 769.7H1134.6M1132 766.1H1134.6M1132 763H1134.6M1132 760.3H1134.6M1132 758H1134.6M1132 833.7H1134.6M1132 825.6H1134.6M1132 819.9H1134.6M1132 815.5H1134.6M1132 811.9H1134.6M1132 808.8H1134.6M1132 806.1H1134.6M1132 803.8H1134.6M1132 879.5H1134.6M1132 871.4H1134.6M1132 865.7H1134.6M1132 861.3H1134.6M1132 857.7H1134.6M1132 854.6H1134.6M1132 851.9H1134.6M1132 849.6H1134.6M1132 925.3H1134.6M1132 917.2H1134.6M1132 911.5H1134.6M1132 907.1H1134.6M1132 903.5H1134.6M1132 900.4H1134.6M1132 897.7H1134.6M1132 895.4H1134.6M1132 971.1H1134.6M1132 963H1134.6M1132 957.3H1134.6M1132 952.9H1134.6M1132 949.3H1134.6M1132 946.2H1134.6M1132 943.5H1134.6M1132 941.2H1134.6" stroke="#111" stroke-width="1.2" fill="none"/><path d="M1176 979.5V985M1220 979.5V985M1264 979.5V985M1308 979.5V985M1352 979.5V985M1396 979.5V985M1132 755.9H1137.5M1132 801.7H1137.5M1132 847.5H1137.5M1132 893.3H1137.5M1132 939.1H1137.5M1434.5 776.8H1440M1434.5 823.5H1440M1434.5 870.2H1440M1434.5 916.7H1440M1434.5 963.2H1440" stroke="#111" stroke-width="2" fill="none"/><path d="M1228.8 970.5H1259.5" stroke="#353535" stroke-width="1.5" fill="none"/><path d="M1193 850H1165.5M1372.5 807.5H1400.2" stroke="#111" stroke-width="1.7" fill="none"/>
<g><path d="M477 1329.5h0M477.8 1327.3h0M478.7 1325.1h0M479.7 1322.9h0M480.7 1320.7h0M481.7 1318.5h0M482.8 1316.4h0M483.9 1314.3h0M484.9 1312.1h0M486 1310h0M487.1 1307.9h0M488.4 1305.9h0M489.7 1303.9h0M491 1301.9h0M492.3 1299.9h0M493.8 1298h0M498.2 1292h0M504.2 1285h0M511.2 1277h0M520 1269.5h0M531.8 1261.8h0M544.2 1253.2h0M560 1248.2h0M585 1246.2h0M595.8 1237.5h0M614.2 1237.2h0M634.5 1241.2h0M652 1238.2h0M672 1246.2h0M685 1252.5h0M698.8 1257h0M708.2 1266.2h0M709.5 1287.5h0M714.5 1286.8h0M708.2 1293.5h0M724.2 1293.5h0" stroke="#c81a2d" stroke-width="4.9" stroke-linecap="square" fill="none"/><path d="M478 1327.5h0M478.9 1325.6h0M480 1323.7h0M481.2 1322h0M482.6 1320.3h0M484 1318.7h0M485.5 1317.1h0M486.9 1315.5h0M488.4 1314h0M489.9 1312.4h0M491.4 1310.9h0M493.1 1309.5h0M494.7 1308.2h0M496.4 1306.9h0M498.2 1305.7h0M500 1304.5h0M507.5 1300.5h0M512.5 1297.5h0M518.8 1294.5h0M526.8 1289.5h0M536.8 1287.5h0M546.2 1286.2h0M556.8 1285.8h0M564.2 1288.8h0M570.5 1289.2h0M580 1293h0M585 1301.2h0M588.2 1300.8h0M595 1311h0" stroke="#223f8e" stroke-width="5.4" stroke-linecap="round" fill="none"/><path d="M477.5 1325.4l2.9 5.5h-5.8zM478.3 1323.8l2.9 5.5h-5.8zM479.2 1322.2l2.9 5.5h-5.8zM480.2 1320.7l2.9 5.5h-5.8zM481.2 1319.2l2.9 5.5h-5.8zM482.4 1317.9l2.9 5.5h-5.8zM483.7 1316.6l2.9 5.5h-5.8zM485 1315.4l2.9 5.5h-5.8zM486.4 1314.2l2.9 5.5h-5.8zM487.8 1313l2.9 5.5h-5.8zM489.3 1311.9l2.9 5.5h-5.8zM490.8 1310.9l2.9 5.5h-5.8zM492.3 1310l2.9 5.5h-5.8zM493.9 1309.3l2.9 5.5h-5.8zM495.6 1308.6l2.9 5.5h-5.8zM497.3 1307.9l2.9 5.5h-5.8zM499.1 1307.3l2.9 5.5h-5.8zM500.8 1306.9l2.9 5.5h-5.8zM502.6 1306.7l2.9 5.5h-5.8zM504.4 1306.5l2.9 5.5h-5.8zM506.2 1306.4l2.9 5.5h-5.8zM508 1306.3l2.9 5.5h-5.8zM509.8 1306.2l2.9 5.5h-5.8zM511.6 1306.2l2.9 5.5h-5.8zM513.4 1306.2l2.9 5.5h-5.8zM515.2 1306.3l2.9 5.5h-5.8zM517 1306.5l2.9 5.5h-5.8zM518.8 1306.8l2.9 5.5h-5.8zM520.6 1307.1l2.9 5.5h-5.8zM522.4 1307.4l2.9 5.5h-5.8zM524.2 1307.8l2.9 5.5h-5.8zM525.9 1308.2l2.9 5.5h-5.8zM527.6 1308.7l2.9 5.5h-5.8zM529.4 1309.3l2.9 5.5h-5.8zM531.1 1309.9l2.9 5.5h-5.8zM532.8 1310.5l2.9 5.5h-5.8zM534.5 1311.2l2.9 5.5h-5.8zM536.2 1311.8l2.9 5.5h-5.8zM537.8 1312.6l2.9 5.5h-5.8zM539.4 1313.4l2.9 5.5h-5.8zM541 1314.2l2.9 5.5h-5.8zM542.6 1315.2l2.9 5.5h-5.8zM544.1 1316.2l2.9 5.5h-5.8zM545.5 1317.3l2.9 5.5h-5.8zM546.8 1318.5l2.9 5.5h-5.8zM548 1319.8l2.9 5.5h-5.8zM549 1321.3l2.9 5.5h-5.8zM550 1322.9l2.9 5.5h-5.8zM545 1326.2l2.9 5.5h-5.8zM548 1326.2l2.9 5.5h-5.8z" fill="#7fae2e"/><path d="M475.8 1335.1l2.7 -5.2h-5.4zM476.2 1334.2l2.7 -5.2h-5.4zM476.6 1333.2l2.7 -5.2h-5.4zM477.2 1332.4l2.7 -5.2h-5.4zM477.7 1331.6l2.7 -5.2h-5.4zM478.4 1330.7l2.7 -5.2h-5.4zM479.2 1330l2.7 -5.2h-5.4zM480 1329.4l2.7 -5.2h-5.4zM480.8 1328.9l2.7 -5.2h-5.4zM481.7 1328.5l2.7 -5.2h-5.4zM482.7 1328l2.7 -5.2h-5.4zM483.7 1327.6l2.7 -5.2h-5.4zM484.7 1327.3l2.7 -5.2h-5.4zM485.7 1327.1l2.7 -5.2h-5.4zM486.7 1326.9l2.7 -5.2h-5.4zM487.7 1326.9l2.7 -5.2h-5.4zM488.7 1326.9l2.7 -5.2h-5.4zM489.8 1326.9l2.7 -5.2h-5.4zM490.8 1327l2.7 -5.2h-5.4zM491.8 1327.1l2.7 -5.2h-5.4zM492.9 1327.2l2.7 -5.2h-5.4zM493.9 1327.3l2.7 -5.2h-5.4zM494.9 1327.4l2.7 -5.2h-5.4zM495.9 1327.5l2.7 -5.2h-5.4zM496.9 1327.7l2.7 -5.2h-5.4zM497.9 1327.9l2.7 -5.2h-5.4zM499 1328.2l2.7 -5.2h-5.4zM500 1328.5l2.7 -5.2h-5.4zM500.9 1328.8l2.7 -5.2h-5.4zM501.9 1329.1l2.7 -5.2h-5.4zM502.8 1329.5l2.7 -5.2h-5.4zM503.7 1329.9l2.7 -5.2h-5.4zM504.7 1330.4l2.7 -5.2h-5.4zM505.6 1331l2.7 -5.2h-5.4zM506.4 1331.6l2.7 -5.2h-5.4zM507.2 1332.3l2.7 -5.2h-5.4zM507.8 1333l2.7 -5.2h-5.4zM508.5 1333.8l2.7 -5.2h-5.4zM509 1334.7l2.7 -5.2h-5.4zM509.5 1335.6l2.7 -5.2h-5.4z" fill="#91619a"/><path d="M477.5 1327.5L480.7 1321.2L484.1 1315L487.6 1308.9L491.3 1302.9L495.1 1297L499.1 1291.2L503.4 1285.6L508.1 1280.4L513.1 1275.4L518.4 1270.7L523.9 1266.4L529.7 1262.4L535.8 1258.7L541.9 1255.3L548.3 1252.2L554.8 1249.4L561.4 1247L568.1 1244.9L574.9 1243L581.8 1241.7L588.8 1240.7L595.8 1239.8L602.8 1239.2L609.8 1239L616.9 1239.2L623.9 1239.8L631 1240.7L637.9 1241.7L644.8 1243L651.6 1244.9L658.2 1247.3L664.8 1249.9L671.2 1252.8L677.5 1256.1L683.5 1259.6L689.3 1263.7L694.9 1268L700.4 1272.4L705.6 1277.1L710.7 1282L715.7 1286.9L720.6 1292L725.4 1297.2L730 1302.5" fill="none" stroke="#353535" stroke-width="1.4"/><path d="M478 1327.5L479.6 1324.8L481.4 1322.2L483.3 1319.7L485.2 1317.4L487.3 1315.2L489.4 1313.1L491.6 1311.1L494 1309.3L496.6 1307.5L499.2 1305.9L501.9 1304.3L504.5 1302.8L507.2 1301.3L509.9 1299.8L512.6 1298.4L515.4 1297.1L518.2 1296L521.1 1294.9L523.9 1293.8L526.9 1292.9L529.8 1292.1L532.8 1291.3L535.8 1290.6L538.8 1290L541.8 1289.6L544.8 1289.3L547.9 1289L550.9 1288.9L554 1288.8L557 1288.8L560.1 1289L563.1 1289.4L566.2 1289.8L569.2 1290.2L572.2 1290.8L575.2 1291.4L578.2 1292.1L581.2 1292.8L584.1 1293.5L587.1 1294.3L590 1295.2L592.9 1296.1L595.8 1297L598.8 1298" fill="none" stroke="#353535" stroke-width="1.4"/><path d="M477.5 1328.8L478.4 1327L479.4 1325.4L480.5 1323.8L481.6 1322.3L482.9 1320.9L484.1 1319.6L485.4 1318.4L486.9 1317.2L488.4 1316L490 1315L491.7 1314.1L493.4 1313.4L495.1 1312.7L496.9 1312.1L498.7 1311.5L500.5 1311.1L502.4 1310.8L504.2 1310.5L506.1 1310.4L508 1310.2L509.8 1310.1L511.7 1310L513.6 1310L515.5 1310.2L517.3 1310.5L519.2 1310.8L521 1311.2L522.8 1311.6L524.6 1312L526.4 1312.6L528.2 1313.2L530 1313.9L531.7 1314.6L533.4 1315.4L535.1 1316.3L536.7 1317.2L538.3 1318.2L539.8 1319.3L541.2 1320.5L542.6 1321.7L543.9 1323.1L545.2 1324.5L546.4 1325.9L547.5 1327.5" fill="none" stroke="#353535" stroke-width="1.4"/><rect x="453" y="1113.75" width="308.25" height="231.25" fill="none" stroke="#111" stroke-width="2"/><text x="476.75" y="1369.5" font-size="20.5" text-anchor="middle" >0</text><text x="524.15" y="1369.5" font-size="20.5" text-anchor="middle" >1</text><text x="571.55" y="1369.5" font-size="20.5" text-anchor="middle" >2</text><text x="618.95" y="1369.5" font-size="20.5" text-anchor="middle" >3</text><text x="666.35" y="1369.5" font-size="20.5" text-anchor="middle" >4</text><text x="713.75" y="1369.5" font-size="20.5" text-anchor="middle" >5</text><text x="761.15" y="1369.5" font-size="20.5" text-anchor="middle" >6</text><text x="440.3" y="1342.55" font-size="20.5" text-anchor="end" >0</text><text x="440.3" y="1298.55" font-size="20.5" text-anchor="end" >1</text><text x="440.3" y="1254.55" font-size="20.5" text-anchor="end" >2</text><text x="440.3" y="1210.55" font-size="20.5" text-anchor="end" >3</text><text x="440.3" y="1166.55" font-size="20.5" text-anchor="end" >4</text><text x="440.3" y="1122.55" font-size="20.5" text-anchor="end" >5</text><text x="608" y="1398" font-size="22.5" text-anchor="middle" textLength="136.5" lengthAdjust="spacing"><tspan font-style="italic">Z</tspan>′/(10<tspan dy="-8" font-size="13.5">5</tspan><tspan dy="8"> </tspan><tspan font-weight="bold">Ω</tspan> · cm<tspan dy="-8" font-size="13.5">2</tspan><tspan dy="8">)</tspan></text><text transform="translate(414 1232.6) rotate(-90)" font-size="22.5" text-anchor="middle" textLength="157" lengthAdjust="spacing">−<tspan font-style="italic">Z</tspan>″/(10<tspan dy="-8" font-size="13.5">5</tspan><tspan dy="8"> </tspan><tspan font-weight="bold">Ω</tspan> · cm<tspan dy="-8" font-size="13.5">2</tspan><tspan dy="8">)</tspan></text><path d="M684.2 1130h0" stroke="#c81a2d" stroke-width="5.98" stroke-linecap="square" fill="none"/><path d="M684.2 1147.5h0" stroke="#223f8e" stroke-width="6.59" stroke-linecap="round" fill="none"/><path d="M684.2 1160.2l4.1 7.9h-8.3z" fill="#7fae2e"/><path d="M684.2 1185.3l4.1 -7.9h-8.3z" fill="#91619a"/><text x="709.5" y="1135" font-size="16.5" text-anchor="start" style="stroke-width:.65px">1 h</text><text x="709.5" y="1152.5" font-size="16.5" text-anchor="start" style="stroke-width:.65px">24 h</text><text x="709.5" y="1169.5" font-size="16.5" text-anchor="start" style="stroke-width:.65px">96 h</text><text x="709.5" y="1187" font-size="16.5" text-anchor="start" style="stroke-width:.65px">168 h</text><text x="709.5" y="1204.25" font-size="16.5" text-anchor="start" style="stroke-width:.65px">Fitting</text></g><path d="M476.8 1340V1345M524.1 1340V1345M571.5 1340V1345M619 1340V1345M666.4 1340V1345M713.8 1340V1345M453 1333.8H458M453 1289.8H458M453 1245.8H458M453 1201.8H458M453 1157.8H458" stroke="#111" stroke-width="1.7" fill="none"/><path d="M668.8 1198.2H698.8" stroke="#353535" stroke-width="1.5" fill="none"/>
<g><path d="M925 1143h0M929.4 1142.4h0M933.8 1142.1h0M938.2 1142h0M942.6 1142h0M946.9 1142.3h0M951.3 1143.2h0M955.7 1144.3h0M960.1 1145.5h0M964.5 1146.8h0M968.9 1148.3h0M973.3 1150.1h0M977.7 1152.1h0M982.1 1154.5h0M986.5 1157.4h0M990.8 1160.6h0M995.2 1163.9h0M999.6 1167.4h0M1004 1171.1h0M1008.4 1174.9h0M1012.8 1178.6h0M1017.2 1182.2h0M1021.6 1185.9h0M1026 1189.6h0M1030.4 1193.2h0M1034.7 1196.9h0M1039.1 1200.6h0M1043.5 1204.1h0M1047.9 1207.6h0M1052.3 1211h0M1056.7 1214.3h0M1061.1 1217.6h0M1065.5 1220.8h0M1069.9 1223.7h0M1074.3 1226.1h0M1078.6 1228.3h0M1083 1230.4h0M1087.4 1232.3h0M1091.8 1234.1h0M1096.2 1235.8h0M1100.6 1237.8h0M1105 1240.1h0M1109.4 1242.7h0M1113.8 1245.4h0M1118.2 1248.4h0M1122.5 1251.7h0M1126.9 1255.1h0M1131.3 1258.6h0M1135.7 1262.1h0M1140.1 1265.8h0M1144.5 1269.6h0M1148.9 1273.5h0M1153.3 1277.5h0M1157.7 1281.6h0M1162.1 1285.6h0M1166.4 1289.5h0M1170.8 1293.5h0M1175.2 1297.7h0M1179.6 1302.2h0M1184 1307h0M1188.4 1311.9h0" stroke="#c81a2d" stroke-width="4.66" stroke-linecap="square" fill="none"/><path d="M925 1297.5h0M931.2 1295h0M938.8 1293.8h0M947.5 1280h0M955 1263.8h0M961.2 1252.5h0M968.8 1237.5h0M975 1228h0M977.7 1223.2h0M982.1 1214.6h0M986.5 1204.8h0M990.8 1196.1h0M995.2 1190.2h0M999.6 1185.1h0M1004 1180.8h0M1008.4 1177.7h0M1012.8 1175.4h0M1017.2 1173.7h0M1021.6 1172.4h0M1026 1172h0M1030.4 1172h0M1034.7 1172h0M1039.1 1172.6h0M1043.5 1174.2h0M1047.9 1177.6h0M1052.3 1181.7h0M1056.7 1186.5h0M1061.1 1192.7h0M1065.5 1199.4h0M1069.9 1205.5h0M1074.3 1210.7h0M1078.6 1215.2h0M1083 1218.6h0M1087.4 1220.5h0M1091.8 1220.5h0M1096.2 1220.2h0M1100.6 1215.8h0M1105 1211.4h0M1109.4 1206.7h0M1113.8 1199.7h0M1118.2 1191.2h0M1122.5 1182.4h0M1126.9 1175.5h0M1131.3 1169.4h0M1135.7 1163.8h0M1140.1 1158.6h0M1144.5 1153.9h0M1148.9 1149.5h0M1153.3 1145.6h0M1157.7 1142.2h0M1162.1 1139.2h0M1166.4 1136.8h0M1170.8 1134.8h0M1175.2 1133.2h0M1179.6 1131.9h0M1184 1130.9h0M1188.4 1130.2h0" stroke="#c81a2d" stroke-width="4.66" stroke-linecap="square" fill="none"/><path d="M911.2 1157.5h0M915.6 1157.7h0M920 1158.2h0M924.4 1158.7h0M928.8 1159.3h0M933.2 1160.2h0M937.6 1161.3h0M942 1162.6h0M946.4 1164.2h0M950.8 1166.1h0M955.1 1168.1h0M959.5 1170.3h0M963.9 1172.7h0M968.3 1175.2h0M972.7 1177.9h0M977.1 1180.9h0M981.5 1183.9h0M985.9 1186.8h0M990.3 1189.8h0M994.7 1192.7h0M999 1195.6h0M1003.4 1198.4h0M1007.8 1201.1h0M1012.2 1203.8h0M1016.6 1206.5h0M1021 1209.3h0M1025.4 1212h0M1029.8 1214.9h0M1034.2 1217.7h0M1038.6 1220.7h0M1042.9 1223.6h0M1047.3 1226.6h0M1051.7 1229.6h0M1056.1 1232.5h0M1060.5 1235.3h0M1064.9 1237.9h0M1069.3 1240.5h0M1073.7 1243h0M1078.1 1245.6h0M1082.5 1248.2h0M1086.8 1250.8h0M1091.2 1253.2h0M1095.6 1255.3h0M1100 1257.5h0M1104.4 1259.7h0M1108.8 1262.1h0M1113.2 1264.6h0M1117.6 1267.3h0M1122 1270h0M1126.4 1272.8h0M1130.7 1275.8h0M1135.1 1278.8h0M1139.5 1282h0M1143.9 1285.3h0M1148.3 1288.7h0M1152.7 1292.1h0M1157.1 1295.6h0M1161.5 1299.2h0M1165.9 1302.7h0M1170.3 1306.2h0M1174.6 1309.6h0M1179 1313h0M1183.4 1316.4h0M1187.8 1319.6h0" stroke="#223f8e" stroke-width="5.13" stroke-linecap="round" fill="none"/><path d="M911.2 1296.2h0M915 1282.5h0M920 1282.5h0M925 1270h0M928.8 1264.1h0M933.2 1258.6h0M937.6 1251.9h0M942 1244h0M946.4 1236.6h0M950.8 1230.1h0M955.1 1223.5h0M959.5 1217.5h0M963.9 1213.7h0M968.3 1210.7h0M972.7 1207.6h0M977.1 1205.2h0M981.5 1203.3h0M985.9 1202.1h0M990.3 1201.2h0M994.7 1200.5h0M999 1200h0M1003.4 1200.1h0M1007.8 1200.3h0M1012.2 1200.8h0M1016.6 1201.6h0M1021 1202.8h0M1025.4 1204.3h0M1029.8 1206.2h0M1034.2 1208.2h0M1038.6 1210.5h0M1042.9 1212.9h0M1047.3 1215.4h0M1051.7 1218h0M1056.1 1220.8h0M1060.5 1223.3h0M1064.9 1225.4h0M1069.3 1227.3h0M1073.7 1228.7h0M1078.1 1229.9h0M1082.5 1229.8h0M1086.8 1228.6h0M1091.2 1226.9h0M1095.6 1223.8h0M1100 1220h0M1104.4 1215.8h0M1108.8 1211.2h0M1113.2 1206.9h0M1117.6 1202.5h0M1122 1197.8h0M1126.4 1192.7h0M1130.7 1188h0M1135.1 1183.9h0M1139.5 1180.3h0M1143.9 1177.5h0M1148.3 1175.2h0M1152.7 1173.6h0M1157.1 1172.3h0M1161.5 1172h0M1165.9 1172h0M1170.3 1172h0M1174.6 1172.5h0M1179 1173.5h0M1183.4 1175h0M1187.8 1177.4h0" stroke="#223f8e" stroke-width="5.13" stroke-linecap="round" fill="none"/><path d="M892.5 1164.3l3.2 6.1h-6.5zM896.9 1164.3l3.2 6.1h-6.5zM901.3 1164.3l3.2 6.1h-6.5zM905.7 1164.3l3.2 6.1h-6.5zM910.1 1164.3l3.2 6.1h-6.5zM914.4 1164.3l3.2 6.1h-6.5zM918.8 1164.7l3.2 6.1h-6.5zM923.2 1165.2l3.2 6.1h-6.5zM927.6 1166l3.2 6.1h-6.5zM932 1166.7l3.2 6.1h-6.5zM936.4 1167.5l3.2 6.1h-6.5zM940.8 1168.4l3.2 6.1h-6.5zM945.2 1169.4l3.2 6.1h-6.5zM949.6 1170.5l3.2 6.1h-6.5zM954 1171.7l3.2 6.1h-6.5zM958.3 1173.1l3.2 6.1h-6.5zM962.7 1174.6l3.2 6.1h-6.5zM967.1 1176.3l3.2 6.1h-6.5zM971.5 1178.2l3.2 6.1h-6.5zM975.9 1180.3l3.2 6.1h-6.5zM980.3 1182.7l3.2 6.1h-6.5zM984.7 1185.1l3.2 6.1h-6.5zM989.1 1187.7l3.2 6.1h-6.5zM993.5 1190.5l3.2 6.1h-6.5zM997.9 1193.5l3.2 6.1h-6.5zM1002.2 1196.4l3.2 6.1h-6.5zM1006.6 1199.4l3.2 6.1h-6.5zM1011 1202.3l3.2 6.1h-6.5zM1015.4 1205.3l3.2 6.1h-6.5zM1019.8 1208.3l3.2 6.1h-6.5zM1024.2 1211.1l3.2 6.1h-6.5zM1028.6 1214l3.2 6.1h-6.5zM1033 1216.8l3.2 6.1h-6.5zM1037.4 1219.6l3.2 6.1h-6.5zM1041.8 1222.4l3.2 6.1h-6.5zM1046.1 1225.2l3.2 6.1h-6.5zM1050.5 1228.1l3.2 6.1h-6.5zM1054.9 1230.9l3.2 6.1h-6.5zM1059.3 1233.7l3.2 6.1h-6.5zM1063.7 1236.5l3.2 6.1h-6.5zM1068.1 1239.3l3.2 6.1h-6.5zM1072.5 1242.2l3.2 6.1h-6.5zM1076.9 1245l3.2 6.1h-6.5zM1081.3 1247.8l3.2 6.1h-6.5zM1085.7 1250.6l3.2 6.1h-6.5zM1090 1253.4l3.2 6.1h-6.5zM1094.4 1256.4l3.2 6.1h-6.5zM1098.8 1259.4l3.2 6.1h-6.5zM1103.2 1262.5l3.2 6.1h-6.5zM1107.6 1265.8l3.2 6.1h-6.5zM1112 1269l3.2 6.1h-6.5zM1116.4 1272.5l3.2 6.1h-6.5zM1120.8 1275.9l3.2 6.1h-6.5zM1125.2 1279.4l3.2 6.1h-6.5zM1129.6 1282.9l3.2 6.1h-6.5zM1133.9 1286.4l3.2 6.1h-6.5zM1138.3 1289.9l3.2 6.1h-6.5zM1142.7 1293.3l3.2 6.1h-6.5zM1147.1 1296.6l3.2 6.1h-6.5zM1151.5 1299.8l3.2 6.1h-6.5zM1155.9 1302.9l3.2 6.1h-6.5zM1160.3 1306l3.2 6.1h-6.5zM1164.7 1309.1l3.2 6.1h-6.5zM1169.1 1312.2l3.2 6.1h-6.5zM1173.5 1315.2l3.2 6.1h-6.5zM1177.8 1317.7l3.2 6.1h-6.5zM1182.2 1319.7l3.2 6.1h-6.5zM1186.6 1321.5l3.2 6.1h-6.5z" fill="#7fae2e"/><path d="M892.5 1314.3l3.2 6.1h-6.5zM900 1315.8l3.2 6.1h-6.5zM907.5 1311.3l3.2 6.1h-6.5zM915 1295l3.2 6.1h-6.5zM918.8 1292.7l3.2 6.1h-6.5zM923.2 1290.9l3.2 6.1h-6.5zM927.6 1288.6l3.2 6.1h-6.5zM932 1286.1l3.2 6.1h-6.5zM936.4 1283.1l3.2 6.1h-6.5zM940.8 1279.3l3.2 6.1h-6.5zM945.2 1274.2l3.2 6.1h-6.5zM949.6 1268.6l3.2 6.1h-6.5zM954 1262.7l3.2 6.1h-6.5zM958.3 1256.8l3.2 6.1h-6.5zM962.7 1251l3.2 6.1h-6.5zM967.1 1245.2l3.2 6.1h-6.5zM971.5 1239.1l3.2 6.1h-6.5zM975.9 1232.4l3.2 6.1h-6.5zM980.3 1226.2l3.2 6.1h-6.5zM984.7 1220.4l3.2 6.1h-6.5zM989.1 1215.1l3.2 6.1h-6.5zM993.5 1210.2l3.2 6.1h-6.5zM997.9 1205.6l3.2 6.1h-6.5zM1002.2 1202.1l3.2 6.1h-6.5zM1006.6 1199.3l3.2 6.1h-6.5zM1011 1197.1l3.2 6.1h-6.5zM1015.4 1195.3l3.2 6.1h-6.5zM1019.8 1193.8l3.2 6.1h-6.5zM1024.2 1192.5l3.2 6.1h-6.5zM1028.6 1191.5l3.2 6.1h-6.5zM1033 1191.1l3.2 6.1h-6.5zM1037.4 1190.8l3.2 6.1h-6.5zM1041.8 1190.8l3.2 6.1h-6.5zM1046.1 1191l3.2 6.1h-6.5zM1050.5 1191.3l3.2 6.1h-6.5zM1054.9 1191.9l3.2 6.1h-6.5zM1059.3 1192.5l3.2 6.1h-6.5zM1063.7 1192.9l3.2 6.1h-6.5zM1068.1 1193.2l3.2 6.1h-6.5zM1072.5 1193.3l3.2 6.1h-6.5zM1076.9 1193.3l3.2 6.1h-6.5zM1081.3 1193.2l3.2 6.1h-6.5zM1085.7 1192.7l3.2 6.1h-6.5zM1090 1191.8l3.2 6.1h-6.5zM1094.4 1190.6l3.2 6.1h-6.5zM1098.8 1189.1l3.2 6.1h-6.5zM1103.2 1187.8l3.2 6.1h-6.5zM1107.6 1186.5l3.2 6.1h-6.5zM1112 1185.2l3.2 6.1h-6.5zM1116.4 1183.8l3.2 6.1h-6.5zM1120.8 1183.3l3.2 6.1h-6.5zM1125.2 1183.5l3.2 6.1h-6.5zM1129.6 1184.5l3.2 6.1h-6.5zM1133.9 1187.8l3.2 6.1h-6.5zM1138.3 1190.7l3.2 6.1h-6.5zM1142.7 1192.7l3.2 6.1h-6.5zM1147.1 1194.8l3.2 6.1h-6.5zM1151.5 1197.7l3.2 6.1h-6.5zM1155.9 1201.2l3.2 6.1h-6.5zM1160.3 1205.2l3.2 6.1h-6.5zM1164.7 1209.7l3.2 6.1h-6.5zM1169.1 1214l3.2 6.1h-6.5zM1173.5 1218.6l3.2 6.1h-6.5zM1177.8 1223.4l3.2 6.1h-6.5zM1182.2 1229.8l3.2 6.1h-6.5zM1186.6 1238.4l3.2 6.1h-6.5z" fill="#7fae2e"/><path d="M888.8 1190l3.2 -6.1h-6.5zM893.1 1190l3.2 -6.1h-6.5zM897.5 1190l3.2 -6.1h-6.5zM901.9 1190l3.2 -6.1h-6.5zM906.3 1190l3.2 -6.1h-6.5zM910.7 1190l3.2 -6.1h-6.5zM915.1 1190.2l3.2 -6.1h-6.5zM919.5 1190.7l3.2 -6.1h-6.5zM923.9 1191.4l3.2 -6.1h-6.5zM928.3 1192.2l3.2 -6.1h-6.5zM932.6 1192.9l3.2 -6.1h-6.5zM937 1193.7l3.2 -6.1h-6.5zM941.4 1194.7l3.2 -6.1h-6.5zM945.8 1195.7l3.2 -6.1h-6.5zM950.2 1196.8l3.2 -6.1h-6.5zM954.6 1198l3.2 -6.1h-6.5zM959 1199.3l3.2 -6.1h-6.5zM963.4 1200.8l3.2 -6.1h-6.5zM967.8 1202.4l3.2 -6.1h-6.5zM972.2 1204.1l3.2 -6.1h-6.5zM976.5 1205.9l3.2 -6.1h-6.5zM980.9 1208l3.2 -6.1h-6.5zM985.3 1210.1l3.2 -6.1h-6.5zM989.7 1212.3l3.2 -6.1h-6.5zM994.1 1214.6l3.2 -6.1h-6.5zM998.5 1217.1l3.2 -6.1h-6.5zM1002.9 1219.6l3.2 -6.1h-6.5zM1007.3 1222.2l3.2 -6.1h-6.5zM1011.7 1224.7l3.2 -6.1h-6.5zM1016.1 1227.1l3.2 -6.1h-6.5zM1020.4 1229.6l3.2 -6.1h-6.5zM1024.8 1232.1l3.2 -6.1h-6.5zM1029.2 1234.5l3.2 -6.1h-6.5zM1033.6 1237l3.2 -6.1h-6.5zM1038 1239.5l3.2 -6.1h-6.5zM1042.4 1241.9l3.2 -6.1h-6.5zM1046.8 1244.4l3.2 -6.1h-6.5zM1051.2 1246.9l3.2 -6.1h-6.5zM1055.6 1249.3l3.2 -6.1h-6.5zM1060 1251.7l3.2 -6.1h-6.5zM1064.3 1254.2l3.2 -6.1h-6.5zM1068.7 1256.7l3.2 -6.1h-6.5zM1073.1 1259.3l3.2 -6.1h-6.5zM1077.5 1262l3.2 -6.1h-6.5zM1081.9 1264.8l3.2 -6.1h-6.5zM1086.3 1267.6l3.2 -6.1h-6.5zM1090.7 1270.4l3.2 -6.1h-6.5zM1095.1 1273.4l3.2 -6.1h-6.5zM1099.5 1276.4l3.2 -6.1h-6.5zM1103.9 1279.4l3.2 -6.1h-6.5zM1108.2 1282.5l3.2 -6.1h-6.5zM1112.6 1285.6l3.2 -6.1h-6.5zM1117 1288.7l3.2 -6.1h-6.5zM1121.4 1291.9l3.2 -6.1h-6.5zM1125.8 1295l3.2 -6.1h-6.5zM1130.2 1298.2l3.2 -6.1h-6.5zM1134.6 1301.3l3.2 -6.1h-6.5zM1139 1304.5l3.2 -6.1h-6.5zM1143.4 1307.6l3.2 -6.1h-6.5zM1147.8 1310.6l3.2 -6.1h-6.5zM1152.1 1313.5l3.2 -6.1h-6.5zM1156.5 1316.3l3.2 -6.1h-6.5zM1160.9 1319l3.2 -6.1h-6.5zM1165.3 1321.7l3.2 -6.1h-6.5zM1169.7 1324.5l3.2 -6.1h-6.5zM1174.1 1327l3.2 -6.1h-6.5zM1178.5 1329.1l3.2 -6.1h-6.5zM1182.9 1330.9l3.2 -6.1h-6.5zM1187.3 1332.4l3.2 -6.1h-6.5z" fill="#91619a"/><path d="M888.8 1323.7l3.2 -6.1h-6.5zM893.1 1323.3l3.2 -6.1h-6.5zM897.5 1322.5l3.2 -6.1h-6.5zM901.9 1320.7l3.2 -6.1h-6.5zM906.3 1318.1l3.2 -6.1h-6.5zM910.7 1315.6l3.2 -6.1h-6.5zM915.1 1312.8l3.2 -6.1h-6.5zM919.5 1309.8l3.2 -6.1h-6.5zM923.9 1306.6l3.2 -6.1h-6.5zM928.3 1303.1l3.2 -6.1h-6.5zM932.6 1299.4l3.2 -6.1h-6.5zM937 1295.4l3.2 -6.1h-6.5zM941.4 1290.8l3.2 -6.1h-6.5zM945.8 1285.7l3.2 -6.1h-6.5zM950.2 1280.5l3.2 -6.1h-6.5zM954.6 1275l3.2 -6.1h-6.5zM959 1269.2l3.2 -6.1h-6.5zM963.4 1263.2l3.2 -6.1h-6.5zM967.8 1257.1l3.2 -6.1h-6.5zM972.2 1250.9l3.2 -6.1h-6.5zM976.5 1244.9l3.2 -6.1h-6.5zM980.9 1239.6l3.2 -6.1h-6.5zM985.3 1234.8l3.2 -6.1h-6.5zM989.7 1230l3.2 -6.1h-6.5zM994.1 1225.3l3.2 -6.1h-6.5zM998.5 1221.8l3.2 -6.1h-6.5zM1002.9 1218.9l3.2 -6.1h-6.5zM1007.3 1217.5l3.2 -6.1h-6.5zM1011.7 1217.5l3.2 -6.1h-6.5zM1016.1 1217.5l3.2 -6.1h-6.5zM1020.4 1217.8l3.2 -6.1h-6.5zM1024.8 1219.2l3.2 -6.1h-6.5zM1029.2 1220.4l3.2 -6.1h-6.5zM1033.6 1221.5l3.2 -6.1h-6.5zM1038 1222.6l3.2 -6.1h-6.5zM1042.4 1223.7l3.2 -6.1h-6.5zM1046.8 1224.8l3.2 -6.1h-6.5zM1051.2 1225.8l3.2 -6.1h-6.5zM1055.6 1226.6l3.2 -6.1h-6.5zM1060 1226.7l3.2 -6.1h-6.5zM1064.3 1226.5l3.2 -6.1h-6.5zM1068.7 1226l3.2 -6.1h-6.5zM1073.1 1224.5l3.2 -6.1h-6.5zM1077.5 1222.5l3.2 -6.1h-6.5zM1081.9 1220l3.2 -6.1h-6.5zM1086.3 1217l3.2 -6.1h-6.5zM1090.7 1213.9l3.2 -6.1h-6.5zM1095.1 1210.6l3.2 -6.1h-6.5zM1099.5 1207.2l3.2 -6.1h-6.5zM1103.9 1203.8l3.2 -6.1h-6.5zM1108.2 1200.7l3.2 -6.1h-6.5zM1112.6 1197.8l3.2 -6.1h-6.5zM1117 1195.2l3.2 -6.1h-6.5zM1121.4 1193l3.2 -6.1h-6.5zM1125.8 1191.2l3.2 -6.1h-6.5zM1130.2 1190.1l3.2 -6.1h-6.5zM1134.6 1189.4l3.2 -6.1h-6.5zM1139 1189.3l3.2 -6.1h-6.5zM1143.4 1189.8l3.2 -6.1h-6.5zM1147.8 1190.8l3.2 -6.1h-6.5zM1152.1 1192.5l3.2 -6.1h-6.5zM1156.5 1195.1l3.2 -6.1h-6.5zM1160.9 1198.1l3.2 -6.1h-6.5zM1165.3 1201.8l3.2 -6.1h-6.5zM1169.7 1205.8l3.2 -6.1h-6.5zM1174.1 1210.3l3.2 -6.1h-6.5zM1178.5 1214.7l3.2 -6.1h-6.5zM1182.9 1218.7l3.2 -6.1h-6.5zM1187.3 1222.6l3.2 -6.1h-6.5z" fill="#91619a"/><path d="M925 1143L928.6 1142.5L932.2 1142.2L935.7 1142.1L939.3 1142L942.9 1142L946.5 1142.3L950.1 1142.9L953.6 1143.8L957.2 1144.8L960.8 1145.7L964.4 1146.8L968 1148L971.6 1149.4L975.1 1150.9L978.7 1152.6L982.3 1154.7L985.9 1157L989.5 1159.6L993 1162.3L996.6 1165L1000.2 1167.9L1003.8 1170.9L1007.4 1174L1010.9 1177L1014.5 1180L1018.1 1183L1021.7 1186L1025.3 1189L1028.9 1192L1032.4 1195L1036 1198L1039.6 1200.9L1043.2 1203.8L1046.8 1206.7L1050.3 1209.4L1053.9 1212.2L1057.5 1214.9L1061.1 1217.6L1064.7 1220.2L1068.2 1222.7L1071.8 1224.8L1075.4 1226.7L1079 1228.5L1082.6 1230.1L1086.1 1231.8L1089.7 1233.2L1093.3 1234.6L1096.9 1236.1L1100.5 1237.7L1104.1 1239.6L1107.6 1241.6L1111.2 1243.8L1114.8 1246.1L1118.4 1248.6L1122 1251.2L1125.5 1254L1129.1 1256.8L1132.7 1259.7L1136.3 1262.6L1139.9 1265.6L1143.4 1268.6L1147 1271.8L1150.6 1275L1154.2 1278.4L1157.8 1281.7L1161.4 1285L1164.9 1288.2L1168.5 1291.4L1172.1 1294.7L1175.7 1298.2L1179.3 1301.8L1182.8 1305.7L1186.4 1309.6L1190 1313.7" fill="none" stroke="#353535" stroke-width="1.45"/><path d="M925 1305L928.6 1303.4L932.2 1301L935.7 1297.9L939.3 1294.4L942.9 1289.8L946.5 1284.2L950.1 1277.7L953.6 1270.3L957.2 1263.1L960.8 1255.9L964.4 1248.2L968 1240.4L971.6 1233L975.1 1226L978.7 1219.4L982.3 1212.9L985.9 1206.1L989.5 1199.6L993 1194L996.6 1189.1L1000.2 1184.9L1003.8 1181.4L1007.4 1178.9L1010.9 1176.7L1014.5 1175.1L1018.1 1174.1L1021.7 1173.3L1025.3 1173L1028.9 1173L1032.4 1173L1036 1173.1L1039.6 1173.9L1043.2 1175.3L1046.8 1177.4L1050.3 1180.3L1053.9 1183.8L1057.5 1188L1061.1 1193L1064.7 1198.3L1068.2 1203.3L1071.8 1208L1075.4 1212L1079 1215.5L1082.6 1218.2L1086.1 1220.3L1089.7 1220.5L1093.3 1220.5L1096.9 1219.9L1100.5 1216.6L1104.1 1213.1L1107.6 1209.3L1111.2 1204.4L1114.8 1198.4L1118.4 1191.6L1122 1184.7L1125.5 1178.9L1129.1 1173.7L1132.7 1168.8L1136.3 1164.3L1139.9 1160.1L1143.4 1156.5L1147 1153.2L1150.6 1150.2L1154.2 1147.6L1157.8 1145.2L1161.4 1143L1164.9 1141.3L1168.5 1139.8L1172.1 1138.5L1175.7 1137.4L1179.3 1136.6L1182.8 1135.9L1186.4 1135.4L1190 1135" fill="none" stroke="#353535" stroke-width="1.45"/><path d="M911.2 1157.5L915 1157.7L918.8 1158L922.6 1158.4L926.3 1158.9L930.1 1159.6L933.9 1160.4L937.6 1161.3L941.4 1162.4L945.2 1163.7L948.9 1165.3L952.7 1166.9L956.5 1168.7L960.2 1170.6L964 1172.7L967.8 1174.9L971.5 1177.2L975.3 1179.6L979.1 1182.2L982.8 1184.8L986.6 1187.3L990.4 1189.9L994.1 1192.4L997.9 1194.9L1001.7 1197.3L1005.4 1199.6L1009.2 1201.9L1013 1204.2L1016.7 1206.6L1020.5 1208.9L1024.3 1211.3L1028 1213.7L1031.8 1216.2L1035.6 1218.7L1039.3 1221.2L1043.1 1223.7L1046.9 1226.2L1050.6 1228.8L1054.4 1231.4L1058.2 1233.8L1061.9 1236.2L1065.7 1238.4L1069.5 1240.6L1073.2 1242.7L1077 1244.9L1080.8 1247.2L1084.5 1249.4L1088.3 1251.6L1092.1 1253.6L1095.8 1255.4L1099.6 1257.3L1103.4 1259.1L1107.1 1261.2L1110.9 1263.3L1114.7 1265.5L1118.4 1267.8L1122.2 1270.1L1126 1272.6L1129.7 1275.1L1133.5 1277.7L1137.3 1280.4L1141 1283.1L1144.8 1286L1148.6 1288.9L1152.3 1291.8L1156.1 1294.8L1159.9 1297.9L1163.6 1300.9L1167.4 1303.9L1171.2 1306.9L1174.9 1309.8L1178.7 1312.8L1182.5 1315.6L1186.2 1318.5L1190 1321.2" fill="none" stroke="#353535" stroke-width="1.45"/><path d="M911.2 1283.8L915 1280.1L918.8 1276.3L922.6 1272.3L926.3 1268.1L930.1 1263.6L933.9 1258.7L937.6 1253.3L941.4 1248.1L945.2 1242.8L948.9 1237.7L952.7 1232.7L956.5 1227.9L960.2 1223.5L964 1219.4L967.8 1215.7L971.5 1212.5L975.3 1209.8L979.1 1207.5L982.8 1205.6L986.6 1204.1L990.4 1202.9L994.1 1202L997.9 1201.4L1001.7 1201.2L1005.4 1201.2L1009.2 1201.2L1013 1201.5L1016.7 1202.2L1020.5 1203.1L1024.3 1204.3L1028 1205.9L1031.8 1207.5L1035.6 1209.4L1039.3 1211.4L1043.1 1213.5L1046.9 1215.6L1050.6 1217.9L1054.4 1220.2L1058.2 1222.5L1061.9 1224.5L1065.7 1226.4L1069.5 1227.8L1073.2 1228.9L1077 1229.7L1080.8 1230L1084.5 1229.3L1088.3 1228.1L1092.1 1226.5L1095.8 1223.7L1099.6 1220.3L1103.4 1216.9L1107.1 1213L1110.9 1209.1L1114.7 1205.4L1118.4 1201.6L1122.2 1197.7L1126 1193.6L1129.7 1189.8L1133.5 1186.4L1137.3 1183.2L1141 1180.6L1144.8 1178.1L1148.6 1176.1L1152.3 1174.7L1156.1 1173.5L1159.9 1173L1163.6 1173L1167.4 1173L1171.2 1173L1174.9 1173.6L1178.7 1174.6L1182.5 1175.9L1186.2 1177.7L1190 1180" fill="none" stroke="#353535" stroke-width="1.45"/><path d="M892.5 1168L896.5 1168L900.5 1168L904.6 1168L908.6 1168L912.6 1168L916.6 1168.2L920.6 1168.6L924.7 1169.2L928.7 1169.9L932.7 1170.5L936.7 1171.2L940.7 1172.1L944.8 1173L948.8 1174L952.8 1175.1L956.8 1176.3L960.8 1177.7L964.9 1179.2L968.9 1180.8L972.9 1182.6L976.9 1184.6L980.9 1186.7L985 1189L989 1191.4L993 1193.9L997 1196.6L1001 1199.3L1005.1 1202L1009.1 1204.7L1013.1 1207.5L1017.1 1210.2L1021.1 1212.9L1025.2 1215.5L1029.2 1218.1L1033.2 1220.7L1037.2 1223.2L1041.2 1225.8L1045.3 1228.4L1049.3 1231L1053.3 1233.6L1057.3 1236.1L1061.4 1238.7L1065.4 1241.3L1069.4 1243.9L1073.4 1246.5L1077.4 1249.1L1081.5 1251.6L1085.5 1254.1L1089.5 1256.7L1093.5 1259.4L1097.5 1262.2L1101.6 1265.1L1105.6 1268L1109.6 1270.9L1113.6 1274L1117.6 1277.2L1121.7 1280.4L1125.7 1283.6L1129.7 1286.7L1133.7 1289.9L1137.7 1293.1L1141.8 1296.3L1145.8 1299.3L1149.8 1302.3L1153.8 1305.2L1157.8 1308L1161.9 1310.8L1165.9 1313.6L1169.9 1316.5L1173.9 1319.2L1177.9 1321.5L1182 1323.3L1186 1325L1190 1326.2" fill="none" stroke="#353535" stroke-width="1.45"/><path d="M888.8 1315.5L892.8 1314.8L896.9 1313.8L901 1312.5L905 1311L909.1 1308.9L913.2 1306.6L917.2 1304.1L921.3 1301.5L925.4 1298.4L929.5 1294.9L933.5 1291L937.6 1287L941.7 1282.6L945.7 1277.7L949.8 1272.5L953.9 1267L958 1261.4L962 1255.6L966.1 1250.2L970.2 1244.8L974.2 1238.6L978.3 1232.6L982.4 1227.1L986.5 1222L990.5 1217.2L994.6 1212.7L998.7 1208.6L1002.7 1205.5L1006.8 1202.9L1010.9 1200.8L1014.9 1199.1L1019 1197.8L1023.1 1196.7L1027.2 1195.9L1031.2 1195.4L1035.3 1195.1L1039.4 1195L1043.4 1195.1L1047.5 1195.3L1051.6 1195.6L1055.7 1196.2L1059.7 1196.7L1063.8 1197.1L1067.9 1197.4L1071.9 1197.5L1076 1197.5L1080.1 1197.5L1084.2 1197.1L1088.2 1196.4L1092.3 1195.4L1096.4 1194.2L1100.4 1192.9L1104.5 1191.6L1108.6 1190.4L1112.7 1189.1L1116.7 1187.7L1120.8 1186.9L1124.9 1186.5L1128.9 1186.3L1133 1186.7L1137.1 1188.2L1141.1 1190L1145.2 1192.6L1149.3 1195.7L1153.4 1199.2L1157.4 1203.4L1161.5 1208L1165.6 1212.9L1169.6 1218.3L1173.7 1224L1177.8 1230.2L1181.9 1236.9L1185.9 1244.4L1190 1252.5" fill="none" stroke="#353535" stroke-width="1.45"/><path d="M888.8 1186.2L892.8 1186.2L896.9 1186.2L901 1186.2L905 1186.2L909.1 1186.2L913.2 1186.4L917.2 1186.7L921.3 1187.3L925.4 1188L929.5 1188.7L933.5 1189.3L937.6 1190.1L941.7 1191L945.7 1191.9L949.8 1193L953.9 1194.1L958 1195.3L962 1196.6L966.1 1198L970.2 1199.6L974.2 1201.2L978.3 1203L982.4 1204.9L986.5 1207L990.5 1209L994.6 1211.2L998.7 1213.5L1002.7 1215.8L1006.8 1218.2L1010.9 1220.5L1014.9 1222.8L1019 1225.1L1023.1 1227.4L1027.2 1229.7L1031.2 1231.9L1035.3 1234.2L1039.4 1236.5L1043.4 1238.8L1047.5 1241.1L1051.6 1243.4L1055.7 1245.6L1059.7 1247.9L1063.8 1250.2L1067.9 1252.5L1071.9 1254.9L1076 1257.4L1080.1 1259.9L1084.2 1262.5L1088.2 1265.1L1092.3 1267.8L1096.4 1270.5L1100.4 1273.3L1104.5 1276.2L1108.6 1279L1112.7 1281.9L1116.7 1284.8L1120.8 1287.7L1124.9 1290.6L1128.9 1293.5L1133 1296.5L1137.1 1299.4L1141.1 1302.3L1145.2 1305.1L1149.3 1307.9L1153.4 1310.5L1157.4 1313.1L1161.5 1315.6L1165.6 1318.2L1169.6 1320.7L1173.7 1323.1L1177.8 1325.1L1181.9 1326.8L1185.9 1328.3L1190 1329.5" fill="none" stroke="#353535" stroke-width="1.45"/><path d="M888.8 1316.2L892.8 1315.8L896.9 1315.1L901 1314.2L905 1312.9L909.1 1311.4L913.2 1309.4L917.2 1307.1L921.3 1304.6L925.4 1301.6L929.5 1298.4L933.5 1295L937.6 1291.2L941.7 1286.8L945.7 1282.1L949.8 1277.2L953.9 1272.2L958 1266.9L962 1261.3L966.1 1255.7L970.2 1250.1L974.2 1244.6L978.3 1239.5L982.4 1234.9L986.5 1230.6L990.5 1226.3L994.6 1222.3L998.7 1219.2L1002.7 1216.7L1006.8 1215.1L1010.9 1214.7L1014.9 1214.5L1019 1214.6L1023.1 1215.6L1027.2 1216.9L1031.2 1217.9L1035.3 1219L1039.4 1220L1043.4 1221.1L1047.5 1222L1051.6 1222.8L1055.7 1223.4L1059.7 1223.5L1063.8 1223.3L1067.9 1223L1071.9 1221.9L1076 1220.2L1080.1 1218.1L1084.2 1215.4L1088.2 1212.5L1092.3 1209.5L1096.4 1206.4L1100.4 1203.3L1104.5 1200.2L1108.6 1197.2L1112.7 1194.4L1116.7 1191.9L1120.8 1189.9L1124.9 1188.2L1128.9 1187.2L1133 1186.6L1137.1 1186.3L1141.1 1186.6L1145.2 1187.4L1149.3 1188.6L1153.4 1190.5L1157.4 1193L1161.5 1195.9L1165.6 1199.5L1169.6 1203.4L1173.7 1207.8L1177.8 1212.3L1181.9 1216.6L1185.9 1220.8L1190 1225" fill="none" stroke="#353535" stroke-width="1.45"/><rect x="883.75" y="1113.75" width="307.5" height="230.75" fill="none" stroke="#111" stroke-width="2"/><text x="884.75" y="1373.5" font-size="20.5" text-anchor="middle">10<tspan dx="6.5" dy="-8.61" font-size="11.48">2</tspan></text><text x="928.68" y="1373.5" font-size="20.5" text-anchor="middle">10<tspan dx="6.5" dy="-8.61" font-size="11.48">1</tspan></text><text x="969.11" y="1373.5" font-size="20.5" text-anchor="middle">10<tspan dx="0" dy="-8.61" font-size="11.48">0</tspan></text><text x="1013.04" y="1373.5" font-size="20.5" text-anchor="middle">10<tspan dx="0" dy="-8.61" font-size="11.48">1</tspan></text><text x="1056.97" y="1373.5" font-size="20.5" text-anchor="middle">10<tspan dx="0" dy="-8.61" font-size="11.48">2</tspan></text><text x="1100.9" y="1373.5" font-size="20.5" text-anchor="middle">10<tspan dx="0" dy="-8.61" font-size="11.48">3</tspan></text><text x="1144.83" y="1373.5" font-size="20.5" text-anchor="middle">10<tspan dx="0" dy="-8.61" font-size="11.48">4</tspan></text><text x="1188.76" y="1373.5" font-size="20.5" text-anchor="middle">10<tspan dx="0" dy="-8.61" font-size="11.48">5</tspan></text><text x="870" y="1133.9" font-size="20.5" text-anchor="end">10<tspan dx="0" dy="-8.61" font-size="11.48">6</tspan></text><text x="870" y="1184.3" font-size="20.5" text-anchor="end">10<tspan dx="0" dy="-8.61" font-size="11.48">5</tspan></text><text x="870" y="1233" font-size="20.5" text-anchor="end">10<tspan dx="0" dy="-8.61" font-size="11.48">4</tspan></text><text x="870" y="1281.7" font-size="20.5" text-anchor="end">10<tspan dx="0" dy="-8.61" font-size="11.48">3</tspan></text><text x="870" y="1330.4" font-size="20.5" text-anchor="end">10<tspan dx="0" dy="-8.61" font-size="11.48">2</tspan></text><text x="1200.4" y="1143.8" font-size="20.5" text-anchor="start" >80</text><text x="1200.4" y="1190.05" font-size="20.5" text-anchor="start" >60</text><text x="1200.4" y="1236.3" font-size="20.5" text-anchor="start" >40</text><text x="1200.4" y="1282.55" font-size="20.5" text-anchor="start" >20</text><text x="1200.4" y="1328.8" font-size="20.5" text-anchor="start" >0</text><text x="1039" y="1401" font-size="22" text-anchor="middle" textLength="125.5" lengthAdjust="spacing">Frequency/Hz</text><text transform="translate(828.7 1235.3) rotate(-90)" font-size="22" text-anchor="middle" textLength="118" lengthAdjust="spacing">|<tspan font-style="italic">Z</tspan>|/(<tspan font-weight="bold">Ω</tspan> · cm<tspan dy="-8" font-size="13">−2</tspan><tspan dy="8">)</tspan></text><text transform="translate(1248 1238.7) rotate(-90)" font-size="22" text-anchor="middle" textLength="157" lengthAdjust="spacing">−Phase angle/( ° )</text><path d="M983.8 1259.5h0" stroke="#c81a2d" stroke-width="5.49" stroke-linecap="square" fill="none"/><path d="M983.8 1277.5h0" stroke="#223f8e" stroke-width="6.05" stroke-linecap="round" fill="none"/><path d="M983.8 1290.6l3.8 7.2h-7.6z" fill="#7fae2e"/><path d="M983.8 1315.1l3.8 -7.2h-7.6z" fill="#91619a"/><text x="1010" y="1265" font-size="22" text-anchor="start" style="stroke-width:.45px">1 h</text><text x="1010" y="1282" font-size="22" text-anchor="start" style="stroke-width:.45px">24 h</text><text x="1010" y="1299.25" font-size="22" text-anchor="start" style="stroke-width:.45px">96 h</text><text x="1010" y="1316.25" font-size="22" text-anchor="start" style="stroke-width:.45px">168 h</text><text x="1010" y="1333.75" font-size="22" text-anchor="start" style="stroke-width:.45px">Fitting</text><path d="M905.5 1196.75L919 1191.45L915 1196.75L919 1202.05Z" fill="#111"/><path d="M1158.25 1216.75L1144.75 1211.45L1148.75 1216.75L1144.75 1222.05Z" fill="#111"/></g><path d="M897 1341.9V1344.5M904.7 1341.9V1344.5M910.2 1341.9V1344.5M914.5 1341.9V1344.5M917.9 1341.9V1344.5M920.9 1341.9V1344.5M923.4 1341.9V1344.5M925.7 1341.9V1344.5M940.9 1341.9V1344.5M948.6 1341.9V1344.5M954.1 1341.9V1344.5M958.4 1341.9V1344.5M961.9 1341.9V1344.5M964.8 1341.9V1344.5M967.4 1341.9V1344.5M969.6 1341.9V1344.5M984.8 1341.9V1344.5M992.6 1341.9V1344.5M998.1 1341.9V1344.5M1002.3 1341.9V1344.5M1005.8 1341.9V1344.5M1008.7 1341.9V1344.5M1011.3 1341.9V1344.5M1013.5 1341.9V1344.5M1028.8 1341.9V1344.5M1036.5 1341.9V1344.5M1042 1341.9V1344.5M1046.2 1341.9V1344.5M1049.7 1341.9V1344.5M1052.7 1341.9V1344.5M1055.2 1341.9V1344.5M1057.5 1341.9V1344.5M1072.7 1341.9V1344.5M1080.4 1341.9V1344.5M1085.9 1341.9V1344.5M1090.2 1341.9V1344.5M1093.7 1341.9V1344.5M1096.6 1341.9V1344.5M1099.1 1341.9V1344.5M1101.4 1341.9V1344.5M1116.6 1341.9V1344.5M1124.4 1341.9V1344.5M1129.8 1341.9V1344.5M1134.1 1341.9V1344.5M1137.6 1341.9V1344.5M1140.5 1341.9V1344.5M1143.1 1341.9V1344.5M1145.3 1341.9V1344.5M1160.6 1341.9V1344.5M1168.3 1341.9V1344.5M1173.8 1341.9V1344.5M1178 1341.9V1344.5M1181.5 1341.9V1344.5M1184.5 1341.9V1344.5M1187 1341.9V1344.5M1189.2 1341.9V1344.5M883.8 1162.7H886.4M883.8 1153.9H886.4M883.8 1147.7H886.4M883.8 1142.9H886.4M883.8 1139H886.4M883.8 1135.7H886.4M883.8 1132.8H886.4M883.8 1130.3H886.4M883.8 1212.3H886.4M883.8 1203.5H886.4M883.8 1197.3H886.4M883.8 1192.5H886.4M883.8 1188.6H886.4M883.8 1185.3H886.4M883.8 1182.4H886.4M883.8 1179.9H886.4M883.8 1261.9H886.4M883.8 1253.1H886.4M883.8 1246.9H886.4M883.8 1242.1H886.4M883.8 1238.2H886.4M883.8 1234.9H886.4M883.8 1232H886.4M883.8 1229.5H886.4M883.8 1311.5H886.4M883.8 1302.7H886.4M883.8 1296.5H886.4M883.8 1291.7H886.4M883.8 1287.8H886.4M883.8 1284.5H886.4M883.8 1281.6H886.4M883.8 1279.1H886.4M883.8 1341.3H886.4M883.8 1337.4H886.4M883.8 1334.1H886.4M883.8 1331.2H886.4M883.8 1328.7H886.4" stroke="#111" stroke-width="1.2" fill="none"/><path d="M927.7 1339V1344.5M971.6 1339V1344.5M1015.5 1339V1344.5M1059.5 1339V1344.5M1103.4 1339V1344.5M1147.3 1339V1344.5M883.8 1128H889.2M883.8 1177.6H889.2M883.8 1227.2H889.2M883.8 1276.8H889.2M883.8 1326.4H889.2M1185.8 1137H1191.2M1185.8 1183.2H1191.2M1185.8 1229.5H1191.2M1185.8 1275.8H1191.2M1185.8 1322H1191.2" stroke="#111" stroke-width="2" fill="none"/><path d="M968.8 1327.5H999.5" stroke="#353535" stroke-width="1.5" fill="none"/><path d="M939.5 1196.8H911.5M1124.5 1216.8H1152.2" stroke="#111" stroke-width="1.7" fill="none"/>
<g><path d="M923.2 1996.3L965 1996.3" stroke="#111" stroke-width="1.4" fill="none" stroke-linejoin="miter"/><path d="M965 1996.3L971.7 1982.8L985.2 2009.8L998.7 1982.8L1012.2 2009.8L1018.9 1996.3" stroke="#111" stroke-width="1.4" fill="none" stroke-linejoin="miter"/><path d="M1018.9 1996.3L1074.9 1996.3" stroke="#111" stroke-width="1.4" fill="none" stroke-linejoin="miter"/><path d="M1074.9 1926L1074.9 2033.8" stroke="#111" stroke-width="1.4" fill="none" stroke-linejoin="miter"/><path d="M1074.9 1926L1235.7 1926" stroke="#111" stroke-width="1.4" fill="none" stroke-linejoin="miter"/><path d="M1221.5 1913L1235.7 1926L1221.5 1939" stroke="#111" stroke-width="1.4" fill="none" stroke-linejoin="miter"/><path d="M1246 1913L1260.3 1926L1246 1939" stroke="#111" stroke-width="1.4" fill="none" stroke-linejoin="miter"/><path d="M1260.3 1926L1402.5 1926" stroke="#111" stroke-width="1.4" fill="none" stroke-linejoin="miter"/><path d="M1402.5 1926L1402.5 2058.4" stroke="#111" stroke-width="1.4" fill="none" stroke-linejoin="miter"/><path d="M1074.9 2033.8L1127.9 2033.8" stroke="#111" stroke-width="1.4" fill="none" stroke-linejoin="miter"/><path d="M1127.9 2033.8L1135 2020.3L1149.2 2047.3L1163.5 2020.3L1177.7 2047.3L1184.8 2033.8" stroke="#111" stroke-width="1.4" fill="none" stroke-linejoin="miter"/><path d="M1184.8 2033.8L1237.4 2033.8" stroke="#111" stroke-width="1.4" fill="none" stroke-linejoin="miter"/><path d="M1237.4 1996.3L1237.4 2058.4" stroke="#111" stroke-width="1.4" fill="none" stroke-linejoin="miter"/><path d="M1237.4 1996.3L1309.8 1996.3" stroke="#111" stroke-width="1.4" fill="none" stroke-linejoin="miter"/><path d="M1294.7 1983L1309.8 1996.3L1294.7 2010" stroke="#111" stroke-width="1.4" fill="none" stroke-linejoin="miter"/><path d="M1318.4 1983L1333.5 1996.3L1318.4 2010" stroke="#111" stroke-width="1.4" fill="none" stroke-linejoin="miter"/><path d="M1333.5 1996.3L1444.3 1996.3" stroke="#111" stroke-width="1.4" fill="none" stroke-linejoin="miter"/><path d="M1237.4 2058.4L1294.7 2058.4" stroke="#111" stroke-width="1.4" fill="none" stroke-linejoin="miter"/><path d="M1294.7 2058.4L1301.4 2044.9L1314.9 2071.9L1328.4 2044.9L1341.9 2071.9L1348.6 2058.4" stroke="#111" stroke-width="1.4" fill="none" stroke-linejoin="miter"/><path d="M1348.6 2058.4L1402.5 2058.4" stroke="#111" stroke-width="1.4" fill="none" stroke-linejoin="miter"/><text x="980" y="1973.4" font-size="22.5"><tspan font-style="italic">R</tspan><tspan dy="4" font-size="13.5">s</tspan></text><text x="1209.8" y="1901" font-size="22.5"><tspan font-style="italic">CPE</tspan><tspan dy="4" font-size="13.5">out</tspan></text><text x="1284.8" y="1974.7" font-size="22.5"><tspan font-style="italic">CPE</tspan><tspan dy="4" font-size="13.5">in</tspan></text><text x="1135.3" y="2011" font-size="22.5"><tspan font-style="italic">R</tspan><tspan dy="4" font-size="13.5">out</tspan></text><text x="1306.4" y="2037.2" font-size="22.5"><tspan font-style="italic">R</tspan><tspan dy="4" font-size="13.5">in</tspan></text></g></svg>
</body></html>
